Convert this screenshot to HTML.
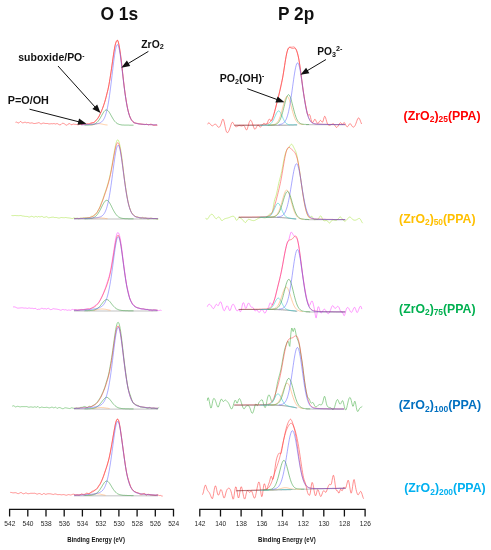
<!DOCTYPE html>
<html><head><meta charset="utf-8"><title>XPS O 1s / P 2p</title>
<style>
html,body{margin:0;padding:0;background:#fff;}
body{width:491px;height:550px;overflow:hidden;font-family:"Liberation Sans",sans-serif;}
svg{display:block;font-family:"Liberation Sans",sans-serif;opacity:0.999;will-change:transform;}
</style></head><body>
<svg width="491" height="550" viewBox="0 0 491 550">
<rect width="491" height="550" fill="#fff"/>
<g id="curves">
<path d="M15.5 122.3 L16.0 122.2 L16.5 122.1 L17.0 122.3 L17.5 122.6 L18.0 122.8 L18.5 123.0 L19.0 122.9 L19.5 122.3 L20.0 121.7 L20.5 121.5 L21.0 121.8 L21.5 122.2 L22.0 122.6 L22.5 122.8 L23.0 122.8 L23.5 122.7 L24.0 122.5 L24.5 122.3 L25.0 122.1 L25.5 122.3 L26.0 122.6 L26.5 122.8 L27.0 122.8 L27.5 122.6 L28.0 122.5 L28.5 122.6 L29.0 122.8 L29.5 123.0 L30.0 123.1 L30.5 123.1 L31.0 123.0 L31.5 122.9 L32.0 122.9 L32.5 123.0 L33.0 123.2 L33.5 123.4 L34.0 123.5 L34.5 123.5 L35.0 123.5 L35.5 123.4 L36.0 123.3 L36.5 123.2 L37.0 123.1 L37.5 123.0 L38.0 122.8 L38.5 122.7 L39.0 122.7 L39.5 122.9 L40.0 123.3 L40.5 123.7 L41.0 123.9 L41.5 123.8 L42.0 123.6 L42.5 123.3 L43.0 123.1 L43.5 123.1 L44.0 123.2 L44.5 123.3 L45.0 123.4 L45.5 123.5 L46.0 123.6 L46.5 123.5 L47.0 123.5 L47.5 123.5 L48.0 123.6 L48.5 123.8 L49.0 123.9 L49.5 123.9 L50.0 123.9 L50.5 123.8 L51.0 123.7 L51.5 123.7 L52.0 123.8 L52.5 123.8 L53.0 123.7 L53.5 123.6 L54.0 123.6 L54.5 123.7 L55.0 123.9 L55.5 124.0 L56.0 123.9 L56.5 123.7 L57.0 123.6 L57.5 123.7 L58.0 124.0 L58.5 124.3 L59.0 124.6 L59.5 124.8 L60.0 124.9 L60.5 124.7 L61.0 124.4 L61.5 123.9 L62.0 123.5 L62.5 123.3 L63.0 123.3 L63.5 123.4 L64.0 123.6 L64.5 123.9 L65.0 124.3 L65.5 124.7 L66.0 125.0 L66.5 125.2 L67.0 125.2 L67.5 124.8 L68.0 124.3 L68.5 123.9 L69.0 123.6 L69.5 123.6 L70.0 123.7 L70.5 124.1 L71.0 124.6 L71.5 124.7 L72.0 124.6 L72.5 124.4 L73.0 124.2 L73.5 124.1 L74.0 124.2 L74.5 124.3 L75.0 124.3 L75.5 124.4 L76.0 124.4 L76.5 124.5 L77.0 124.6 L77.5 124.7 L78.0 124.7 L78.5 124.7 L79.0 124.5 L79.5 124.4 L80.0 124.4 L80.5 124.4 L81.0 124.5 L81.5 124.5 L82.0 124.5 L82.5 124.3 L83.0 124.2 L83.5 124.1 L84.0 124.0 L84.5 124.0 L85.0 124.0 L85.5 124.1 L86.0 124.1 L86.5 124.0 L87.0 123.8 L87.5 123.7 L88.0 123.8 L88.5 123.9 L89.0 123.9 L89.5 123.8 L90.0 123.5 L90.5 123.1 L91.0 122.8 L91.5 122.6 L92.0 122.5 L92.5 122.5 L93.0 122.6 L93.5 122.7 L94.0 122.6 L94.5 122.2 L95.0 121.6 L95.5 121.0 L96.0 120.3 L96.5 119.8 L97.0 119.2 L97.5 118.7 L98.0 118.0 L98.5 117.3 L99.0 116.3 L99.5 115.3 L100.0 114.1 L100.5 113.0 L101.0 111.9 L101.5 110.8 L102.0 109.7 L102.5 108.4 L103.0 107.1 L103.5 105.7 L104.0 104.2 L104.5 102.7 L105.0 101.1 L105.5 99.2 L106.0 97.2 L106.5 95.1 L107.0 93.1 L107.5 91.3 L108.0 89.4 L108.5 87.1 L109.0 84.4 L109.5 81.4 L110.0 78.3 L110.5 75.1 L111.0 71.8 L111.5 68.5 L112.0 65.0 L112.5 61.4 L113.0 57.9 L113.5 54.4 L114.0 51.2 L114.5 48.2 L115.0 45.7 L115.5 43.8 L116.0 42.4 L116.5 41.3 L117.0 40.4 L117.5 40.1 L118.0 40.8 L118.5 42.5 L119.0 45.0 L119.5 47.8 L120.0 50.9 L120.5 54.3 L121.0 58.0 L121.5 62.2 L122.0 66.7 L122.5 71.5 L123.0 76.2 L123.5 80.8 L124.0 85.2 L124.5 89.2 L125.0 92.9 L125.5 96.2 L126.0 99.4 L126.5 102.4 L127.0 105.2 L127.5 107.8 L128.0 110.1 L128.5 112.2 L129.0 114.0 L129.5 115.6 L130.0 117.0 L130.5 118.2 L131.0 119.2 L131.5 119.9 L132.0 120.6 L132.5 121.3 L133.0 122.0 L133.5 122.6 L134.0 123.0 L134.5 123.1 L135.0 123.2 L135.5 123.1 L136.0 123.1 L136.5 123.2 L137.0 123.2 L137.5 123.4 L138.0 123.5 L138.5 123.7 L139.0 123.8 L139.5 123.9 L140.0 123.9 L140.5 124.0 L141.0 124.1 L141.5 124.2 L142.0 124.2 L142.5 124.3 L143.0 124.3 L143.5 124.4 L144.0 124.5 L144.5 124.6 L145.0 124.7 L145.5 124.5 L146.0 124.2 L146.5 124.0 L147.0 124.1 L147.5 124.5 L148.0 124.8 L148.5 125.0 L149.0 124.8 L149.5 124.5 L150.0 124.3 L150.5 124.2 L151.0 124.2 L151.5 124.3 L152.0 124.6 L152.5 124.9 L153.0 125.2 L153.5 125.4 L154.0 125.5 L154.5 125.4 L155.0 125.4 L155.5 125.3 L156.0 125.2 L156.5 125.2 L157.0 125.2 L157.5 125.2" fill="none" stroke="#ff5050" stroke-width="0.75" stroke-opacity="0.85" stroke-linejoin="round"/>
<path d="M81.0 124.7 L81.5 124.6 L82.0 124.6 L82.5 124.6 L83.0 124.6 L83.5 124.6 L84.0 124.5 L84.5 124.5 L85.0 124.5 L85.5 124.4 L86.0 124.4 L86.5 124.4 L87.0 124.3 L87.5 124.3 L88.0 124.2 L88.5 124.2 L89.0 124.1 L89.5 124.0 L90.0 123.9 L90.5 123.8 L91.0 123.7 L91.5 123.5 L92.0 123.3 L92.5 123.1 L93.0 122.9 L93.5 122.6 L94.0 122.3 L94.5 121.9 L95.0 121.5 L95.5 121.1 L96.0 120.6 L96.5 120.0 L97.0 119.4 L97.5 118.7 L98.0 118.0 L98.5 117.2 L99.0 116.4 L99.5 115.4 L100.0 114.5 L100.5 113.4 L101.0 112.3 L101.5 111.1 L102.0 109.9 L102.5 108.6 L103.0 107.2 L103.5 105.8 L104.0 104.3 L104.5 102.7 L105.0 101.1 L105.5 99.4 L106.0 97.6 L106.5 95.7 L107.0 93.7 L107.5 91.6 L108.0 89.4 L108.5 87.0 L109.0 84.5 L109.5 81.7 L110.0 78.8 L110.5 75.7 L111.0 72.4 L111.5 69.0 L112.0 65.5 L112.5 61.9 L113.0 58.4 L113.5 55.0 L114.0 51.7 L114.5 48.7 L115.0 46.0 L115.5 43.8 L116.0 42.0 L116.5 40.9 L117.0 40.4 L117.5 40.6 L118.0 41.5 L118.5 43.0 L119.0 45.2 L119.5 48.0 L120.0 51.3 L120.5 54.9 L121.0 58.9 L121.5 63.2 L122.0 67.5 L122.5 72.0 L123.0 76.4 L123.5 80.8 L124.0 85.0 L124.5 89.0 L125.0 92.9 L125.5 96.5 L126.0 99.8 L126.5 102.9 L127.0 105.7 L127.5 108.2 L128.0 110.4 L128.5 112.4 L129.0 114.1 L129.5 115.7 L130.0 117.0 L130.5 118.1 L131.0 119.0 L131.5 119.9 L132.0 120.5 L132.5 121.1 L133.0 121.6 L133.5 122.0 L134.0 122.3 L134.5 122.6 L135.0 122.9 L135.5 123.1 L136.0 123.2 L136.5 123.4 L137.0 123.5 L137.5 123.6 L138.0 123.7 L138.5 123.8 L139.0 123.9 L139.5 123.9 L140.0 124.0 L140.5 124.0 L141.0 124.1 L141.5 124.1 L142.0 124.2 L142.5 124.2 L143.0 124.3 L143.5 124.3 L144.0 124.3 L144.5 124.4 L145.0 124.4 L145.5 124.4 L146.0 124.5 L146.5 124.5 L147.0 124.5 L147.5 124.5 L148.0 124.6 L148.5 124.6 L149.0 124.6 L149.5 124.6 L150.0 124.6 L150.5 124.7 L151.0 124.7 L151.5 124.7 L152.0 124.7 L152.5 124.7 L153.0 124.7 L153.5 124.8 L154.0 124.8 L154.5 124.8 L155.0 124.8 L155.5 124.8 L156.0 124.8 L156.5 124.8 L157.0 124.8" fill="none" stroke="#ff3838" stroke-width="0.7" stroke-opacity="0.75" stroke-linejoin="round"/>
<path d="M90.5 125.0 L91.0 125.0 L91.5 124.9 L92.0 124.9 L92.5 124.8 L93.0 124.7 L93.5 124.6 L94.0 124.5 L94.5 124.4 L95.0 124.3 L95.5 124.2 L96.0 124.1 L96.5 124.0 L97.0 123.9 L97.5 123.8 L98.0 123.7 L98.5 123.7 L99.0 123.7 L99.5 123.7 L100.0 123.7 L100.5 123.8 L101.0 123.9 L101.5 124.0 L102.0 124.1 L102.5 124.2 L103.0 124.3 L103.5 124.4 L104.0 124.5 L104.5 124.6 L105.0 124.7 L105.5 124.8 L106.0 124.9 L106.5 124.9 L107.0 125.0 L107.5 125.0" fill="none" stroke="#ffb070" stroke-width="0.7" stroke-opacity="0.9" stroke-linejoin="round"/>
<path d="M84.5 125.1 L85.0 125.1 L85.5 125.1 L86.0 125.1 L86.5 125.1 L87.0 125.1 L87.5 125.1 L88.0 125.1 L88.5 125.1 L89.0 125.0 L89.5 125.0 L90.0 125.0 L90.5 124.9 L91.0 124.9 L91.5 124.8 L92.0 124.8 L92.5 124.7 L93.0 124.6 L93.5 124.4 L94.0 124.3 L94.5 124.1 L95.0 123.8 L95.5 123.5 L96.0 123.2 L96.5 122.8 L97.0 122.4 L97.5 121.9 L98.0 121.3 L98.5 120.7 L99.0 120.0 L99.5 119.3 L100.0 118.4 L100.5 117.6 L101.0 116.7 L101.5 115.8 L102.0 114.9 L102.5 114.0 L103.0 113.2 L103.5 112.4 L104.0 111.6 L104.5 111.0 L105.0 110.5 L105.5 110.2 L106.0 110.0 L106.5 109.9 L107.0 110.0 L107.5 110.3 L108.0 110.7 L108.5 111.3 L109.0 111.9 L109.5 112.7 L110.0 113.5 L110.5 114.4 L111.0 115.3 L111.5 116.2 L112.0 117.1 L112.5 117.9 L113.0 118.8 L113.5 119.6 L114.0 120.3 L114.5 121.0 L115.0 121.6 L115.5 122.1 L116.0 122.6 L116.5 123.0 L117.0 123.4 L117.5 123.7 L118.0 123.9 L118.5 124.1 L119.0 124.3 L119.5 124.5 L120.0 124.6 L120.5 124.7 L121.0 124.8 L121.5 124.9 L122.0 124.9 L122.5 125.0 L123.0 125.0 L123.5 125.0 L124.0 125.0 L124.5 125.1 L125.0 125.1 L125.5 125.1 L126.0 125.1 L126.5 125.1 L127.0 125.1 L127.5 125.1 L128.0 125.1 L128.5 125.1 L129.0 125.2 L129.5 125.2 L130.0 125.2 L130.5 125.2 L131.0 125.2 L131.5 125.2 L132.0 125.2 L132.5 125.2 L133.0 125.2 L133.5 125.2" fill="none" stroke="#3f9f43" stroke-width="0.7" stroke-opacity="0.85" stroke-linejoin="round"/>
<path d="M81.0 124.8 L81.5 124.8 L82.0 124.8 L82.5 124.8 L83.0 124.7 L83.5 124.7 L84.0 124.7 L84.5 124.7 L85.0 124.7 L85.5 124.7 L86.0 124.6 L86.5 124.6 L87.0 124.6 L87.5 124.6 L88.0 124.5 L88.5 124.5 L89.0 124.5 L89.5 124.5 L90.0 124.4 L90.5 124.4 L91.0 124.4 L91.5 124.3 L92.0 124.3 L92.5 124.3 L93.0 124.2 L93.5 124.2 L94.0 124.1 L94.5 124.1 L95.0 124.0 L95.5 124.0 L96.0 123.9 L96.5 123.8 L97.0 123.7 L97.5 123.6 L98.0 123.5 L98.5 123.4 L99.0 123.3 L99.5 123.1 L100.0 122.9 L100.5 122.6 L101.0 122.3 L101.5 122.0 L102.0 121.5 L102.5 121.0 L103.0 120.4 L103.5 119.7 L104.0 118.8 L104.5 117.8 L105.0 116.6 L105.5 115.3 L106.0 113.7 L106.5 111.9 L107.0 109.8 L107.5 107.5 L108.0 104.9 L108.5 102.1 L109.0 99.0 L109.5 95.6 L110.0 92.0 L110.5 88.1 L111.0 84.1 L111.5 80.0 L112.0 75.7 L112.5 71.5 L113.0 67.2 L113.5 63.1 L114.0 59.2 L114.5 55.6 L115.0 52.4 L115.5 49.6 L116.0 47.4 L116.5 45.8 L117.0 44.8 L117.5 44.6 L118.0 45.1 L118.5 46.3 L119.0 48.2 L119.5 50.6 L120.0 53.6 L120.5 57.0 L121.0 60.8 L121.5 64.8 L122.0 68.9 L122.5 73.2 L123.0 77.4 L123.5 81.7 L124.0 85.8 L124.5 89.7 L125.0 93.5 L125.5 97.0 L126.0 100.2 L126.5 103.3 L127.0 106.0 L127.5 108.5 L128.0 110.7 L128.5 112.6 L129.0 114.3 L129.5 115.8 L130.0 117.1 L130.5 118.2 L131.0 119.2 L131.5 120.0 L132.0 120.7 L132.5 121.2 L133.0 121.7 L133.5 122.1 L134.0 122.5 L134.5 122.7 L135.0 123.0 L135.5 123.2 L136.0 123.3 L136.5 123.5 L137.0 123.6 L137.5 123.7 L138.0 123.8 L138.5 123.9 L139.0 123.9 L139.5 124.0 L140.0 124.1 L140.5 124.1 L141.0 124.2 L141.5 124.2 L142.0 124.2 L142.5 124.3 L143.0 124.3 L143.5 124.4 L144.0 124.4 L144.5 124.4 L145.0 124.5 L145.5 124.5 L146.0 124.5 L146.5 124.5 L147.0 124.6 L147.5 124.6 L148.0 124.6 L148.5 124.6 L149.0 124.6 L149.5 124.7 L150.0 124.7 L150.5 124.7 L151.0 124.7 L151.5 124.7 L152.0 124.7 L152.5 124.8 L153.0 124.8 L153.5 124.8 L154.0 124.8 L154.5 124.8 L155.0 124.8 L155.5 124.8 L156.0 124.9 L156.5 124.9 L157.0 124.9" fill="none" stroke="#5a5aff" stroke-width="0.7" stroke-opacity="0.72" stroke-linejoin="round"/>
<path d="M11.5 215.5 L12.0 215.6 L12.5 215.6 L13.0 215.6 L13.5 215.6 L14.0 215.6 L14.5 215.5 L15.0 215.5 L15.5 215.5 L16.0 215.5 L16.5 215.6 L17.0 215.6 L17.5 215.6 L18.0 215.6 L18.5 215.7 L19.0 215.7 L19.5 215.6 L20.0 215.5 L20.5 215.5 L21.0 215.5 L21.5 215.7 L22.0 215.8 L22.5 216.0 L23.0 216.1 L23.5 216.1 L24.0 216.2 L24.5 216.3 L25.0 216.4 L25.5 216.4 L26.0 216.5 L26.5 216.4 L27.0 216.4 L27.5 216.5 L28.0 216.7 L28.5 216.9 L29.0 217.1 L29.5 217.0 L30.0 216.9 L30.5 216.7 L31.0 216.5 L31.5 216.3 L32.0 216.3 L32.5 216.5 L33.0 216.8 L33.5 217.0 L34.0 217.1 L34.5 217.0 L35.0 216.7 L35.5 216.4 L36.0 216.4 L36.5 216.6 L37.0 216.9 L37.5 217.0 L38.0 216.7 L38.5 216.5 L39.0 216.6 L39.5 216.8 L40.0 216.9 L40.5 216.8 L41.0 216.6 L41.5 216.4 L42.0 216.4 L42.5 216.6 L43.0 217.0 L43.5 217.3 L44.0 217.4 L44.5 217.3 L45.0 217.2 L45.5 217.0 L46.0 216.8 L46.5 216.7 L47.0 216.9 L47.5 217.2 L48.0 217.6 L48.5 217.8 L49.0 217.9 L49.5 217.7 L50.0 217.6 L50.5 217.5 L51.0 217.4 L51.5 217.3 L52.0 217.3 L52.5 217.2 L53.0 217.2 L53.5 217.2 L54.0 217.4 L54.5 217.5 L55.0 217.5 L55.5 217.5 L56.0 217.5 L56.5 217.5 L57.0 217.7 L57.5 217.8 L58.0 217.9 L58.5 218.0 L59.0 218.0 L59.5 218.0 L60.0 217.9 L60.5 217.7 L61.0 217.6 L61.5 217.5 L62.0 217.5 L62.5 217.6 L63.0 217.6 L63.5 217.7 L64.0 217.7 L64.5 217.7 L65.0 217.6 L65.5 217.5 L66.0 217.5 L66.5 217.6 L67.0 217.7 L67.5 217.8 L68.0 217.9 L68.5 217.9 L69.0 218.0 L69.5 218.0 L70.0 218.1 L70.5 218.2 L71.0 218.3 L71.5 218.4 L72.0 218.5 L72.5 218.5 L73.0 218.3 L73.5 218.1 L74.0 217.9 L74.5 218.0 L75.0 218.2 L75.5 218.3 L76.0 218.3 L76.5 218.2 L77.0 218.1 L77.5 218.1 L78.0 218.5 L78.5 218.8 L79.0 218.8 L79.5 218.6 L80.0 218.3 L80.5 218.1 L81.0 218.1 L81.5 218.2 L82.0 218.2 L82.5 218.1 L83.0 217.9 L83.5 217.7 L84.0 217.7 L84.5 217.7 L85.0 217.7 L85.5 217.8 L86.0 217.9 L86.5 217.8 L87.0 217.7 L87.5 217.6 L88.0 217.5 L88.5 217.5 L89.0 217.5 L89.5 217.5 L90.0 217.3 L90.5 217.0 L91.0 216.6 L91.5 216.3 L92.0 216.2 L92.5 216.2 L93.0 216.1 L93.5 215.9 L94.0 215.3 L94.5 214.7 L95.0 214.2 L95.5 214.0 L96.0 213.8 L96.5 213.3 L97.0 212.5 L97.5 211.5 L98.0 210.4 L98.5 209.5 L99.0 208.7 L99.5 207.9 L100.0 206.7 L100.5 205.2 L101.0 203.7 L101.5 202.4 L102.0 201.3 L102.5 200.2 L103.0 198.8 L103.5 197.2 L104.0 195.6 L104.5 194.0 L105.0 192.6 L105.5 191.2 L106.0 189.8 L106.5 188.3 L107.0 186.7 L107.5 185.0 L108.0 183.3 L108.5 181.4 L109.0 179.5 L109.5 177.5 L110.0 175.3 L110.5 173.1 L111.0 170.6 L111.5 168.0 L112.0 165.3 L112.5 162.4 L113.0 159.5 L113.5 156.6 L114.0 153.7 L114.5 150.8 L115.0 148.0 L115.5 145.5 L116.0 143.4 L116.5 141.7 L117.0 140.5 L117.5 139.9 L118.0 139.9 L118.5 140.6 L119.0 141.9 L119.5 143.7 L120.0 146.1 L120.5 148.7 L121.0 151.6 L121.5 154.9 L122.0 158.5 L122.5 162.5 L123.0 166.8 L123.5 171.1 L124.0 175.2 L124.5 179.1 L125.0 182.7 L125.5 186.2 L126.0 189.6 L126.5 192.8 L127.0 195.9 L127.5 198.8 L128.0 201.4 L128.5 203.7 L129.0 205.7 L129.5 207.4 L130.0 208.9 L130.5 210.3 L131.0 211.5 L131.5 212.4 L132.0 213.2 L132.5 213.7 L133.0 214.1 L133.5 214.7 L134.0 215.2 L134.5 215.8 L135.0 216.3 L135.5 216.6 L136.0 216.8 L136.5 216.9 L137.0 216.8 L137.5 216.8 L138.0 217.0 L138.5 217.3 L139.0 217.6 L139.5 217.9 L140.0 218.1 L140.5 218.2 L141.0 218.2 L141.5 218.0 L142.0 217.6 L142.5 217.3 L143.0 217.4 L143.5 217.8 L144.0 218.1 L144.5 218.1 L145.0 217.9 L145.5 217.8 L146.0 217.9 L146.5 218.2 L147.0 218.6 L147.5 218.9 L148.0 219.0 L148.5 219.0 L149.0 218.9 L149.5 218.6 L150.0 218.3 L150.5 218.1 L151.0 218.1 L151.5 218.2 L152.0 218.3 L152.5 218.5 L153.0 218.6 L153.5 218.7 L154.0 218.7 L154.5 218.7 L155.0 218.6 L155.5 218.6 L156.0 218.8 L156.5 219.0 L157.0 219.2 L157.5 219.2 L158.0 219.1 L158.5 218.9" fill="none" stroke="#b4e85a" stroke-width="0.75" stroke-opacity="0.85" stroke-linejoin="round"/>
<path d="M74.0 218.6 L74.5 218.5 L75.0 218.5 L75.5 218.5 L76.0 218.5 L76.5 218.5 L77.0 218.5 L77.5 218.5 L78.0 218.5 L78.5 218.4 L79.0 218.4 L79.5 218.4 L80.0 218.4 L80.5 218.4 L81.0 218.4 L81.5 218.3 L82.0 218.3 L82.5 218.3 L83.0 218.3 L83.5 218.2 L84.0 218.2 L84.5 218.2 L85.0 218.1 L85.5 218.1 L86.0 218.1 L86.5 218.0 L87.0 218.0 L87.5 217.9 L88.0 217.8 L88.5 217.8 L89.0 217.7 L89.5 217.6 L90.0 217.5 L90.5 217.3 L91.0 217.2 L91.5 217.0 L92.0 216.8 L92.5 216.5 L93.0 216.3 L93.5 216.0 L94.0 215.6 L94.5 215.2 L95.0 214.8 L95.5 214.3 L96.0 213.7 L96.5 213.1 L97.0 212.4 L97.5 211.7 L98.0 210.9 L98.5 210.0 L99.0 209.1 L99.5 208.1 L100.0 207.0 L100.5 205.9 L101.0 204.7 L101.5 203.4 L102.0 202.2 L102.5 200.8 L103.0 199.5 L103.5 198.1 L104.0 196.7 L104.5 195.3 L105.0 193.8 L105.5 192.4 L106.0 190.9 L106.5 189.4 L107.0 187.8 L107.5 186.2 L108.0 184.5 L108.5 182.8 L109.0 180.9 L109.5 178.9 L110.0 176.8 L110.5 174.5 L111.0 172.1 L111.5 169.5 L112.0 166.8 L112.5 164.0 L113.0 161.2 L113.5 158.3 L114.0 155.5 L114.5 152.8 L115.0 150.3 L115.5 148.0 L116.0 146.0 L116.5 144.5 L117.0 143.4 L117.5 142.8 L118.0 142.8 L118.5 143.3 L119.0 144.5 L119.5 146.2 L120.0 148.4 L120.5 151.0 L121.0 154.1 L121.5 157.4 L122.0 161.1 L122.5 164.8 L123.0 168.7 L123.5 172.6 L124.0 176.5 L124.5 180.3 L125.0 183.9 L125.5 187.5 L126.0 190.8 L126.5 193.9 L127.0 196.8 L127.5 199.4 L128.0 201.8 L128.5 204.0 L129.0 205.9 L129.5 207.6 L130.0 209.1 L130.5 210.4 L131.0 211.6 L131.5 212.6 L132.0 213.4 L132.5 214.1 L133.0 214.7 L133.5 215.2 L134.0 215.6 L134.5 216.0 L135.0 216.3 L135.5 216.5 L136.0 216.7 L136.5 216.9 L137.0 217.1 L137.5 217.2 L138.0 217.3 L138.5 217.4 L139.0 217.5 L139.5 217.6 L140.0 217.6 L140.5 217.7 L141.0 217.8 L141.5 217.8 L142.0 217.9 L142.5 217.9 L143.0 217.9 L143.5 218.0 L144.0 218.0 L144.5 218.0 L145.0 218.1 L145.5 218.1 L146.0 218.1 L146.5 218.2 L147.0 218.2 L147.5 218.2 L148.0 218.2 L148.5 218.3 L149.0 218.3 L149.5 218.3 L150.0 218.3 L150.5 218.4 L151.0 218.4 L151.5 218.4 L152.0 218.4 L152.5 218.4 L153.0 218.4 L153.5 218.5 L154.0 218.5 L154.5 218.5 L155.0 218.5 L155.5 218.5 L156.0 218.5 L156.5 218.5 L157.0 218.5 L157.5 218.6 L158.0 218.6" fill="none" stroke="#ff3838" stroke-width="0.7" stroke-opacity="0.75" stroke-linejoin="round"/>
<path d="M74.0 219.0 L74.5 219.0 L75.0 219.0 L75.5 219.0 L76.0 219.0 L76.5 219.0 L77.0 219.0 L77.5 219.0 L78.0 219.0 L78.5 219.0 L79.0 219.0 L79.5 219.0 L80.0 219.0 L80.5 219.0 L81.0 219.0 L81.5 219.0 L82.0 219.0 L82.5 219.0 L83.0 219.0 L83.5 219.0 L84.0 219.0 L84.5 219.0 L85.0 219.0 L85.5 219.0 L86.0 219.0 L86.5 219.0 L87.0 219.0 L87.5 219.0 L88.0 219.0 L88.5 219.0 L89.0 219.0 L89.5 219.0 L90.0 219.0 L90.5 219.0 L91.0 219.0 L91.5 219.0 L92.0 219.0 L92.5 219.0 L93.0 219.0 L93.5 219.0 L94.0 219.0 L94.5 219.0 L95.0 219.0 L95.5 219.0 L96.0 219.0 L96.5 219.0 L97.0 219.0 L97.5 219.0 L98.0 219.0 L98.5 219.0 L99.0 219.0 L99.5 219.0 L100.0 219.0 L100.5 219.0 L101.0 219.0 L101.5 219.0 L102.0 219.0 L102.5 219.0 L103.0 219.0 L103.5 219.0 L104.0 219.0 L104.5 219.0 L105.0 219.0 L105.5 219.0 L106.0 219.0 L106.5 219.0 L107.0 219.0 L107.5 219.0 L108.0 219.0 L108.5 219.0 L109.0 219.0 L109.5 219.0 L110.0 219.0 L110.5 219.0 L111.0 219.0 L111.5 219.0 L112.0 219.0 L112.5 219.0 L113.0 219.0 L113.5 219.0 L114.0 219.0 L114.5 219.0 L115.0 219.0 L115.5 219.0 L116.0 219.0 L116.5 219.0 L117.0 219.0 L117.5 219.0 L118.0 219.0 L118.5 219.0 L119.0 219.0 L119.5 219.0 L120.0 219.0 L120.5 219.0 L121.0 219.0 L121.5 219.0 L122.0 219.0 L122.5 219.0 L123.0 219.0 L123.5 219.0 L124.0 219.0 L124.5 219.0 L125.0 219.0 L125.5 219.0 L126.0 219.0 L126.5 219.0 L127.0 219.0 L127.5 219.0 L128.0 219.0 L128.5 219.0 L129.0 219.0 L129.5 219.0 L130.0 219.0 L130.5 219.0 L131.0 219.0 L131.5 219.0 L132.0 219.0 L132.5 219.0 L133.0 219.0 L133.5 219.0 L134.0 219.0 L134.5 219.0 L135.0 219.0 L135.5 219.0 L136.0 219.0 L136.5 219.0 L137.0 219.0 L137.5 219.0 L138.0 219.0 L138.5 219.0 L139.0 219.0 L139.5 219.0 L140.0 219.0 L140.5 219.0 L141.0 219.0 L141.5 219.0 L142.0 219.0 L142.5 219.0 L143.0 219.0 L143.5 219.0 L144.0 219.0 L144.5 219.0 L145.0 219.0 L145.5 219.0 L146.0 219.0 L146.5 219.0 L147.0 219.0 L147.5 219.0 L148.0 219.0 L148.5 219.0 L149.0 219.0 L149.5 219.0 L150.0 219.0 L150.5 219.0 L151.0 219.0 L151.5 219.0 L152.0 219.0 L152.5 219.0 L153.0 219.0 L153.5 219.0 L154.0 219.0 L154.5 219.0 L155.0 219.0 L155.5 219.0 L156.0 219.0 L156.5 219.0 L157.0 219.0 L157.5 219.0 L158.0 219.0" fill="none" stroke="#15151c" stroke-width="0.6" stroke-opacity="0.45" stroke-linejoin="round"/>
<path d="M90.5 218.7 L91.0 218.6 L91.5 218.6 L92.0 218.5 L92.5 218.5 L93.0 218.4 L93.5 218.3 L94.0 218.3 L94.5 218.2 L95.0 218.1 L95.5 218.1 L96.0 218.0 L96.5 217.9 L97.0 217.9 L97.5 217.9 L98.0 217.8 L98.5 217.8 L99.0 217.8 L99.5 217.8 L100.0 217.8 L100.5 217.9 L101.0 217.9 L101.5 217.9 L102.0 218.0 L102.5 218.1 L103.0 218.1 L103.5 218.2 L104.0 218.3 L104.5 218.3 L105.0 218.4 L105.5 218.5 L106.0 218.5 L106.5 218.6 L107.0 218.6 L107.5 218.7" fill="none" stroke="#ffb070" stroke-width="0.7" stroke-opacity="0.9" stroke-linejoin="round"/>
<path d="M84.5 218.8 L85.0 218.8 L85.5 218.8 L86.0 218.7 L86.5 218.7 L87.0 218.7 L87.5 218.7 L88.0 218.7 L88.5 218.6 L89.0 218.6 L89.5 218.6 L90.0 218.5 L90.5 218.4 L91.0 218.4 L91.5 218.3 L92.0 218.1 L92.5 218.0 L93.0 217.8 L93.5 217.6 L94.0 217.4 L94.5 217.1 L95.0 216.8 L95.5 216.4 L96.0 216.0 L96.5 215.5 L97.0 214.9 L97.5 214.3 L98.0 213.6 L98.5 212.8 L99.0 212.0 L99.5 211.2 L100.0 210.2 L100.5 209.3 L101.0 208.3 L101.5 207.3 L102.0 206.2 L102.5 205.2 L103.0 204.3 L103.5 203.4 L104.0 202.6 L104.5 201.8 L105.0 201.2 L105.5 200.8 L106.0 200.5 L106.5 200.3 L107.0 200.3 L107.5 200.5 L108.0 200.9 L108.5 201.4 L109.0 202.0 L109.5 202.7 L110.0 203.6 L110.5 204.5 L111.0 205.4 L111.5 206.4 L112.0 207.5 L112.5 208.5 L113.0 209.5 L113.5 210.4 L114.0 211.3 L114.5 212.2 L115.0 213.0 L115.5 213.7 L116.0 214.4 L116.5 215.0 L117.0 215.6 L117.5 216.1 L118.0 216.5 L118.5 216.9 L119.0 217.2 L119.5 217.4 L120.0 217.7 L120.5 217.9 L121.0 218.0 L121.5 218.2 L122.0 218.3 L122.5 218.4 L123.0 218.4 L123.5 218.5 L124.0 218.6 L124.5 218.6 L125.0 218.6 L125.5 218.7 L126.0 218.7 L126.5 218.7 L127.0 218.7 L127.5 218.7 L128.0 218.8 L128.5 218.8 L129.0 218.8 L129.5 218.8 L130.0 218.8 L130.5 218.8 L131.0 218.8 L131.5 218.8 L132.0 218.8 L132.5 218.8 L133.0 218.8 L133.5 218.8" fill="none" stroke="#3f9f43" stroke-width="0.7" stroke-opacity="0.85" stroke-linejoin="round"/>
<path d="M74.0 218.7 L74.5 218.7 L75.0 218.7 L75.5 218.7 L76.0 218.6 L76.5 218.6 L77.0 218.6 L77.5 218.6 L78.0 218.6 L78.5 218.6 L79.0 218.6 L79.5 218.6 L80.0 218.6 L80.5 218.6 L81.0 218.5 L81.5 218.5 L82.0 218.5 L82.5 218.5 L83.0 218.5 L83.5 218.5 L84.0 218.5 L84.5 218.5 L85.0 218.4 L85.5 218.4 L86.0 218.4 L86.5 218.4 L87.0 218.4 L87.5 218.3 L88.0 218.3 L88.5 218.3 L89.0 218.3 L89.5 218.3 L90.0 218.2 L90.5 218.2 L91.0 218.2 L91.5 218.1 L92.0 218.1 L92.5 218.1 L93.0 218.0 L93.5 218.0 L94.0 218.0 L94.5 217.9 L95.0 217.9 L95.5 217.8 L96.0 217.8 L96.5 217.7 L97.0 217.6 L97.5 217.6 L98.0 217.5 L98.5 217.4 L99.0 217.3 L99.5 217.1 L100.0 216.9 L100.5 216.8 L101.0 216.5 L101.5 216.3 L102.0 215.9 L102.5 215.5 L103.0 215.1 L103.5 214.5 L104.0 213.9 L104.5 213.1 L105.0 212.2 L105.5 211.1 L106.0 209.9 L106.5 208.5 L107.0 206.8 L107.5 205.0 L108.0 203.0 L108.5 200.7 L109.0 198.1 L109.5 195.4 L110.0 192.4 L110.5 189.1 L111.0 185.7 L111.5 182.1 L112.0 178.4 L112.5 174.6 L113.0 170.8 L113.5 167.0 L114.0 163.2 L114.5 159.7 L115.0 156.3 L115.5 153.3 L116.0 150.7 L116.5 148.5 L117.0 146.8 L117.5 145.8 L118.0 145.3 L118.5 145.5 L119.0 146.3 L119.5 147.7 L120.0 149.7 L120.5 152.2 L121.0 155.1 L121.5 158.3 L122.0 161.8 L122.5 165.5 L123.0 169.3 L123.5 173.1 L124.0 176.9 L124.5 180.7 L125.0 184.3 L125.5 187.8 L126.0 191.1 L126.5 194.2 L127.0 197.1 L127.5 199.7 L128.0 202.1 L128.5 204.2 L129.0 206.1 L129.5 207.8 L130.0 209.3 L130.5 210.6 L131.0 211.8 L131.5 212.7 L132.0 213.6 L132.5 214.3 L133.0 214.9 L133.5 215.4 L134.0 215.8 L134.5 216.1 L135.0 216.4 L135.5 216.7 L136.0 216.9 L136.5 217.1 L137.0 217.2 L137.5 217.3 L138.0 217.4 L138.5 217.5 L139.0 217.6 L139.5 217.7 L140.0 217.7 L140.5 217.8 L141.0 217.9 L141.5 217.9 L142.0 217.9 L142.5 218.0 L143.0 218.0 L143.5 218.1 L144.0 218.1 L144.5 218.1 L145.0 218.2 L145.5 218.2 L146.0 218.2 L146.5 218.2 L147.0 218.3 L147.5 218.3 L148.0 218.3 L148.5 218.3 L149.0 218.4 L149.5 218.4 L150.0 218.4 L150.5 218.4 L151.0 218.4 L151.5 218.4 L152.0 218.5 L152.5 218.5 L153.0 218.5 L153.5 218.5 L154.0 218.5 L154.5 218.5 L155.0 218.5 L155.5 218.6 L156.0 218.6 L156.5 218.6 L157.0 218.6 L157.5 218.6 L158.0 218.6" fill="none" stroke="#5a5aff" stroke-width="0.7" stroke-opacity="0.72" stroke-linejoin="round"/>
<path d="M13.0 306.9 L13.5 306.9 L14.0 306.8 L14.5 306.9 L15.0 307.0 L15.5 307.2 L16.0 307.5 L16.5 307.7 L17.0 308.0 L17.5 308.1 L18.0 308.2 L18.5 308.1 L19.0 308.1 L19.5 308.0 L20.0 308.0 L20.5 307.9 L21.0 307.9 L21.5 307.8 L22.0 307.8 L22.5 307.8 L23.0 307.9 L23.5 308.0 L24.0 308.1 L24.5 308.1 L25.0 308.0 L25.5 308.0 L26.0 308.1 L26.5 308.2 L27.0 308.4 L27.5 308.4 L28.0 308.2 L28.5 308.0 L29.0 307.9 L29.5 308.0 L30.0 308.2 L30.5 308.3 L31.0 308.3 L31.5 308.3 L32.0 308.3 L32.5 308.3 L33.0 308.5 L33.5 308.6 L34.0 308.6 L34.5 308.5 L35.0 308.4 L35.5 308.4 L36.0 308.7 L36.5 309.2 L37.0 309.5 L37.5 309.5 L38.0 309.3 L38.5 309.2 L39.0 309.2 L39.5 309.3 L40.0 309.4 L40.5 309.1 L41.0 308.6 L41.5 308.1 L42.0 308.1 L42.5 308.4 L43.0 308.7 L43.5 308.8 L44.0 308.8 L44.5 308.7 L45.0 308.6 L45.5 308.7 L46.0 309.0 L46.5 309.1 L47.0 308.9 L47.5 308.5 L48.0 308.2 L48.5 308.3 L49.0 308.6 L49.5 309.0 L50.0 309.4 L50.5 309.6 L51.0 309.7 L51.5 309.5 L52.0 309.2 L52.5 309.0 L53.0 308.7 L53.5 308.7 L54.0 308.7 L54.5 308.9 L55.0 309.0 L55.5 309.0 L56.0 309.1 L56.5 309.1 L57.0 309.2 L57.5 309.3 L58.0 309.4 L58.5 309.5 L59.0 309.6 L59.5 309.8 L60.0 310.0 L60.5 310.2 L61.0 310.1 L61.5 310.0 L62.0 309.7 L62.5 309.5 L63.0 309.5 L63.5 309.6 L64.0 309.8 L64.5 309.9 L65.0 309.8 L65.5 309.7 L66.0 309.8 L66.5 310.0 L67.0 310.2 L67.5 310.3 L68.0 310.2 L68.5 310.0 L69.0 310.0 L69.5 310.1 L70.0 310.2 L70.5 310.3 L71.0 310.2 L71.5 309.8 L72.0 309.5 L72.5 309.4 L73.0 309.5 L73.5 309.7 L74.0 309.7 L74.5 309.6 L75.0 309.5 L75.5 309.5 L76.0 309.6 L76.5 310.0 L77.0 310.3 L77.5 310.4 L78.0 310.3 L78.5 310.1 L79.0 309.9 L79.5 309.8 L80.0 309.6 L80.5 309.6 L81.0 309.5 L81.5 309.4 L82.0 309.4 L82.5 309.5 L83.0 309.6 L83.5 309.6 L84.0 309.5 L84.5 309.3 L85.0 309.1 L85.5 309.0 L86.0 308.8 L86.5 308.8 L87.0 308.7 L87.5 308.7 L88.0 308.7 L88.5 308.9 L89.0 309.2 L89.5 309.4 L90.0 309.2 L90.5 308.8 L91.0 308.3 L91.5 307.8 L92.0 307.6 L92.5 307.4 L93.0 307.2 L93.5 306.9 L94.0 306.5 L94.5 306.1 L95.0 305.7 L95.5 305.3 L96.0 304.9 L96.5 304.5 L97.0 304.1 L97.5 303.7 L98.0 303.2 L98.5 302.7 L99.0 302.0 L99.5 301.1 L100.0 300.2 L100.5 299.2 L101.0 298.2 L101.5 297.2 L102.0 296.2 L102.5 295.1 L103.0 294.0 L103.5 292.8 L104.0 291.5 L104.5 290.3 L105.0 289.1 L105.5 287.7 L106.0 286.2 L106.5 284.7 L107.0 283.1 L107.5 281.5 L108.0 280.0 L108.5 278.4 L109.0 276.8 L109.5 275.0 L110.0 272.9 L110.5 270.6 L111.0 268.0 L111.5 265.2 L112.0 262.1 L112.5 259.0 L113.0 255.8 L113.5 252.6 L114.0 249.4 L114.5 246.1 L115.0 242.9 L115.5 239.9 L116.0 237.3 L116.5 235.1 L117.0 233.6 L117.5 232.7 L118.0 232.5 L118.5 232.9 L119.0 233.9 L119.5 235.4 L120.0 237.5 L120.5 240.1 L121.0 243.2 L121.5 246.7 L122.0 250.6 L122.5 254.6 L123.0 258.7 L123.5 262.7 L124.0 266.5 L124.5 270.2 L125.0 273.9 L125.5 277.4 L126.0 281.0 L126.5 284.2 L127.0 286.8 L127.5 288.8 L128.0 290.6 L128.5 292.7 L129.0 295.1 L129.5 297.4 L130.0 299.0 L130.5 300.1 L131.0 300.9 L131.5 301.8 L132.0 302.7 L132.5 303.7 L133.0 304.5 L133.5 305.1 L134.0 305.7 L134.5 306.1 L135.0 306.5 L135.5 306.9 L136.0 307.2 L136.5 307.5 L137.0 307.8 L137.5 308.0 L138.0 308.1 L138.5 308.1 L139.0 308.1 L139.5 308.3 L140.0 308.6 L140.5 308.9 L141.0 309.1 L141.5 309.1 L142.0 308.9 L142.5 308.8 L143.0 308.7 L143.5 308.8 L144.0 308.9 L144.5 309.1 L145.0 309.4 L145.5 309.6 L146.0 309.7 L146.5 309.6 L147.0 309.4 L147.5 309.3 L148.0 309.7 L148.5 310.2 L149.0 310.6 L149.5 310.5 L150.0 310.3 L150.5 310.2 L151.0 310.3 L151.5 310.6 L152.0 310.8 L152.5 310.7 L153.0 310.4 L153.5 310.0 L154.0 309.8 L154.5 309.8 L155.0 309.9 L155.5 310.1 L156.0 310.2 L156.5 310.3 L157.0 310.4 L157.5 310.5 L158.0 310.6 L158.5 310.6 L159.0 310.6 L159.5 310.4 L160.0 310.3 L160.5 310.2 L161.0 310.3 L161.5 310.5" fill="none" stroke="#ff60ff" stroke-width="0.75" stroke-opacity="0.85" stroke-linejoin="round"/>
<path d="M74.0 310.2 L74.5 310.2 L75.0 310.2 L75.5 310.2 L76.0 310.1 L76.5 310.1 L77.0 310.1 L77.5 310.1 L78.0 310.0 L78.5 310.0 L79.0 310.0 L79.5 310.0 L80.0 309.9 L80.5 309.9 L81.0 309.9 L81.5 309.8 L82.0 309.8 L82.5 309.8 L83.0 309.7 L83.5 309.7 L84.0 309.6 L84.5 309.6 L85.0 309.5 L85.5 309.5 L86.0 309.4 L86.5 309.4 L87.0 309.3 L87.5 309.2 L88.0 309.1 L88.5 309.0 L89.0 308.9 L89.5 308.8 L90.0 308.7 L90.5 308.6 L91.0 308.4 L91.5 308.3 L92.0 308.1 L92.5 307.9 L93.0 307.7 L93.5 307.4 L94.0 307.2 L94.5 306.8 L95.0 306.5 L95.5 306.1 L96.0 305.7 L96.5 305.2 L97.0 304.7 L97.5 304.2 L98.0 303.6 L98.5 302.9 L99.0 302.2 L99.5 301.4 L100.0 300.6 L100.5 299.7 L101.0 298.8 L101.5 297.8 L102.0 296.8 L102.5 295.7 L103.0 294.6 L103.5 293.5 L104.0 292.3 L104.5 291.1 L105.0 289.9 L105.5 288.7 L106.0 287.4 L106.5 286.1 L107.0 284.7 L107.5 283.3 L108.0 281.7 L108.5 280.1 L109.0 278.4 L109.5 276.5 L110.0 274.4 L110.5 272.1 L111.0 269.7 L111.5 267.0 L112.0 264.2 L112.5 261.2 L113.0 258.2 L113.5 255.0 L114.0 251.8 L114.5 248.7 L115.0 245.6 L115.5 242.8 L116.0 240.3 L116.5 238.2 L117.0 236.6 L117.5 235.6 L118.0 235.2 L118.5 235.4 L119.0 236.4 L119.5 238.0 L120.0 240.1 L120.5 242.8 L121.0 245.8 L121.5 249.2 L122.0 252.8 L122.5 256.6 L123.0 260.4 L123.5 264.2 L124.0 268.0 L124.5 271.7 L125.0 275.2 L125.5 278.5 L126.0 281.7 L126.5 284.6 L127.0 287.3 L127.5 289.8 L128.0 292.1 L128.5 294.1 L129.0 296.0 L129.5 297.6 L130.0 299.0 L130.5 300.3 L131.0 301.4 L131.5 302.4 L132.0 303.3 L132.5 304.0 L133.0 304.6 L133.5 305.2 L134.0 305.7 L134.5 306.1 L135.0 306.4 L135.5 306.8 L136.0 307.0 L136.5 307.3 L137.0 307.5 L137.5 307.7 L138.0 307.8 L138.5 308.0 L139.0 308.1 L139.5 308.3 L140.0 308.4 L140.5 308.5 L141.0 308.6 L141.5 308.7 L142.0 308.8 L142.5 308.9 L143.0 309.0 L143.5 309.0 L144.0 309.1 L144.5 309.2 L145.0 309.2 L145.5 309.3 L146.0 309.3 L146.5 309.4 L147.0 309.4 L147.5 309.5 L148.0 309.5 L148.5 309.6 L149.0 309.6 L149.5 309.7 L150.0 309.7 L150.5 309.8 L151.0 309.8 L151.5 309.8 L152.0 309.9 L152.5 309.9 L153.0 309.9 L153.5 309.9 L154.0 310.0 L154.5 310.0 L155.0 310.0 L155.5 310.0 L156.0 310.1 L156.5 310.1 L157.0 310.1 L157.5 310.1" fill="none" stroke="#ff3838" stroke-width="0.7" stroke-opacity="0.75" stroke-linejoin="round"/>
<path d="M74.0 311.0 L74.5 311.0 L75.0 311.0 L75.5 311.0 L76.0 311.0 L76.5 311.0 L77.0 311.0 L77.5 311.0 L78.0 311.0 L78.5 311.0 L79.0 311.0 L79.5 311.0 L80.0 311.0 L80.5 311.0 L81.0 311.0 L81.5 311.0 L82.0 311.0 L82.5 311.0 L83.0 311.0 L83.5 311.0 L84.0 311.0 L84.5 311.0 L85.0 311.0 L85.5 311.0 L86.0 311.0 L86.5 311.0 L87.0 311.0 L87.5 311.0 L88.0 311.0 L88.5 311.0 L89.0 311.0 L89.5 311.0 L90.0 311.0 L90.5 311.0 L91.0 311.0 L91.5 311.0 L92.0 311.0 L92.5 311.0 L93.0 311.0 L93.5 311.0 L94.0 311.0 L94.5 311.0 L95.0 311.0 L95.5 311.0 L96.0 311.0 L96.5 311.0 L97.0 311.0 L97.5 311.0 L98.0 311.0 L98.5 311.0 L99.0 311.0 L99.5 311.0 L100.0 311.0 L100.5 311.0 L101.0 311.0 L101.5 311.0 L102.0 311.0 L102.5 311.0 L103.0 311.0 L103.5 311.0 L104.0 311.0 L104.5 311.0 L105.0 311.0 L105.5 311.0 L106.0 311.0 L106.5 311.0 L107.0 311.0 L107.5 311.0 L108.0 311.0 L108.5 311.0 L109.0 311.0 L109.5 311.0 L110.0 311.0 L110.5 311.0 L111.0 311.0 L111.5 311.0 L112.0 311.0 L112.5 311.0 L113.0 311.0 L113.5 311.0 L114.0 311.0 L114.5 311.0 L115.0 311.0 L115.5 311.0 L116.0 311.0 L116.5 311.0 L117.0 311.0 L117.5 311.0 L118.0 311.0 L118.5 311.0 L119.0 311.0 L119.5 311.0 L120.0 311.0 L120.5 311.0 L121.0 311.0 L121.5 311.0 L122.0 311.0 L122.5 311.0 L123.0 311.0 L123.5 311.0 L124.0 311.0 L124.5 311.0 L125.0 311.0 L125.5 311.0 L126.0 311.0 L126.5 311.0 L127.0 311.0 L127.5 311.0 L128.0 311.0 L128.5 311.0 L129.0 311.0 L129.5 311.0 L130.0 311.0 L130.5 311.0 L131.0 311.0 L131.5 311.0 L132.0 311.0 L132.5 311.0 L133.0 311.0 L133.5 311.0 L134.0 311.0 L134.5 311.0 L135.0 311.0 L135.5 311.0 L136.0 311.0 L136.5 311.0 L137.0 311.0 L137.5 311.0 L138.0 311.0 L138.5 311.0 L139.0 311.0 L139.5 311.0 L140.0 311.0 L140.5 311.0 L141.0 311.0 L141.5 311.0 L142.0 311.0 L142.5 311.0 L143.0 311.0 L143.5 311.0 L144.0 311.0 L144.5 311.0 L145.0 311.0 L145.5 311.0 L146.0 311.0 L146.5 311.0 L147.0 311.0 L147.5 311.0 L148.0 311.0 L148.5 311.0 L149.0 311.0 L149.5 311.0 L150.0 311.0 L150.5 311.0 L151.0 311.0 L151.5 311.0 L152.0 311.0 L152.5 311.0 L153.0 311.0 L153.5 311.0 L154.0 311.0 L154.5 311.0 L155.0 311.0 L155.5 311.0 L156.0 311.0 L156.5 311.0 L157.0 311.0 L157.5 311.0" fill="none" stroke="#15151c" stroke-width="0.6" stroke-opacity="0.45" stroke-linejoin="round"/>
<path d="M93.5 310.3 L94.0 310.2 L94.5 310.1 L95.0 310.0 L95.5 309.9 L96.0 309.8 L96.5 309.7 L97.0 309.6 L97.5 309.5 L98.0 309.4 L98.5 309.3 L99.0 309.3 L99.5 309.2 L100.0 309.1 L100.5 309.1 L101.0 309.0 L101.5 309.0 L102.0 309.0 L102.5 309.0 L103.0 309.0 L103.5 309.1 L104.0 309.1 L104.5 309.2 L105.0 309.3 L105.5 309.3 L106.0 309.4 L106.5 309.5 L107.0 309.6 L107.5 309.7 L108.0 309.8 L108.5 309.9 L109.0 310.0 L109.5 310.1 L110.0 310.2 L110.5 310.3" fill="none" stroke="#ffb070" stroke-width="0.7" stroke-opacity="0.9" stroke-linejoin="round"/>
<path d="M84.5 310.8 L85.0 310.8 L85.5 310.7 L86.0 310.7 L86.5 310.7 L87.0 310.7 L87.5 310.7 L88.0 310.7 L88.5 310.6 L89.0 310.6 L89.5 310.6 L90.0 310.6 L90.5 310.5 L91.0 310.5 L91.5 310.4 L92.0 310.4 L92.5 310.3 L93.0 310.2 L93.5 310.1 L94.0 310.0 L94.5 309.9 L95.0 309.7 L95.5 309.5 L96.0 309.3 L96.5 309.0 L97.0 308.7 L97.5 308.4 L98.0 308.0 L98.5 307.6 L99.0 307.1 L99.5 306.6 L100.0 306.1 L100.5 305.5 L101.0 304.9 L101.5 304.2 L102.0 303.6 L102.5 303.0 L103.0 302.3 L103.5 301.7 L104.0 301.1 L104.5 300.6 L105.0 300.2 L105.5 299.9 L106.0 299.6 L106.5 299.5 L107.0 299.5 L107.5 299.7 L108.0 299.9 L108.5 300.3 L109.0 300.7 L109.5 301.2 L110.0 301.8 L110.5 302.4 L111.0 303.1 L111.5 303.7 L112.0 304.4 L112.5 305.0 L113.0 305.6 L113.5 306.2 L114.0 306.7 L114.5 307.2 L115.0 307.7 L115.5 308.1 L116.0 308.5 L116.5 308.8 L117.0 309.1 L117.5 309.3 L118.0 309.6 L118.5 309.7 L119.0 309.9 L119.5 310.0 L120.0 310.1 L120.5 310.2 L121.0 310.3 L121.5 310.4 L122.0 310.5 L122.5 310.5 L123.0 310.5 L123.5 310.6 L124.0 310.6 L124.5 310.6 L125.0 310.7 L125.5 310.7 L126.0 310.7 L126.5 310.7 L127.0 310.7 L127.5 310.7 L128.0 310.7 L128.5 310.8 L129.0 310.8 L129.5 310.8 L130.0 310.8 L130.5 310.8 L131.0 310.8 L131.5 310.8 L132.0 310.8 L132.5 310.8 L133.0 310.8 L133.5 310.8" fill="none" stroke="#3f9f43" stroke-width="0.7" stroke-opacity="0.85" stroke-linejoin="round"/>
<path d="M74.0 310.4 L74.5 310.3 L75.0 310.3 L75.5 310.3 L76.0 310.3 L76.5 310.3 L77.0 310.3 L77.5 310.2 L78.0 310.2 L78.5 310.2 L79.0 310.2 L79.5 310.2 L80.0 310.2 L80.5 310.1 L81.0 310.1 L81.5 310.1 L82.0 310.1 L82.5 310.0 L83.0 310.0 L83.5 310.0 L84.0 309.9 L84.5 309.9 L85.0 309.9 L85.5 309.9 L86.0 309.8 L86.5 309.8 L87.0 309.7 L87.5 309.7 L88.0 309.7 L88.5 309.6 L89.0 309.6 L89.5 309.5 L90.0 309.5 L90.5 309.4 L91.0 309.4 L91.5 309.3 L92.0 309.3 L92.5 309.2 L93.0 309.1 L93.5 309.0 L94.0 309.0 L94.5 308.9 L95.0 308.8 L95.5 308.7 L96.0 308.6 L96.5 308.5 L97.0 308.4 L97.5 308.3 L98.0 308.1 L98.5 308.0 L99.0 307.8 L99.5 307.6 L100.0 307.4 L100.5 307.1 L101.0 306.9 L101.5 306.5 L102.0 306.2 L102.5 305.8 L103.0 305.3 L103.5 304.7 L104.0 304.1 L104.5 303.3 L105.0 302.5 L105.5 301.5 L106.0 300.3 L106.5 299.0 L107.0 297.6 L107.5 295.9 L108.0 294.0 L108.5 291.9 L109.0 289.6 L109.5 287.1 L110.0 284.4 L110.5 281.4 L111.0 278.2 L111.5 274.9 L112.0 271.4 L112.5 267.7 L113.0 264.0 L113.5 260.2 L114.0 256.4 L114.5 252.7 L115.0 249.2 L115.5 246.0 L116.0 243.1 L116.5 240.6 L117.0 238.7 L117.5 237.4 L118.0 236.8 L118.5 236.8 L119.0 237.6 L119.5 239.0 L120.0 241.1 L120.5 243.6 L121.0 246.6 L121.5 249.9 L122.0 253.5 L122.5 257.2 L123.0 260.9 L123.5 264.7 L124.0 268.5 L124.5 272.1 L125.0 275.6 L125.5 278.9 L126.0 282.0 L126.5 284.9 L127.0 287.6 L127.5 290.1 L128.0 292.4 L128.5 294.4 L129.0 296.2 L129.5 297.9 L130.0 299.3 L130.5 300.6 L131.0 301.7 L131.5 302.6 L132.0 303.5 L132.5 304.2 L133.0 304.8 L133.5 305.4 L134.0 305.9 L134.5 306.3 L135.0 306.6 L135.5 306.9 L136.0 307.2 L136.5 307.4 L137.0 307.6 L137.5 307.8 L138.0 308.0 L138.5 308.1 L139.0 308.3 L139.5 308.4 L140.0 308.5 L140.5 308.6 L141.0 308.7 L141.5 308.8 L142.0 308.9 L142.5 309.0 L143.0 309.1 L143.5 309.1 L144.0 309.2 L144.5 309.3 L145.0 309.3 L145.5 309.4 L146.0 309.4 L146.5 309.5 L147.0 309.5 L147.5 309.6 L148.0 309.6 L148.5 309.7 L149.0 309.7 L149.5 309.8 L150.0 309.8 L150.5 309.8 L151.0 309.9 L151.5 309.9 L152.0 309.9 L152.5 310.0 L153.0 310.0 L153.5 310.0 L154.0 310.0 L154.5 310.1 L155.0 310.1 L155.5 310.1 L156.0 310.1 L156.5 310.2 L157.0 310.2 L157.5 310.2" fill="none" stroke="#5a5aff" stroke-width="0.7" stroke-opacity="0.72" stroke-linejoin="round"/>
<path d="M12.2 406.2 L12.7 406.0 L13.2 405.8 L13.7 405.8 L14.2 406.0 L14.7 406.4 L15.2 406.8 L15.7 406.9 L16.2 406.8 L16.7 406.5 L17.2 406.4 L17.7 406.3 L18.2 406.4 L18.7 406.5 L19.2 406.7 L19.7 406.8 L20.2 406.9 L20.7 406.8 L21.2 406.7 L21.7 406.6 L22.2 406.6 L22.7 406.6 L23.2 406.6 L23.7 406.6 L24.2 406.6 L24.7 406.6 L25.2 406.6 L25.7 406.6 L26.2 406.5 L26.7 406.6 L27.2 406.7 L27.7 406.9 L28.2 407.1 L28.7 407.2 L29.2 407.2 L29.7 407.1 L30.2 407.0 L30.7 406.9 L31.2 406.9 L31.7 407.0 L32.2 407.1 L32.7 407.2 L33.2 407.3 L33.7 407.1 L34.2 406.9 L34.7 406.8 L35.2 406.9 L35.7 407.1 L36.2 407.3 L36.7 407.2 L37.2 406.9 L37.7 406.6 L38.2 406.6 L38.7 407.1 L39.2 407.7 L39.7 407.8 L40.2 407.7 L40.7 407.4 L41.2 407.2 L41.7 407.1 L42.2 407.2 L42.7 407.3 L43.2 407.4 L43.7 407.5 L44.2 407.5 L44.7 407.5 L45.2 407.5 L45.7 407.4 L46.2 407.3 L46.7 407.3 L47.2 407.3 L47.7 407.5 L48.2 407.6 L48.7 407.8 L49.2 407.9 L49.7 407.8 L50.2 407.7 L50.7 407.5 L51.2 407.3 L51.7 407.2 L52.2 407.2 L52.7 407.4 L53.2 407.7 L53.7 407.8 L54.2 407.8 L54.7 407.4 L55.2 407.0 L55.7 407.2 L56.2 407.7 L56.7 408.2 L57.2 408.3 L57.7 408.2 L58.2 407.9 L58.7 407.6 L59.2 407.5 L59.7 407.6 L60.2 407.7 L60.7 407.9 L61.2 408.2 L61.7 408.4 L62.2 408.6 L62.7 408.7 L63.2 408.6 L63.7 408.5 L64.2 408.2 L64.7 407.9 L65.2 407.8 L65.7 407.8 L66.2 407.9 L66.7 408.0 L67.2 408.1 L67.7 408.2 L68.2 408.3 L68.7 408.4 L69.2 408.5 L69.7 408.5 L70.2 408.4 L70.7 408.2 L71.2 407.9 L71.7 407.8 L72.2 407.9 L72.7 408.0 L73.2 408.1 L73.7 408.3 L74.2 408.3 L74.7 408.4 L75.2 408.3 L75.7 408.2 L76.2 408.0 L76.7 408.0 L77.2 408.1 L77.7 408.2 L78.2 408.3 L78.7 408.2 L79.2 408.1 L79.7 407.9 L80.2 407.6 L80.7 407.4 L81.2 407.3 L81.7 407.4 L82.2 407.3 L82.7 407.2 L83.2 406.9 L83.7 406.7 L84.2 406.5 L84.7 406.5 L85.2 406.6 L85.7 406.8 L86.2 407.1 L86.7 407.4 L87.2 407.6 L87.7 407.5 L88.2 407.1 L88.7 406.5 L89.2 406.3 L89.7 406.4 L90.2 406.6 L90.7 406.7 L91.2 406.6 L91.7 406.4 L92.2 406.0 L92.7 405.7 L93.2 405.4 L93.7 405.1 L94.2 404.8 L94.7 404.4 L95.2 404.1 L95.7 403.7 L96.2 403.3 L96.7 402.9 L97.2 402.3 L97.7 401.5 L98.2 400.7 L98.7 400.0 L99.2 399.3 L99.7 398.5 L100.2 397.7 L100.7 396.9 L101.2 395.9 L101.7 394.8 L102.2 393.7 L102.7 392.6 L103.2 391.4 L103.7 390.2 L104.2 389.0 L104.7 387.6 L105.2 386.1 L105.7 384.4 L106.2 382.6 L106.7 380.9 L107.2 379.3 L107.7 377.7 L108.2 376.0 L108.7 374.0 L109.2 371.6 L109.7 368.9 L110.2 366.1 L110.7 363.3 L111.2 360.4 L111.7 357.3 L112.2 354.0 L112.7 350.5 L113.2 346.9 L113.7 343.2 L114.2 339.5 L114.7 335.9 L115.2 332.6 L115.7 329.5 L116.2 326.9 L116.7 324.9 L117.2 323.4 L117.7 322.5 L118.2 322.3 L118.7 322.8 L119.2 324.1 L119.7 326.0 L120.2 328.5 L120.7 331.6 L121.2 335.2 L121.7 339.1 L122.2 343.3 L122.7 347.7 L123.2 352.2 L123.7 356.6 L124.2 360.9 L124.7 364.9 L125.2 368.7 L125.7 372.4 L126.2 376.1 L126.7 379.7 L127.2 383.1 L127.7 386.1 L128.2 388.5 L128.7 390.4 L129.2 392.1 L129.7 393.5 L130.2 394.9 L130.7 396.4 L131.2 398.0 L131.7 399.5 L132.2 400.9 L132.7 402.0 L133.2 402.9 L133.7 403.5 L134.2 404.0 L134.7 404.2 L135.2 404.4 L135.7 404.6 L136.2 404.9 L136.7 405.1 L137.2 405.3 L137.7 405.4 L138.2 405.6 L138.7 405.8 L139.2 406.2 L139.7 406.6 L140.2 406.9 L140.7 407.1 L141.2 407.1 L141.7 407.1 L142.2 407.2 L142.7 407.2 L143.2 407.3 L143.7 407.4 L144.2 407.4 L144.7 407.4 L145.2 407.6 L145.7 407.7 L146.2 407.9 L146.7 408.1 L147.2 408.2 L147.7 408.2 L148.2 408.0 L148.7 407.8 L149.2 407.5 L149.7 407.4 L150.2 407.6 L150.7 408.1 L151.2 408.4 L151.7 408.4 L152.2 408.3 L152.7 408.2 L153.2 408.1 L153.7 408.1 L154.2 408.2 L154.7 408.3 L155.2 408.4 L155.7 408.5 L156.2 408.6 L156.7 408.7 L157.2 408.7 L157.7 408.5 L158.2 408.1 L158.7 407.7 L159.2 407.3" fill="none" stroke="#5cb85c" stroke-width="0.75" stroke-opacity="0.85" stroke-linejoin="round"/>
<path d="M74.0 408.3 L74.5 408.3 L75.0 408.3 L75.5 408.3 L76.0 408.2 L76.5 408.2 L77.0 408.2 L77.5 408.2 L78.0 408.1 L78.5 408.1 L79.0 408.1 L79.5 408.1 L80.0 408.0 L80.5 408.0 L81.0 408.0 L81.5 407.9 L82.0 407.9 L82.5 407.9 L83.0 407.8 L83.5 407.8 L84.0 407.7 L84.5 407.7 L85.0 407.6 L85.5 407.6 L86.0 407.5 L86.5 407.5 L87.0 407.4 L87.5 407.3 L88.0 407.2 L88.5 407.1 L89.0 407.0 L89.5 406.9 L90.0 406.8 L90.5 406.7 L91.0 406.5 L91.5 406.4 L92.0 406.2 L92.5 406.0 L93.0 405.8 L93.5 405.5 L94.0 405.3 L94.5 405.0 L95.0 404.6 L95.5 404.3 L96.0 403.9 L96.5 403.4 L97.0 402.9 L97.5 402.4 L98.0 401.8 L98.5 401.1 L99.0 400.4 L99.5 399.6 L100.0 398.8 L100.5 397.9 L101.0 397.0 L101.5 396.0 L102.0 394.9 L102.5 393.8 L103.0 392.7 L103.5 391.4 L104.0 390.2 L104.5 388.9 L105.0 387.5 L105.5 386.1 L106.0 384.6 L106.5 383.1 L107.0 381.5 L107.5 379.8 L108.0 378.0 L108.5 376.0 L109.0 374.0 L109.5 371.7 L110.0 369.3 L110.5 366.6 L111.0 363.8 L111.5 360.7 L112.0 357.5 L112.5 354.2 L113.0 350.7 L113.5 347.2 L114.0 343.7 L114.5 340.3 L115.0 337.0 L115.5 334.0 L116.0 331.3 L116.5 329.0 L117.0 327.3 L117.5 326.2 L118.0 325.8 L118.5 326.1 L119.0 327.0 L119.5 328.7 L120.0 331.0 L120.5 333.8 L121.0 337.0 L121.5 340.6 L122.0 344.5 L122.5 348.6 L123.0 352.7 L123.5 356.9 L124.0 361.0 L124.5 365.1 L125.0 369.0 L125.5 372.7 L126.0 376.2 L126.5 379.5 L127.0 382.6 L127.5 385.4 L128.0 388.0 L128.5 390.3 L129.0 392.4 L129.5 394.3 L130.0 396.0 L130.5 397.4 L131.0 398.7 L131.5 399.8 L132.0 400.8 L132.5 401.6 L133.0 402.4 L133.5 403.0 L134.0 403.5 L134.5 404.0 L135.0 404.4 L135.5 404.8 L136.0 405.1 L136.5 405.3 L137.0 405.6 L137.5 405.8 L138.0 405.9 L138.5 406.1 L139.0 406.3 L139.5 406.4 L140.0 406.5 L140.5 406.6 L141.0 406.7 L141.5 406.8 L142.0 406.9 L142.5 407.0 L143.0 407.1 L143.5 407.1 L144.0 407.2 L144.5 407.3 L145.0 407.3 L145.5 407.4 L146.0 407.5 L146.5 407.5 L147.0 407.6 L147.5 407.6 L148.0 407.7 L148.5 407.7 L149.0 407.7 L149.5 407.8 L150.0 407.8 L150.5 407.9 L151.0 407.9 L151.5 407.9 L152.0 408.0 L152.5 408.0 L153.0 408.0 L153.5 408.1 L154.0 408.1 L154.5 408.1 L155.0 408.1 L155.5 408.2 L156.0 408.2 L156.5 408.2 L157.0 408.2 L157.5 408.2 L158.0 408.3" fill="none" stroke="#ff3838" stroke-width="0.7" stroke-opacity="0.75" stroke-linejoin="round"/>
<path d="M74.0 409.1 L74.5 409.1 L75.0 409.1 L75.5 409.1 L76.0 409.1 L76.5 409.1 L77.0 409.1 L77.5 409.1 L78.0 409.1 L78.5 409.1 L79.0 409.1 L79.5 409.1 L80.0 409.1 L80.5 409.1 L81.0 409.1 L81.5 409.1 L82.0 409.1 L82.5 409.1 L83.0 409.1 L83.5 409.1 L84.0 409.1 L84.5 409.1 L85.0 409.1 L85.5 409.1 L86.0 409.1 L86.5 409.1 L87.0 409.1 L87.5 409.1 L88.0 409.1 L88.5 409.1 L89.0 409.1 L89.5 409.1 L90.0 409.1 L90.5 409.1 L91.0 409.1 L91.5 409.1 L92.0 409.1 L92.5 409.1 L93.0 409.1 L93.5 409.1 L94.0 409.1 L94.5 409.1 L95.0 409.1 L95.5 409.1 L96.0 409.1 L96.5 409.1 L97.0 409.1 L97.5 409.1 L98.0 409.1 L98.5 409.1 L99.0 409.1 L99.5 409.1 L100.0 409.1 L100.5 409.1 L101.0 409.1 L101.5 409.1 L102.0 409.1 L102.5 409.1 L103.0 409.1 L103.5 409.1 L104.0 409.1 L104.5 409.1 L105.0 409.1 L105.5 409.1 L106.0 409.1 L106.5 409.1 L107.0 409.1 L107.5 409.1 L108.0 409.1 L108.5 409.1 L109.0 409.1 L109.5 409.1 L110.0 409.1 L110.5 409.1 L111.0 409.1 L111.5 409.1 L112.0 409.1 L112.5 409.1 L113.0 409.1 L113.5 409.1 L114.0 409.1 L114.5 409.1 L115.0 409.1 L115.5 409.1 L116.0 409.1 L116.5 409.1 L117.0 409.1 L117.5 409.1 L118.0 409.1 L118.5 409.1 L119.0 409.1 L119.5 409.1 L120.0 409.1 L120.5 409.1 L121.0 409.1 L121.5 409.1 L122.0 409.1 L122.5 409.1 L123.0 409.1 L123.5 409.1 L124.0 409.1 L124.5 409.1 L125.0 409.1 L125.5 409.1 L126.0 409.1 L126.5 409.1 L127.0 409.1 L127.5 409.1 L128.0 409.1 L128.5 409.1 L129.0 409.1 L129.5 409.1 L130.0 409.1 L130.5 409.1 L131.0 409.1 L131.5 409.1 L132.0 409.1 L132.5 409.1 L133.0 409.1 L133.5 409.1 L134.0 409.1 L134.5 409.1 L135.0 409.1 L135.5 409.1 L136.0 409.1 L136.5 409.1 L137.0 409.1 L137.5 409.1 L138.0 409.1 L138.5 409.1 L139.0 409.1 L139.5 409.1 L140.0 409.1 L140.5 409.1 L141.0 409.1 L141.5 409.1 L142.0 409.1 L142.5 409.1 L143.0 409.1 L143.5 409.1 L144.0 409.1 L144.5 409.1 L145.0 409.1 L145.5 409.1 L146.0 409.1 L146.5 409.1 L147.0 409.1 L147.5 409.1 L148.0 409.1 L148.5 409.1 L149.0 409.1 L149.5 409.1 L150.0 409.1 L150.5 409.1 L151.0 409.1 L151.5 409.1 L152.0 409.1 L152.5 409.1 L153.0 409.1 L153.5 409.1 L154.0 409.1 L154.5 409.1 L155.0 409.1 L155.5 409.1 L156.0 409.1 L156.5 409.1 L157.0 409.1 L157.5 409.1 L158.0 409.1" fill="none" stroke="#15151c" stroke-width="0.6" stroke-opacity="0.45" stroke-linejoin="round"/>
<path d="M92.5 408.5 L93.0 408.4 L93.5 408.4 L94.0 408.3 L94.5 408.2 L95.0 408.2 L95.5 408.1 L96.0 408.0 L96.5 407.9 L97.0 407.8 L97.5 407.8 L98.0 407.7 L98.5 407.6 L99.0 407.6 L99.5 407.6 L100.0 407.5 L100.5 407.5 L101.0 407.5 L101.5 407.5 L102.0 407.5 L102.5 407.6 L103.0 407.6 L103.5 407.6 L104.0 407.7 L104.5 407.8 L105.0 407.8 L105.5 407.9 L106.0 408.0 L106.5 408.1 L107.0 408.2 L107.5 408.2 L108.0 408.3 L108.5 408.4 L109.0 408.4 L109.5 408.5" fill="none" stroke="#ffb070" stroke-width="0.7" stroke-opacity="0.9" stroke-linejoin="round"/>
<path d="M84.5 408.9 L85.0 408.8 L85.5 408.8 L86.0 408.8 L86.5 408.8 L87.0 408.8 L87.5 408.8 L88.0 408.8 L88.5 408.7 L89.0 408.7 L89.5 408.7 L90.0 408.7 L90.5 408.6 L91.0 408.6 L91.5 408.5 L92.0 408.5 L92.5 408.4 L93.0 408.3 L93.5 408.2 L94.0 408.1 L94.5 407.9 L95.0 407.8 L95.5 407.6 L96.0 407.3 L96.5 407.1 L97.0 406.8 L97.5 406.4 L98.0 406.0 L98.5 405.6 L99.0 405.1 L99.5 404.6 L100.0 404.0 L100.5 403.4 L101.0 402.8 L101.5 402.2 L102.0 401.5 L102.5 400.8 L103.0 400.2 L103.5 399.6 L104.0 399.0 L104.5 398.5 L105.0 398.0 L105.5 397.7 L106.0 397.4 L106.5 397.3 L107.0 397.3 L107.5 397.5 L108.0 397.7 L108.5 398.1 L109.0 398.6 L109.5 399.1 L110.0 399.7 L110.5 400.3 L111.0 401.0 L111.5 401.6 L112.0 402.3 L112.5 402.9 L113.0 403.6 L113.5 404.2 L114.0 404.7 L114.5 405.2 L115.0 405.7 L115.5 406.1 L116.0 406.5 L116.5 406.8 L117.0 407.1 L117.5 407.4 L118.0 407.6 L118.5 407.8 L119.0 408.0 L119.5 408.1 L120.0 408.2 L120.5 408.3 L121.0 408.4 L121.5 408.5 L122.0 408.5 L122.5 408.6 L123.0 408.6 L123.5 408.7 L124.0 408.7 L124.5 408.7 L125.0 408.7 L125.5 408.8 L126.0 408.8 L126.5 408.8 L127.0 408.8 L127.5 408.8 L128.0 408.8 L128.5 408.8 L129.0 408.9 L129.5 408.9 L130.0 408.9 L130.5 408.9 L131.0 408.9 L131.5 408.9 L132.0 408.9 L132.5 408.9 L133.0 408.9 L133.5 408.9" fill="none" stroke="#3f9f43" stroke-width="0.7" stroke-opacity="0.85" stroke-linejoin="round"/>
<path d="M74.0 408.5 L74.5 408.5 L75.0 408.4 L75.5 408.4 L76.0 408.4 L76.5 408.4 L77.0 408.4 L77.5 408.4 L78.0 408.3 L78.5 408.3 L79.0 408.3 L79.5 408.3 L80.0 408.3 L80.5 408.2 L81.0 408.2 L81.5 408.2 L82.0 408.2 L82.5 408.1 L83.0 408.1 L83.5 408.1 L84.0 408.1 L84.5 408.0 L85.0 408.0 L85.5 408.0 L86.0 407.9 L86.5 407.9 L87.0 407.9 L87.5 407.8 L88.0 407.8 L88.5 407.7 L89.0 407.7 L89.5 407.6 L90.0 407.6 L90.5 407.5 L91.0 407.5 L91.5 407.4 L92.0 407.4 L92.5 407.3 L93.0 407.2 L93.5 407.2 L94.0 407.1 L94.5 407.0 L95.0 406.9 L95.5 406.8 L96.0 406.7 L96.5 406.6 L97.0 406.5 L97.5 406.4 L98.0 406.2 L98.5 406.1 L99.0 405.9 L99.5 405.7 L100.0 405.4 L100.5 405.2 L101.0 404.9 L101.5 404.5 L102.0 404.1 L102.5 403.6 L103.0 403.1 L103.5 402.4 L104.0 401.7 L104.5 400.8 L105.0 399.8 L105.5 398.7 L106.0 397.4 L106.5 395.9 L107.0 394.2 L107.5 392.3 L108.0 390.2 L108.5 387.8 L109.0 385.2 L109.5 382.3 L110.0 379.2 L110.5 375.9 L111.0 372.3 L111.5 368.6 L112.0 364.7 L112.5 360.6 L113.0 356.5 L113.5 352.4 L114.0 348.3 L114.5 344.3 L115.0 340.6 L115.5 337.1 L116.0 334.0 L116.5 331.4 L117.0 329.4 L117.5 328.0 L118.0 327.4 L118.5 327.4 L119.0 328.2 L119.5 329.7 L120.0 331.9 L120.5 334.6 L121.0 337.8 L121.5 341.3 L122.0 345.1 L122.5 349.1 L123.0 353.2 L123.5 357.4 L124.0 361.5 L124.5 365.5 L125.0 369.3 L125.5 373.1 L126.0 376.6 L126.5 379.8 L127.0 382.9 L127.5 385.7 L128.0 388.3 L128.5 390.6 L129.0 392.7 L129.5 394.5 L130.0 396.2 L130.5 397.7 L131.0 398.9 L131.5 400.1 L132.0 401.0 L132.5 401.9 L133.0 402.6 L133.5 403.2 L134.0 403.7 L134.5 404.2 L135.0 404.6 L135.5 404.9 L136.0 405.2 L136.5 405.5 L137.0 405.7 L137.5 405.9 L138.0 406.1 L138.5 406.2 L139.0 406.4 L139.5 406.5 L140.0 406.6 L140.5 406.7 L141.0 406.8 L141.5 406.9 L142.0 407.0 L142.5 407.1 L143.0 407.2 L143.5 407.2 L144.0 407.3 L144.5 407.4 L145.0 407.4 L145.5 407.5 L146.0 407.6 L146.5 407.6 L147.0 407.7 L147.5 407.7 L148.0 407.7 L148.5 407.8 L149.0 407.8 L149.5 407.9 L150.0 407.9 L150.5 407.9 L151.0 408.0 L151.5 408.0 L152.0 408.0 L152.5 408.1 L153.0 408.1 L153.5 408.1 L154.0 408.1 L154.5 408.2 L155.0 408.2 L155.5 408.2 L156.0 408.2 L156.5 408.3 L157.0 408.3 L157.5 408.3 L158.0 408.3" fill="none" stroke="#5a5aff" stroke-width="0.7" stroke-opacity="0.72" stroke-linejoin="round"/>
<path d="M10.2 492.4 L10.7 492.4 L11.2 492.5 L11.7 492.5 L12.2 492.7 L12.7 492.8 L13.2 492.9 L13.7 492.8 L14.2 492.8 L14.7 492.7 L15.2 492.7 L15.7 492.7 L16.2 492.8 L16.7 493.1 L17.2 493.3 L17.7 493.6 L18.2 493.7 L18.7 493.5 L19.2 493.3 L19.7 493.0 L20.2 492.7 L20.7 492.6 L21.2 492.6 L21.7 492.8 L22.2 493.2 L22.7 493.5 L23.2 493.7 L23.7 493.8 L24.2 493.6 L24.7 493.4 L25.2 493.1 L25.7 493.0 L26.2 493.0 L26.7 493.2 L27.2 493.4 L27.7 493.7 L28.2 493.7 L28.7 493.7 L29.2 493.6 L29.7 493.5 L30.2 493.4 L30.7 493.3 L31.2 493.3 L31.7 493.3 L32.2 493.3 L32.7 493.3 L33.2 493.3 L33.7 493.3 L34.2 493.2 L34.7 493.3 L35.2 493.4 L35.7 493.6 L36.2 493.8 L36.7 494.0 L37.2 494.1 L37.7 494.0 L38.2 493.8 L38.7 493.6 L39.2 493.5 L39.7 493.6 L40.2 493.7 L40.7 494.0 L41.2 494.3 L41.7 494.5 L42.2 494.5 L42.7 494.2 L43.2 493.8 L43.7 493.5 L44.2 493.5 L44.7 493.9 L45.2 494.2 L45.7 494.3 L46.2 494.2 L46.7 494.1 L47.2 493.9 L47.7 493.8 L48.2 493.8 L48.7 493.7 L49.2 493.7 L49.7 493.8 L50.2 493.8 L50.7 493.9 L51.2 494.0 L51.7 494.1 L52.2 494.2 L52.7 494.4 L53.2 494.5 L53.7 494.4 L54.2 494.2 L54.7 494.0 L55.2 494.0 L55.7 494.0 L56.2 494.2 L56.7 494.3 L57.2 494.5 L57.7 494.6 L58.2 494.6 L58.7 494.6 L59.2 494.6 L59.7 494.5 L60.2 494.6 L60.7 494.7 L61.2 494.8 L61.7 494.8 L62.2 494.7 L62.7 494.7 L63.2 494.6 L63.7 494.6 L64.2 494.7 L64.7 494.8 L65.2 495.0 L65.7 495.1 L66.2 495.2 L66.7 495.2 L67.2 495.0 L67.7 494.8 L68.2 494.7 L68.7 494.6 L69.2 494.7 L69.7 494.8 L70.2 494.9 L70.7 495.0 L71.2 494.9 L71.7 494.7 L72.2 494.5 L72.7 494.3 L73.2 494.2 L73.7 494.3 L74.2 494.4 L74.7 494.6 L75.2 494.9 L75.7 495.0 L76.2 495.0 L76.7 494.9 L77.2 494.9 L77.7 494.9 L78.2 495.1 L78.7 495.1 L79.2 495.1 L79.7 495.0 L80.2 494.8 L80.7 494.4 L81.2 494.1 L81.7 493.8 L82.2 493.9 L82.7 494.2 L83.2 494.7 L83.7 495.0 L84.2 494.9 L84.7 494.6 L85.2 494.2 L85.7 493.8 L86.2 493.4 L86.7 493.1 L87.2 493.1 L87.7 493.5 L88.2 493.9 L88.7 494.0 L89.2 493.9 L89.7 493.5 L90.2 493.0 L90.7 492.5 L91.2 491.9 L91.7 491.5 L92.2 491.2 L92.7 491.1 L93.2 491.0 L93.7 490.8 L94.2 490.5 L94.7 490.1 L95.2 489.8 L95.7 489.7 L96.2 489.5 L96.7 489.1 L97.2 488.5 L97.7 487.5 L98.2 486.6 L98.7 485.8 L99.2 485.2 L99.7 484.6 L100.2 483.7 L100.7 482.8 L101.2 481.7 L101.7 480.6 L102.2 479.4 L102.7 478.2 L103.2 476.8 L103.7 475.4 L104.2 473.9 L104.7 472.4 L105.2 471.0 L105.7 469.6 L106.2 468.2 L106.7 466.7 L107.2 465.1 L107.7 463.5 L108.2 461.7 L108.7 459.8 L109.2 457.7 L109.7 455.3 L110.2 452.8 L110.7 450.0 L111.2 447.3 L111.7 444.4 L112.2 441.6 L112.7 438.7 L113.2 435.9 L113.7 433.1 L114.2 430.3 L114.7 427.5 L115.2 424.9 L115.7 422.6 L116.2 420.9 L116.7 419.7 L117.2 419.1 L117.7 419.0 L118.2 419.4 L118.7 420.5 L119.2 422.5 L119.7 425.3 L120.2 428.5 L120.7 432.0 L121.2 435.6 L121.7 439.1 L122.2 442.6 L122.7 446.2 L123.2 449.7 L123.7 453.2 L124.2 456.9 L124.7 460.6 L125.2 464.2 L125.7 467.6 L126.2 470.7 L126.7 473.4 L127.2 475.7 L127.7 477.6 L128.2 479.2 L128.7 480.7 L129.2 482.2 L129.7 483.8 L130.2 485.3 L130.7 486.6 L131.2 487.6 L131.7 488.4 L132.2 489.2 L132.7 489.9 L133.2 490.6 L133.7 491.1 L134.2 491.4 L134.7 491.6 L135.2 491.8 L135.7 492.1 L136.2 492.3 L136.7 492.5 L137.2 492.7 L137.7 492.8 L138.2 493.0 L138.7 493.3 L139.2 493.7 L139.7 494.1 L140.2 494.4 L140.7 494.6 L141.2 494.6 L141.7 494.5 L142.2 494.3 L142.7 494.0 L143.2 493.7 L143.7 493.5 L144.2 493.4 L144.7 493.6 L145.2 494.2 L145.7 495.0 L146.2 495.4 L146.7 495.2 L147.2 494.7 L147.7 494.3 L148.2 494.2 L148.7 494.4 L149.2 494.6 L149.7 494.7 L150.2 494.8 L150.7 494.9 L151.2 494.9 L151.7 495.0 L152.2 495.1 L152.7 495.2 L153.2 495.3 L153.7 495.3 L154.2 495.4 L154.7 495.5 L155.2 495.5 L155.7 495.5 L156.2 495.3 L156.7 495.1 L157.2 494.9 L157.7 494.9 L158.2 495.1 L158.7 495.3 L159.2 495.5 L159.7 495.5 L160.2 495.4 L160.7 495.5 L161.2 495.7 L161.7 496.0 L162.2 496.1 L162.7 496.0" fill="none" stroke="#ff5050" stroke-width="0.75" stroke-opacity="0.85" stroke-linejoin="round"/>
<path d="M74.0 495.0 L74.5 495.0 L75.0 495.0 L75.5 495.0 L76.0 495.0 L76.5 494.9 L77.0 494.9 L77.5 494.9 L78.0 494.9 L78.5 494.8 L79.0 494.8 L79.5 494.8 L80.0 494.7 L80.5 494.7 L81.0 494.7 L81.5 494.6 L82.0 494.6 L82.5 494.5 L83.0 494.5 L83.5 494.4 L84.0 494.4 L84.5 494.3 L85.0 494.3 L85.5 494.2 L86.0 494.1 L86.5 494.0 L87.0 493.9 L87.5 493.8 L88.0 493.7 L88.5 493.5 L89.0 493.4 L89.5 493.2 L90.0 493.0 L90.5 492.9 L91.0 492.6 L91.5 492.4 L92.0 492.2 L92.5 491.9 L93.0 491.6 L93.5 491.3 L94.0 491.0 L94.5 490.6 L95.0 490.3 L95.5 489.8 L96.0 489.4 L96.5 488.9 L97.0 488.4 L97.5 487.9 L98.0 487.3 L98.5 486.6 L99.0 485.9 L99.5 485.1 L100.0 484.3 L100.5 483.4 L101.0 482.4 L101.5 481.3 L102.0 480.2 L102.5 479.0 L103.0 477.7 L103.5 476.4 L104.0 475.0 L104.5 473.5 L105.0 472.0 L105.5 470.5 L106.0 468.9 L106.5 467.3 L107.0 465.7 L107.5 464.0 L108.0 462.2 L108.5 460.4 L109.0 458.4 L109.5 456.3 L110.0 454.0 L110.5 451.6 L111.0 449.0 L111.5 446.3 L112.0 443.5 L112.5 440.5 L113.0 437.5 L113.5 434.5 L114.0 431.6 L114.5 428.8 L115.0 426.2 L115.5 423.9 L116.0 422.0 L116.5 420.5 L117.0 419.6 L117.5 419.4 L118.0 419.7 L118.5 420.7 L119.0 422.3 L119.5 424.4 L120.0 427.1 L120.5 430.1 L121.0 433.5 L121.5 437.1 L122.0 440.8 L122.5 444.6 L123.0 448.5 L123.5 452.3 L124.0 456.0 L124.5 459.5 L125.0 462.9 L125.5 466.2 L126.0 469.2 L126.5 472.0 L127.0 474.5 L127.5 476.8 L128.0 479.0 L128.5 480.8 L129.0 482.5 L129.5 484.0 L130.0 485.3 L130.5 486.5 L131.0 487.5 L131.5 488.4 L132.0 489.1 L132.5 489.8 L133.0 490.3 L133.5 490.8 L134.0 491.2 L134.5 491.6 L135.0 491.9 L135.5 492.1 L136.0 492.4 L136.5 492.6 L137.0 492.8 L137.5 492.9 L138.0 493.1 L138.5 493.2 L139.0 493.3 L139.5 493.4 L140.0 493.5 L140.5 493.6 L141.0 493.7 L141.5 493.8 L142.0 493.9 L142.5 493.9 L143.0 494.0 L143.5 494.1 L144.0 494.1 L144.5 494.2 L145.0 494.2 L145.5 494.3 L146.0 494.3 L146.5 494.4 L147.0 494.4 L147.5 494.5 L148.0 494.5 L148.5 494.6 L149.0 494.6 L149.5 494.6 L150.0 494.7 L150.5 494.7 L151.0 494.7 L151.5 494.8 L152.0 494.8 L152.5 494.8 L153.0 494.8 L153.5 494.9 L154.0 494.9 L154.5 494.9 L155.0 494.9 L155.5 495.0 L156.0 495.0 L156.5 495.0 L157.0 495.0 L157.5 495.0 L158.0 495.1" fill="none" stroke="#ff3838" stroke-width="0.7" stroke-opacity="0.75" stroke-linejoin="round"/>
<path d="M74.0 495.8 L74.5 495.8 L75.0 495.8 L75.5 495.8 L76.0 495.8 L76.5 495.8 L77.0 495.8 L77.5 495.8 L78.0 495.8 L78.5 495.8 L79.0 495.8 L79.5 495.8 L80.0 495.8 L80.5 495.8 L81.0 495.8 L81.5 495.8 L82.0 495.8 L82.5 495.8 L83.0 495.8 L83.5 495.8 L84.0 495.8 L84.5 495.8 L85.0 495.8 L85.5 495.8 L86.0 495.8 L86.5 495.8 L87.0 495.8 L87.5 495.8 L88.0 495.8 L88.5 495.8 L89.0 495.8 L89.5 495.8 L90.0 495.8 L90.5 495.8 L91.0 495.8 L91.5 495.8 L92.0 495.8 L92.5 495.8 L93.0 495.8 L93.5 495.8 L94.0 495.8 L94.5 495.8 L95.0 495.8 L95.5 495.8 L96.0 495.8 L96.5 495.8 L97.0 495.8 L97.5 495.8 L98.0 495.8 L98.5 495.8 L99.0 495.8 L99.5 495.8 L100.0 495.8 L100.5 495.8 L101.0 495.8 L101.5 495.8 L102.0 495.8 L102.5 495.8 L103.0 495.8 L103.5 495.8 L104.0 495.8 L104.5 495.8 L105.0 495.8 L105.5 495.8 L106.0 495.8 L106.5 495.8 L107.0 495.8 L107.5 495.8 L108.0 495.8 L108.5 495.8 L109.0 495.8 L109.5 495.8 L110.0 495.8 L110.5 495.8 L111.0 495.8 L111.5 495.8 L112.0 495.8 L112.5 495.8 L113.0 495.8 L113.5 495.8 L114.0 495.8 L114.5 495.8 L115.0 495.8 L115.5 495.8 L116.0 495.8 L116.5 495.8 L117.0 495.8 L117.5 495.8 L118.0 495.8 L118.5 495.8 L119.0 495.8 L119.5 495.8 L120.0 495.8 L120.5 495.8 L121.0 495.8 L121.5 495.8 L122.0 495.8 L122.5 495.8 L123.0 495.8 L123.5 495.8 L124.0 495.8 L124.5 495.8 L125.0 495.8 L125.5 495.8 L126.0 495.8 L126.5 495.8 L127.0 495.8 L127.5 495.8 L128.0 495.8 L128.5 495.8 L129.0 495.8 L129.5 495.8 L130.0 495.8 L130.5 495.8 L131.0 495.8 L131.5 495.8 L132.0 495.8 L132.5 495.8 L133.0 495.8 L133.5 495.8 L134.0 495.8 L134.5 495.8 L135.0 495.8 L135.5 495.8 L136.0 495.8 L136.5 495.8 L137.0 495.8 L137.5 495.8 L138.0 495.8 L138.5 495.8 L139.0 495.8 L139.5 495.8 L140.0 495.8 L140.5 495.8 L141.0 495.8 L141.5 495.8 L142.0 495.8 L142.5 495.8 L143.0 495.8 L143.5 495.8 L144.0 495.8 L144.5 495.8 L145.0 495.8 L145.5 495.8 L146.0 495.8 L146.5 495.8 L147.0 495.8 L147.5 495.8 L148.0 495.8 L148.5 495.8 L149.0 495.8 L149.5 495.8 L150.0 495.8 L150.5 495.8 L151.0 495.8 L151.5 495.8 L152.0 495.8 L152.5 495.8 L153.0 495.8 L153.5 495.8 L154.0 495.8 L154.5 495.8 L155.0 495.8 L155.5 495.8 L156.0 495.8 L156.5 495.8 L157.0 495.8 L157.5 495.8 L158.0 495.8" fill="none" stroke="#15151c" stroke-width="0.6" stroke-opacity="0.45" stroke-linejoin="round"/>
<path d="M88.5 495.3 L89.0 495.2 L89.5 495.1 L90.0 495.0 L90.5 494.9 L91.0 494.8 L91.5 494.7 L92.0 494.6 L92.5 494.5 L93.0 494.4 L93.5 494.2 L94.0 494.1 L94.5 494.0 L95.0 494.0 L95.5 493.9 L96.0 493.8 L96.5 493.8 L97.0 493.8 L97.5 493.8 L98.0 493.8 L98.5 493.9 L99.0 494.0 L99.5 494.0 L100.0 494.1 L100.5 494.2 L101.0 494.4 L101.5 494.5 L102.0 494.6 L102.5 494.7 L103.0 494.8 L103.5 494.9 L104.0 495.0 L104.5 495.1 L105.0 495.2 L105.5 495.3" fill="none" stroke="#ffb070" stroke-width="0.7" stroke-opacity="0.9" stroke-linejoin="round"/>
<path d="M84.5 495.5 L85.0 495.5 L85.5 495.5 L86.0 495.5 L86.5 495.4 L87.0 495.4 L87.5 495.4 L88.0 495.4 L88.5 495.3 L89.0 495.3 L89.5 495.3 L90.0 495.2 L90.5 495.2 L91.0 495.1 L91.5 495.1 L92.0 495.0 L92.5 494.9 L93.0 494.8 L93.5 494.7 L94.0 494.5 L94.5 494.3 L95.0 494.1 L95.5 493.9 L96.0 493.6 L96.5 493.3 L97.0 492.9 L97.5 492.4 L98.0 492.0 L98.5 491.4 L99.0 490.8 L99.5 490.2 L100.0 489.5 L100.5 488.7 L101.0 487.9 L101.5 487.1 L102.0 486.3 L102.5 485.4 L103.0 484.6 L103.5 483.8 L104.0 483.1 L104.5 482.4 L105.0 481.9 L105.5 481.5 L106.0 481.2 L106.5 481.0 L107.0 481.0 L107.5 481.2 L108.0 481.5 L108.5 482.0 L109.0 482.6 L109.5 483.2 L110.0 484.0 L110.5 484.8 L111.0 485.6 L111.5 486.4 L112.0 487.3 L112.5 488.1 L113.0 488.9 L113.5 489.6 L114.0 490.3 L114.5 490.9 L115.0 491.5 L115.5 492.1 L116.0 492.5 L116.5 493.0 L117.0 493.3 L117.5 493.7 L118.0 493.9 L118.5 494.2 L119.0 494.4 L119.5 494.6 L120.0 494.7 L120.5 494.8 L121.0 494.9 L121.5 495.0 L122.0 495.1 L122.5 495.2 L123.0 495.2 L123.5 495.3 L124.0 495.3 L124.5 495.3 L125.0 495.4 L125.5 495.4 L126.0 495.4 L126.5 495.4 L127.0 495.4 L127.5 495.5 L128.0 495.5 L128.5 495.5 L129.0 495.5 L129.5 495.5 L130.0 495.5 L130.5 495.5 L131.0 495.5 L131.5 495.6 L132.0 495.6 L132.5 495.6 L133.0 495.6 L133.5 495.6" fill="none" stroke="#3f9f43" stroke-width="0.7" stroke-opacity="0.85" stroke-linejoin="round"/>
<path d="M74.0 495.2 L74.5 495.2 L75.0 495.2 L75.5 495.2 L76.0 495.2 L76.5 495.1 L77.0 495.1 L77.5 495.1 L78.0 495.1 L78.5 495.1 L79.0 495.1 L79.5 495.0 L80.0 495.0 L80.5 495.0 L81.0 495.0 L81.5 495.0 L82.0 494.9 L82.5 494.9 L83.0 494.9 L83.5 494.9 L84.0 494.8 L84.5 494.8 L85.0 494.8 L85.5 494.8 L86.0 494.7 L86.5 494.7 L87.0 494.7 L87.5 494.6 L88.0 494.6 L88.5 494.5 L89.0 494.5 L89.5 494.4 L90.0 494.4 L90.5 494.4 L91.0 494.3 L91.5 494.2 L92.0 494.2 L92.5 494.1 L93.0 494.1 L93.5 494.0 L94.0 493.9 L94.5 493.8 L95.0 493.8 L95.5 493.7 L96.0 493.6 L96.5 493.5 L97.0 493.3 L97.5 493.2 L98.0 493.1 L98.5 492.9 L99.0 492.7 L99.5 492.5 L100.0 492.3 L100.5 492.0 L101.0 491.7 L101.5 491.4 L102.0 490.9 L102.5 490.5 L103.0 489.9 L103.5 489.2 L104.0 488.5 L104.5 487.6 L105.0 486.6 L105.5 485.4 L106.0 484.1 L106.5 482.5 L107.0 480.8 L107.5 478.9 L108.0 476.8 L108.5 474.4 L109.0 471.8 L109.5 469.0 L110.0 466.0 L110.5 462.8 L111.0 459.4 L111.5 455.8 L112.0 452.1 L112.5 448.3 L113.0 444.6 L113.5 440.8 L114.0 437.2 L114.5 433.7 L115.0 430.5 L115.5 427.7 L116.0 425.3 L116.5 423.4 L117.0 422.2 L117.5 421.6 L118.0 421.6 L118.5 422.4 L119.0 423.8 L119.5 425.7 L120.0 428.2 L120.5 431.1 L121.0 434.4 L121.5 437.9 L122.0 441.6 L122.5 445.3 L123.0 449.1 L123.5 452.9 L124.0 456.5 L124.5 460.0 L125.0 463.4 L125.5 466.6 L126.0 469.6 L126.5 472.4 L127.0 474.9 L127.5 477.2 L128.0 479.3 L128.5 481.2 L129.0 482.9 L129.5 484.3 L130.0 485.6 L130.5 486.8 L131.0 487.8 L131.5 488.6 L132.0 489.4 L132.5 490.0 L133.0 490.6 L133.5 491.0 L134.0 491.4 L134.5 491.8 L135.0 492.1 L135.5 492.3 L136.0 492.6 L136.5 492.8 L137.0 492.9 L137.5 493.1 L138.0 493.2 L138.5 493.4 L139.0 493.5 L139.5 493.6 L140.0 493.7 L140.5 493.8 L141.0 493.9 L141.5 493.9 L142.0 494.0 L142.5 494.1 L143.0 494.1 L143.5 494.2 L144.0 494.3 L144.5 494.3 L145.0 494.4 L145.5 494.4 L146.0 494.5 L146.5 494.5 L147.0 494.5 L147.5 494.6 L148.0 494.6 L148.5 494.7 L149.0 494.7 L149.5 494.7 L150.0 494.8 L150.5 494.8 L151.0 494.8 L151.5 494.8 L152.0 494.9 L152.5 494.9 L153.0 494.9 L153.5 494.9 L154.0 495.0 L154.5 495.0 L155.0 495.0 L155.5 495.0 L156.0 495.1 L156.5 495.1 L157.0 495.1 L157.5 495.1 L158.0 495.1" fill="none" stroke="#5a5aff" stroke-width="0.7" stroke-opacity="0.72" stroke-linejoin="round"/>
<path d="M207.6 124.3 L208.1 123.3 L208.6 122.9 L209.1 122.9 L209.6 123.3 L210.1 123.9 L210.6 124.5 L211.1 125.1 L211.6 125.5 L212.1 125.8 L212.6 125.8 L213.1 125.6 L213.6 125.2 L214.1 124.7 L214.6 124.2 L215.1 124.0 L215.6 124.1 L216.1 124.6 L216.6 125.2 L217.1 125.9 L217.6 126.6 L218.1 127.0 L218.6 127.3 L219.1 127.3 L219.6 126.9 L220.1 126.2 L220.6 125.2 L221.1 123.8 L221.6 122.1 L222.1 120.5 L222.6 119.4 L223.1 119.2 L223.6 120.0 L224.1 121.7 L224.6 124.0 L225.1 126.5 L225.6 128.8 L226.1 130.8 L226.6 132.1 L227.1 132.6 L227.6 132.7 L228.1 132.2 L228.6 131.4 L229.1 130.4 L229.6 129.1 L230.1 127.6 L230.6 126.1 L231.1 124.5 L231.6 123.2 L232.1 122.4 L232.6 122.3 L233.1 122.8 L233.6 123.7 L234.1 124.7 L234.6 125.6 L235.1 126.2 L235.6 126.6 L236.1 126.7 L236.6 126.7 L237.1 126.5 L237.6 126.2 L238.1 125.9 L238.6 125.7 L239.1 125.6 L239.6 125.6 L240.1 125.7 L240.6 125.8 L241.1 125.9 L241.6 126.0 L242.1 125.9 L242.6 125.7 L243.1 125.5 L243.6 125.5 L244.1 125.7 L244.6 126.4 L245.1 127.5 L245.6 128.8 L246.1 129.7 L246.6 130.0 L247.1 129.3 L247.6 128.0 L248.1 126.2 L248.6 124.3 L249.1 122.6 L249.6 121.4 L250.1 120.5 L250.6 120.2 L251.1 120.5 L251.6 121.3 L252.1 122.5 L252.6 124.0 L253.1 125.6 L253.6 127.1 L254.1 128.3 L254.6 129.1 L255.1 129.2 L255.6 128.7 L256.1 127.8 L256.6 126.8 L257.1 125.9 L257.6 125.3 L258.1 125.0 L258.6 125.3 L259.1 126.0 L259.6 126.8 L260.1 127.2 L260.6 127.1 L261.1 126.5 L261.6 125.8 L262.1 124.9 L262.6 124.3 L263.1 123.8 L263.6 123.4 L264.1 123.4 L264.6 123.5 L265.1 123.9 L265.6 124.3 L266.1 124.5 L266.6 124.2 L267.1 123.4 L267.6 122.2 L268.1 121.0 L268.6 119.9 L269.1 119.2 L269.6 119.1 L270.1 119.7 L270.6 120.5 L271.1 121.0 L271.6 120.9 L272.1 120.2 L272.6 119.0 L273.1 117.5 L273.6 115.6 L274.1 113.6 L274.6 111.7 L275.1 109.8 L275.6 107.9 L276.1 106.0 L276.6 104.0 L277.1 102.0 L277.6 100.1 L278.1 98.1 L278.6 96.1 L279.1 94.0 L279.6 91.7 L280.1 89.3 L280.6 86.8 L281.1 84.6 L281.6 82.4 L282.1 80.2 L282.6 77.8 L283.1 75.1 L283.6 72.2 L284.1 69.0 L284.6 65.7 L285.1 62.4 L285.6 59.2 L286.1 56.4 L286.6 53.9 L287.1 51.8 L287.6 50.1 L288.1 48.9 L288.6 48.0 L289.1 47.5 L289.6 47.2 L290.1 47.1 L290.6 47.1 L291.1 47.2 L291.6 47.2 L292.1 47.2 L292.6 47.1 L293.1 47.0 L293.6 46.9 L294.1 47.0 L294.6 47.3 L295.1 47.9 L295.6 48.6 L296.1 49.7 L296.6 50.9 L297.1 52.4 L297.6 54.0 L298.1 55.9 L298.6 58.2 L299.1 60.9 L299.6 64.1 L300.1 67.7 L300.6 71.5 L301.1 75.5 L301.6 79.4 L302.1 83.3 L302.6 87.1 L303.1 90.5 L303.6 93.7 L304.1 96.6 L304.6 99.4 L305.1 102.2 L305.6 104.9 L306.1 107.4 L306.6 110.0 L307.1 112.6 L307.6 114.5 L308.1 115.1 L308.6 114.9 L309.1 114.5 L309.6 114.6 L310.1 115.7 L310.6 117.6 L311.1 119.7 L311.6 121.3 L312.1 122.2 L312.6 122.5 L313.1 122.1 L313.6 121.3 L314.1 120.2 L314.6 119.4 L315.1 119.3 L315.6 120.0 L316.1 121.1 L316.6 122.2 L317.1 122.9 L317.6 123.3 L318.1 123.2 L318.6 122.8 L319.1 122.1 L319.6 121.2 L320.1 120.6 L320.6 120.4 L321.1 120.8 L321.6 121.6 L322.1 122.2 L322.6 122.1 L323.1 121.0 L323.6 119.2 L324.1 117.4 L324.6 116.3 L325.1 116.5 L325.6 117.7 L326.1 119.5 L326.6 121.3 L327.1 122.9 L327.6 124.0 L328.1 124.6 L328.6 125.0 L329.1 125.2 L329.6 125.2 L330.1 125.1 L330.6 124.9 L331.1 124.7 L331.6 124.4 L332.1 124.1 L332.6 124.0 L333.1 123.9 L333.6 124.0 L334.1 124.4 L334.6 125.0 L335.1 125.8 L335.6 126.6 L336.1 127.2 L336.6 127.4 L337.1 127.2 L337.6 126.7 L338.1 126.0 L338.6 125.1 L339.1 124.2 L339.6 123.4 L340.1 122.9 L340.6 122.7 L341.1 123.0 L341.6 123.7 L342.1 124.3 L342.6 124.4 L343.1 123.7 L343.6 122.8 L344.1 122.4 L344.6 122.8 L345.1 123.7 L345.6 124.8 L346.1 125.7 L346.6 126.4 L347.1 126.7 L347.6 126.6 L348.1 126.2 L348.6 125.4 L349.1 124.5 L349.6 123.8 L350.1 123.6 L350.6 123.9 L351.1 124.6 L351.6 125.5 L352.1 126.2 L352.6 126.8 L353.1 127.1 L353.6 127.1 L354.1 126.8 L354.6 126.3 L355.1 125.5 L355.6 124.4 L356.1 123.1 L356.6 121.6 L357.1 120.2 L357.6 119.0 L358.1 118.2 L358.6 117.9 L359.1 118.2 L359.6 119.0 L360.1 120.1 L360.6 121.5 L361.1 122.8 L361.6 124.0" fill="none" stroke="#ff5050" stroke-width="0.75" stroke-opacity="0.85" stroke-linejoin="round"/>
<path d="M234.6 125.2 L235.1 125.2 L235.6 125.2 L236.1 125.2 L236.6 125.2 L237.1 125.2 L237.6 125.2 L238.1 125.2 L238.6 125.2 L239.1 125.1 L239.6 125.1 L240.1 125.1 L240.6 125.1 L241.1 125.1 L241.6 125.1 L242.1 125.1 L242.6 125.1 L243.1 125.1 L243.6 125.1 L244.1 125.1 L244.6 125.1 L245.1 125.1 L245.6 125.1 L246.1 125.1 L246.6 125.1 L247.1 125.1 L247.6 125.1 L248.1 125.1 L248.6 125.1 L249.1 125.1 L249.6 125.1 L250.1 125.1 L250.6 125.0 L251.1 125.0 L251.6 125.0 L252.1 125.0 L252.6 125.0 L253.1 125.0 L253.6 125.0 L254.1 125.0 L254.6 125.0 L255.1 125.0 L255.6 125.0 L256.1 125.0 L256.6 124.9 L257.1 124.9 L257.6 124.9 L258.1 124.9 L258.6 124.9 L259.1 124.9 L259.6 124.9 L260.1 124.8 L260.6 124.8 L261.1 124.8 L261.6 124.7 L262.1 124.7 L262.6 124.7 L263.1 124.6 L263.6 124.6 L264.1 124.5 L264.6 124.5 L265.1 124.4 L265.6 124.3 L266.1 124.2 L266.6 124.0 L267.1 123.9 L267.6 123.7 L268.1 123.5 L268.6 123.2 L269.1 122.9 L269.6 122.5 L270.1 122.0 L270.6 121.4 L271.1 120.7 L271.6 119.9 L272.1 118.9 L272.6 117.8 L273.1 116.5 L273.6 115.0 L274.1 113.4 L274.6 111.7 L275.1 109.9 L275.6 107.9 L276.1 105.9 L276.6 103.9 L277.1 101.8 L277.6 99.8 L278.1 97.8 L278.6 95.9 L279.1 93.9 L279.6 92.0 L280.1 90.0 L280.6 88.0 L281.1 85.8 L281.6 83.4 L282.1 80.8 L282.6 78.1 L283.1 75.1 L283.6 72.0 L284.1 68.8 L284.6 65.6 L285.1 62.4 L285.6 59.3 L286.1 56.5 L286.6 53.9 L287.1 51.8 L287.6 50.1 L288.1 48.8 L288.6 47.9 L289.1 47.5 L289.6 47.4 L290.1 47.5 L290.6 47.7 L291.1 48.0 L291.6 48.3 L292.1 48.4 L292.6 48.5 L293.1 48.5 L293.6 48.4 L294.1 48.3 L294.6 48.2 L295.1 48.3 L295.6 48.7 L296.1 49.3 L296.6 50.3 L297.1 51.7 L297.6 53.4 L298.1 55.5 L298.6 57.9 L299.1 60.7 L299.6 63.7 L300.1 67.0 L300.6 70.5 L301.1 74.1 L301.6 77.9 L302.1 81.7 L302.6 85.5 L303.1 89.3 L303.6 92.9 L304.1 96.4 L304.6 99.7 L305.1 102.8 L305.6 105.7 L306.1 108.3 L306.6 110.6 L307.1 112.7 L307.6 114.5 L308.1 116.1 L308.6 117.5 L309.1 118.6 L309.6 119.6 L310.1 120.5 L310.6 121.1 L311.1 121.7 L311.6 122.2 L312.1 122.5 L312.6 122.8 L313.1 123.1 L313.6 123.3 L314.1 123.4 L314.6 123.6 L315.1 123.7 L315.6 123.8 L316.1 123.8 L316.6 123.9 L317.1 123.9 L317.6 124.0 L318.1 124.0 L318.6 124.0 L319.1 124.1 L319.6 124.1 L320.1 124.1 L320.6 124.1 L321.1 124.2 L321.6 124.2 L322.1 124.2 L322.6 124.2 L323.1 124.2 L323.6 124.3 L324.1 124.3 L324.6 124.3 L325.1 124.3 L325.6 124.3 L326.1 124.3 L326.6 124.3 L327.1 124.3 L327.6 124.4 L328.1 124.4 L328.6 124.4 L329.1 124.4 L329.6 124.4 L330.1 124.4 L330.6 124.4 L331.1 124.4 L331.6 124.4 L332.1 124.4 L332.6 124.4 L333.1 124.4 L333.6 124.4 L334.1 124.5 L334.6 124.5 L335.1 124.5 L335.6 124.5 L336.1 124.5 L336.6 124.5 L337.1 124.5 L337.6 124.5 L338.1 124.5 L338.6 124.5 L339.1 124.5 L339.6 124.5 L340.1 124.5 L340.6 124.5 L341.1 124.5 L341.6 124.5 L342.1 124.5 L342.6 124.5 L343.1 124.5 L343.6 124.5 L344.1 124.5 L344.6 124.5 L345.1 124.5" fill="none" stroke="#ff3838" stroke-width="0.7" stroke-opacity="0.75" stroke-linejoin="round"/>
<path d="M234.6 125.3 L235.1 125.3 L235.6 125.3 L236.1 125.3 L236.6 125.3 L237.1 125.3 L237.6 125.3 L238.1 125.3 L238.6 125.3 L239.1 125.3 L239.6 125.3 L240.1 125.3 L240.6 125.3 L241.1 125.3 L241.6 125.3 L242.1 125.3 L242.6 125.3 L243.1 125.3 L243.6 125.3 L244.1 125.3 L244.6 125.3 L245.1 125.3 L245.6 125.3 L246.1 125.3 L246.6 125.3 L247.1 125.3 L247.6 125.3 L248.1 125.3 L248.6 125.3 L249.1 125.3 L249.6 125.3 L250.1 125.3 L250.6 125.3 L251.1 125.3 L251.6 125.3 L252.1 125.3 L252.6 125.3 L253.1 125.3 L253.6 125.3 L254.1 125.3 L254.6 125.3 L255.1 125.3 L255.6 125.3 L256.1 125.3 L256.6 125.3 L257.1 125.3 L257.6 125.3 L258.1 125.3 L258.6 125.3 L259.1 125.3 L259.6 125.3 L260.1 125.3 L260.6 125.3 L261.1 125.3 L261.6 125.3 L262.1 125.3 L262.6 125.3 L263.1 125.3 L263.6 125.3 L264.1 125.3 L264.6 125.3 L265.1 125.3 L265.6 125.3 L266.1 125.3 L266.6 125.3 L267.1 125.3 L267.6 125.3 L268.1 125.3 L268.6 125.3 L269.1 125.3 L269.6 125.3 L270.1 125.3 L270.6 125.3 L271.1 125.3 L271.6 125.3 L272.1 125.3 L272.6 125.3 L273.1 125.3 L273.6 125.3 L274.1 125.3 L274.6 125.3 L275.1 125.3 L275.6 125.3 L276.1 125.3 L276.6 125.3 L277.1 125.3 L277.6 125.3 L278.1 125.3 L278.6 125.3 L279.1 125.3 L279.6 125.3 L280.1 125.2 L280.6 125.2 L281.1 125.2 L281.6 125.2 L282.1 125.2 L282.6 125.2 L283.1 125.2 L283.6 125.2 L284.1 125.2 L284.6 125.2 L285.1 125.2 L285.6 125.2 L286.1 125.2 L286.6 125.1 L287.1 125.1 L287.6 125.1 L288.1 125.1 L288.6 125.1 L289.1 125.1 L289.6 125.1 L290.1 125.0 L290.6 125.0 L291.1 125.0 L291.6 125.0 L292.1 125.0 L292.6 125.0 L293.1 125.0 L293.6 125.0 L294.1 124.9 L294.6 124.9 L295.1 124.9 L295.6 124.9 L296.1 124.9 L296.6 124.9 L297.1 124.9" fill="none" stroke="#15151c" stroke-width="0.6" stroke-opacity="0.7" stroke-linejoin="round"/>
<path d="M306.1 124.7 L306.6 124.7 L307.1 124.7 L307.6 124.7 L308.1 124.7 L308.6 124.7 L309.1 124.7 L309.6 124.7 L310.1 124.7 L310.6 124.7 L311.1 124.7 L311.6 124.7 L312.1 124.7 L312.6 124.7 L313.1 124.7 L313.6 124.7 L314.1 124.7 L314.6 124.7 L315.1 124.7 L315.6 124.7 L316.1 124.7 L316.6 124.7 L317.1 124.7 L317.6 124.7 L318.1 124.7 L318.6 124.7 L319.1 124.7 L319.6 124.7 L320.1 124.7 L320.6 124.7 L321.1 124.7 L321.6 124.7 L322.1 124.7 L322.6 124.7 L323.1 124.7 L323.6 124.7 L324.1 124.7 L324.6 124.7 L325.1 124.7 L325.6 124.7 L326.1 124.7 L326.6 124.7 L327.1 124.7 L327.6 124.7 L328.1 124.7 L328.6 124.7 L329.1 124.7 L329.6 124.7 L330.1 124.7 L330.6 124.7 L331.1 124.7 L331.6 124.7 L332.1 124.7 L332.6 124.7 L333.1 124.7 L333.6 124.7 L334.1 124.7 L334.6 124.7 L335.1 124.7 L335.6 124.7 L336.1 124.7 L336.6 124.7 L337.1 124.7 L337.6 124.7 L338.1 124.7 L338.6 124.7 L339.1 124.7 L339.6 124.7 L340.1 124.7 L340.6 124.7 L341.1 124.7 L341.6 124.7 L342.1 124.7 L342.6 124.7 L343.1 124.7 L343.6 124.7 L344.1 124.7 L344.6 124.7 L345.1 124.7" fill="none" stroke="#15151c" stroke-width="0.6" stroke-opacity="0.45" stroke-linejoin="round"/>
<path d="M260.1 125.2 L260.6 125.2 L261.1 125.2 L261.6 125.2 L262.1 125.2 L262.6 125.2 L263.1 125.2 L263.6 125.2 L264.1 125.2 L264.6 125.2 L265.1 125.1 L265.6 125.1 L266.1 125.1 L266.6 125.1 L267.1 125.0 L267.6 125.0 L268.1 124.9 L268.6 124.8 L269.1 124.6 L269.6 124.4 L270.1 124.1 L270.6 123.8 L271.1 123.4 L271.6 122.8 L272.1 122.2 L272.6 121.4 L273.1 120.6 L273.6 119.6 L274.1 118.5 L274.6 117.4 L275.1 116.2 L275.6 115.1 L276.1 113.9 L276.6 112.9 L277.1 112.1 L277.6 111.4 L278.1 111.0 L278.6 110.9 L279.1 111.0 L279.6 111.4 L280.1 112.1 L280.6 112.9 L281.1 113.9 L281.6 115.0 L282.1 116.2 L282.6 117.3 L283.1 118.5 L283.6 119.5 L284.1 120.5 L284.6 121.3 L285.1 122.1 L285.6 122.7 L286.1 123.2 L286.6 123.6 L287.1 124.0 L287.6 124.2 L288.1 124.4 L288.6 124.6 L289.1 124.7 L289.6 124.7 L290.1 124.8 L290.6 124.8 L291.1 124.8 L291.6 124.8 L292.1 124.9 L292.6 124.9 L293.1 124.8 L293.6 124.8 L294.1 124.8 L294.6 124.8 L295.1 124.8 L295.6 124.8 L296.1 124.8 L296.6 124.8 L297.1 124.8" fill="none" stroke="#40d0d0" stroke-width="0.7" stroke-opacity="0.9" stroke-linejoin="round"/>
<path d="M270.6 125.0 L271.1 125.0 L271.6 124.9 L272.1 124.9 L272.6 124.8 L273.1 124.7 L273.6 124.6 L274.1 124.5 L274.6 124.3 L275.1 124.1 L275.6 123.9 L276.1 123.5 L276.6 123.1 L277.1 122.6 L277.6 121.9 L278.1 121.2 L278.6 120.3 L279.1 119.2 L279.6 118.0 L280.1 116.7 L280.6 115.2 L281.1 113.5 L281.6 111.8 L282.1 109.9 L282.6 108.0 L283.1 106.1 L283.6 104.2 L284.1 102.4 L284.6 100.8 L285.1 99.3 L285.6 98.1 L286.1 97.2 L286.6 96.6 L287.1 96.4 L287.6 96.6 L288.1 97.1 L288.6 98.0 L289.1 99.2 L289.6 100.6 L290.1 102.3 L290.6 104.1 L291.1 105.9 L291.6 107.8 L292.1 109.7 L292.6 111.5 L293.1 113.3 L293.6 114.9 L294.1 116.4 L294.6 117.7 L295.1 118.9 L295.6 119.9 L296.1 120.8 L296.6 121.5 L297.1 122.2 L297.6 122.7 L298.1 123.1 L298.6 123.4 L299.1 123.7 L299.6 123.9 L300.1 124.0 L300.6 124.1 L301.1 124.2 L301.6 124.3 L302.1 124.4 L302.6 124.4 L303.1 124.4 L303.6 124.5" fill="none" stroke="#ffb070" stroke-width="0.7" stroke-opacity="0.9" stroke-linejoin="round"/>
<path d="M267.6 125.1 L268.1 125.1 L268.6 125.1 L269.1 125.1 L269.6 125.1 L270.1 125.1 L270.6 125.0 L271.1 125.0 L271.6 125.0 L272.1 125.0 L272.6 124.9 L273.1 124.9 L273.6 124.8 L274.1 124.8 L274.6 124.7 L275.1 124.6 L275.6 124.4 L276.1 124.2 L276.6 124.0 L277.1 123.7 L277.6 123.3 L278.1 122.8 L278.6 122.3 L279.1 121.6 L279.6 120.7 L280.1 119.8 L280.6 118.6 L281.1 117.3 L281.6 115.9 L282.1 114.2 L282.6 112.5 L283.1 110.6 L283.6 108.6 L284.1 106.6 L284.6 104.6 L285.1 102.6 L285.6 100.7 L286.1 99.0 L286.6 97.5 L287.1 96.2 L287.6 95.4 L288.1 94.8 L288.6 94.7 L289.1 95.0 L289.6 95.6 L290.1 96.6 L290.6 97.9 L291.1 99.5 L291.6 101.3 L292.1 103.2 L292.6 105.2 L293.1 107.2 L293.6 109.2 L294.1 111.1 L294.6 112.9 L295.1 114.6 L295.6 116.1 L296.1 117.5 L296.6 118.7 L297.1 119.8 L297.6 120.7 L298.1 121.4 L298.6 122.1 L299.1 122.6 L299.6 123.0 L300.1 123.4 L300.6 123.6 L301.1 123.8 L301.6 124.0 L302.1 124.1 L302.6 124.2 L303.1 124.3 L303.6 124.3 L304.1 124.4 L304.6 124.4 L305.1 124.4 L305.6 124.4 L306.1 124.5 L306.6 124.5 L307.1 124.5 L307.6 124.5 L308.1 124.5 L308.6 124.5 L309.1 124.5" fill="none" stroke="#3f9f43" stroke-width="0.7" stroke-opacity="0.85" stroke-linejoin="round"/>
<path d="M278.6 124.6 L279.1 124.6 L279.6 124.5 L280.1 124.4 L280.6 124.3 L281.1 124.2 L281.6 124.1 L282.1 123.9 L282.6 123.6 L283.1 123.3 L283.6 123.0 L284.1 122.5 L284.6 121.9 L285.1 121.3 L285.6 120.4 L286.1 119.5 L286.6 118.3 L287.1 116.9 L287.6 115.3 L288.1 113.5 L288.6 111.5 L289.1 109.1 L289.6 106.6 L290.1 103.7 L290.6 100.7 L291.1 97.4 L291.6 94.0 L292.1 90.5 L292.6 86.8 L293.1 83.2 L293.6 79.7 L294.1 76.2 L294.6 73.1 L295.1 70.2 L295.6 67.7 L296.1 65.6 L296.6 64.1 L297.1 63.2 L297.6 62.9 L298.1 63.2 L298.6 64.1 L299.1 65.6 L299.6 67.6 L300.1 70.0 L300.6 72.9 L301.1 76.1 L301.6 79.5 L302.1 83.0 L302.6 86.6 L303.1 90.2 L303.6 93.7 L304.1 97.1 L304.6 100.4 L305.1 103.4 L305.6 106.2 L306.1 108.8 L306.6 111.1 L307.1 113.1 L307.6 114.9 L308.1 116.5 L308.6 117.9 L309.1 119.0 L309.6 120.0 L310.1 120.8 L310.6 121.5 L311.1 122.0 L311.6 122.5 L312.1 122.8 L312.6 123.1 L313.1 123.4 L313.6 123.5 L314.1 123.7 L314.6 123.8 L315.1 123.9 L315.6 124.0 L316.1 124.0 L316.6 124.1 L317.1 124.1 L317.6 124.2 L318.1 124.2 L318.6 124.2 L319.1 124.2 L319.6 124.3 L320.1 124.3 L320.6 124.3 L321.1 124.3 L321.6 124.3 L322.1 124.4 L322.6 124.4 L323.1 124.4 L323.6 124.4 L324.1 124.4 L324.6 124.4 L325.1 124.4 L325.6 124.4 L326.1 124.4 L326.6 124.4 L327.1 124.5 L327.6 124.5 L328.1 124.5 L328.6 124.5 L329.1 124.5 L329.6 124.5 L330.1 124.5 L330.6 124.5 L331.1 124.5 L331.6 124.5 L332.1 124.5 L332.6 124.5 L333.1 124.5 L333.6 124.5 L334.1 124.5 L334.6 124.5 L335.1 124.5 L335.6 124.6 L336.1 124.6 L336.6 124.6 L337.1 124.6 L337.6 124.6 L338.1 124.6 L338.6 124.6 L339.1 124.6 L339.6 124.6 L340.1 124.6 L340.6 124.6 L341.1 124.6 L341.6 124.6 L342.1 124.6 L342.6 124.6 L343.1 124.6 L343.6 124.6 L344.1 124.6 L344.6 124.6 L345.1 124.6" fill="none" stroke="#5a5aff" stroke-width="0.7" stroke-opacity="0.75" stroke-linejoin="round"/>
<path d="M205.7 217.9 L206.2 218.9 L206.7 219.3 L207.2 219.3 L207.7 218.9 L208.2 218.2 L208.7 217.5 L209.2 216.6 L209.7 215.8 L210.2 215.2 L210.7 214.7 L211.2 214.4 L211.7 214.3 L212.2 214.4 L212.7 214.7 L213.2 215.2 L213.7 215.9 L214.2 216.6 L214.7 217.4 L215.2 218.0 L215.7 218.5 L216.2 218.7 L216.7 218.5 L217.2 218.1 L217.7 217.5 L218.2 217.1 L218.7 217.0 L219.2 217.1 L219.7 217.6 L220.2 218.4 L220.7 219.3 L221.2 220.1 L221.7 220.5 L222.2 220.5 L222.7 220.3 L223.2 219.9 L223.7 219.4 L224.2 219.1 L224.7 218.8 L225.2 218.6 L225.7 218.5 L226.2 218.4 L226.7 218.2 L227.2 218.1 L227.7 218.0 L228.2 217.8 L228.7 217.7 L229.2 217.5 L229.7 217.3 L230.2 217.1 L230.7 216.8 L231.2 216.6 L231.7 216.5 L232.2 216.3 L232.7 216.3 L233.2 216.3 L233.7 216.4 L234.2 216.6 L234.7 217.1 L235.2 218.0 L235.7 219.1 L236.2 220.0 L236.7 220.4 L237.2 220.1 L237.7 219.4 L238.2 218.5 L238.7 217.7 L239.2 217.4 L239.7 217.4 L240.2 217.8 L240.7 218.2 L241.2 218.6 L241.7 219.0 L242.2 219.4 L242.7 219.8 L243.2 220.4 L243.7 221.1 L244.2 221.7 L244.7 222.2 L245.2 222.5 L245.7 222.4 L246.2 221.9 L246.7 221.2 L247.2 220.4 L247.7 219.8 L248.2 219.4 L248.7 219.3 L249.2 219.4 L249.7 219.5 L250.2 219.7 L250.7 219.9 L251.2 220.1 L251.7 220.3 L252.2 220.4 L252.7 220.5 L253.2 220.6 L253.7 220.6 L254.2 220.5 L254.7 220.4 L255.2 220.2 L255.7 219.9 L256.2 219.7 L256.7 219.4 L257.2 219.1 L257.7 218.8 L258.2 218.5 L258.7 218.2 L259.2 218.0 L259.7 217.8 L260.2 217.7 L260.7 217.6 L261.2 217.5 L261.7 217.5 L262.2 217.5 L262.7 217.6 L263.2 217.7 L263.7 217.8 L264.2 217.9 L264.7 217.9 L265.2 217.9 L265.7 217.7 L266.2 217.5 L266.7 217.1 L267.2 216.7 L267.7 216.2 L268.2 215.6 L268.7 215.0 L269.2 214.4 L269.7 214.0 L270.2 213.7 L270.7 213.6 L271.2 213.5 L271.7 213.2 L272.2 212.5 L272.7 210.7 L273.2 207.8 L273.7 204.5 L274.2 201.7 L274.7 199.6 L275.2 198.1 L275.7 196.8 L276.2 195.2 L276.7 193.2 L277.2 190.8 L277.7 188.3 L278.2 185.8 L278.7 183.5 L279.2 181.4 L279.7 179.5 L280.2 177.6 L280.7 175.7 L281.2 173.7 L281.7 171.4 L282.2 168.9 L282.7 166.2 L283.2 163.5 L283.7 160.9 L284.2 158.4 L284.7 156.2 L285.2 154.2 L285.7 152.5 L286.2 151.2 L286.7 150.2 L287.2 149.4 L287.7 148.8 L288.2 148.3 L288.7 147.8 L289.2 147.1 L289.7 146.3 L290.2 145.5 L290.7 144.8 L291.2 144.3 L291.7 144.2 L292.2 144.6 L292.7 145.3 L293.2 146.3 L293.7 147.3 L294.2 148.3 L294.7 149.3 L295.2 150.3 L295.7 151.4 L296.2 152.7 L296.7 154.6 L297.2 156.9 L297.7 159.5 L298.2 162.3 L298.7 165.2 L299.2 168.3 L299.7 171.6 L300.2 175.1 L300.7 178.8 L301.2 182.4 L301.7 186.0 L302.2 189.5 L302.7 192.9 L303.2 196.0 L303.7 198.8 L304.2 201.5 L304.7 204.0 L305.2 206.5 L305.7 208.8 L306.2 210.9 L306.7 212.8 L307.2 214.3 L307.7 215.5 L308.2 216.4 L308.7 217.2 L309.2 217.8 L309.7 218.0 L310.2 217.5 L310.7 216.8 L311.2 216.3 L311.7 216.2 L312.2 216.7 L312.7 217.5 L313.2 218.4 L313.7 219.1 L314.2 219.5 L314.7 219.6 L315.2 219.6 L315.7 219.5 L316.2 219.4 L316.7 219.4 L317.2 219.4 L317.7 219.3 L318.2 219.0 L318.7 218.5 L319.2 217.6 L319.7 216.7 L320.2 216.0 L320.7 215.8 L321.2 216.3 L321.7 217.2 L322.2 218.4 L322.7 219.4 L323.2 220.1 L323.7 220.5 L324.2 220.7 L324.7 220.8 L325.2 220.7 L325.7 220.6 L326.2 220.5 L326.7 220.6 L327.2 220.8 L327.7 221.2 L328.2 221.8 L328.7 222.5 L329.2 222.9 L329.7 223.0 L330.2 222.6 L330.7 221.9 L331.2 221.2 L331.7 220.6 L332.2 220.2 L332.7 220.0 L333.2 219.9 L333.7 219.9 L334.2 220.0 L334.7 220.2 L335.2 220.2 L335.7 220.3 L336.2 220.2 L336.7 220.1 L337.2 219.8 L337.7 219.4 L338.2 218.8 L338.7 218.2 L339.2 217.6 L339.7 217.2 L340.2 217.0 L340.7 217.1 L341.2 217.5 L341.7 218.1 L342.2 218.8 L342.7 219.5 L343.2 220.1 L343.7 220.6 L344.2 221.0 L344.7 221.1 L345.2 221.0 L345.7 220.8 L346.2 220.4 L346.7 219.9 L347.2 219.3 L347.7 218.7 L348.2 218.1 L348.7 217.5 L349.2 217.2 L349.7 217.0 L350.2 217.1 L350.7 217.4 L351.2 217.9 L351.7 218.4 L352.2 219.0 L352.7 219.5 L353.2 219.8 L353.7 220.0 L354.2 220.2 L354.7 220.2 L355.2 220.2 L355.7 220.1 L356.2 219.9 L356.7 219.7 L357.2 219.4 L357.7 219.1 L358.2 218.8 L358.7 218.5 L359.2 218.4 L359.7 218.5 L360.2 219.0 L360.7 219.8 L361.2 220.7 L361.7 221.7 L362.2 222.5 L362.7 223.2" fill="none" stroke="#b4e85a" stroke-width="0.75" stroke-opacity="0.85" stroke-linejoin="round"/>
<path d="M238.7 217.2 L239.2 217.2 L239.7 217.2 L240.2 217.2 L240.7 217.2 L241.2 217.1 L241.7 217.1 L242.2 217.1 L242.7 217.1 L243.2 217.1 L243.7 217.1 L244.2 217.1 L244.7 217.1 L245.2 217.1 L245.7 217.1 L246.2 217.1 L246.7 217.1 L247.2 217.1 L247.7 217.1 L248.2 217.1 L248.7 217.1 L249.2 217.1 L249.7 217.1 L250.2 217.1 L250.7 217.1 L251.2 217.1 L251.7 217.1 L252.2 217.0 L252.7 217.0 L253.2 217.0 L253.7 217.0 L254.2 217.0 L254.7 217.0 L255.2 217.0 L255.7 217.0 L256.2 217.0 L256.7 217.0 L257.2 217.0 L257.7 216.9 L258.2 216.9 L258.7 216.9 L259.2 216.9 L259.7 216.9 L260.2 216.9 L260.7 216.9 L261.2 216.8 L261.7 216.8 L262.2 216.8 L262.7 216.8 L263.2 216.8 L263.7 216.7 L264.2 216.7 L264.7 216.7 L265.2 216.6 L265.7 216.6 L266.2 216.5 L266.7 216.5 L267.2 216.4 L267.7 216.3 L268.2 216.1 L268.7 216.0 L269.2 215.7 L269.7 215.4 L270.2 215.0 L270.7 214.5 L271.2 213.9 L271.7 213.1 L272.2 212.2 L272.7 211.2 L273.2 210.0 L273.7 208.6 L274.2 207.1 L274.7 205.5 L275.2 203.8 L275.7 202.0 L276.2 200.1 L276.7 198.2 L277.2 196.2 L277.7 194.3 L278.2 192.3 L278.7 190.3 L279.2 188.2 L279.7 186.1 L280.2 183.8 L280.7 181.4 L281.2 178.8 L281.7 176.1 L282.2 173.2 L282.7 170.3 L283.2 167.3 L283.7 164.3 L284.2 161.4 L284.7 158.7 L285.2 156.1 L285.7 153.8 L286.2 151.9 L286.7 150.2 L287.2 149.0 L287.7 148.1 L288.2 147.5 L288.7 147.3 L289.2 147.3 L289.7 147.5 L290.2 147.9 L290.7 148.4 L291.2 148.9 L291.7 149.4 L292.2 149.9 L292.7 150.3 L293.2 150.8 L293.7 151.3 L294.2 151.8 L294.7 152.4 L295.2 153.2 L295.7 154.1 L296.2 155.3 L296.7 156.8 L297.2 158.5 L297.7 160.6 L298.2 163.0 L298.7 165.7 L299.2 168.7 L299.7 171.9 L300.2 175.3 L300.7 178.8 L301.2 182.3 L301.7 185.9 L302.2 189.4 L302.7 192.9 L303.2 196.1 L303.7 199.2 L304.2 202.1 L304.7 204.7 L305.2 207.1 L305.7 209.2 L306.2 211.0 L306.7 212.6 L307.2 213.9 L307.7 214.9 L308.2 215.8 L308.7 216.5 L309.2 217.1 L309.7 217.5 L310.2 217.9 L310.7 218.1 L311.2 218.3 L311.7 218.4 L312.2 218.6 L312.7 218.6 L313.2 218.7 L313.7 218.8 L314.2 218.8 L314.7 218.9 L315.2 218.9 L315.7 218.9 L316.2 219.0 L316.7 219.0 L317.2 219.0 L317.7 219.1 L318.2 219.1 L318.7 219.1 L319.2 219.1 L319.7 219.2 L320.2 219.2 L320.7 219.2 L321.2 219.2 L321.7 219.2 L322.2 219.2 L322.7 219.3 L323.2 219.3 L323.7 219.3 L324.2 219.3 L324.7 219.3 L325.2 219.3 L325.7 219.3 L326.2 219.3 L326.7 219.4 L327.2 219.4 L327.7 219.4 L328.2 219.4 L328.7 219.4 L329.2 219.4 L329.7 219.4 L330.2 219.4 L330.7 219.4 L331.2 219.4 L331.7 219.4 L332.2 219.4 L332.7 219.4 L333.2 219.5 L333.7 219.5 L334.2 219.5 L334.7 219.5 L335.2 219.5 L335.7 219.5 L336.2 219.5 L336.7 219.5 L337.2 219.5 L337.7 219.5 L338.2 219.5 L338.7 219.5 L339.2 219.5 L339.7 219.5 L340.2 219.5 L340.7 219.5 L341.2 219.5 L341.7 219.5 L342.2 219.5 L342.7 219.5 L343.2 219.5 L343.7 219.5 L344.2 219.5 L344.7 219.6 L345.2 219.6" fill="none" stroke="#ff3838" stroke-width="0.7" stroke-opacity="0.75" stroke-linejoin="round"/>
<path d="M238.7 217.3 L239.2 217.3 L239.7 217.3 L240.2 217.3 L240.7 217.3 L241.2 217.3 L241.7 217.3 L242.2 217.3 L242.7 217.3 L243.2 217.3 L243.7 217.3 L244.2 217.3 L244.7 217.3 L245.2 217.3 L245.7 217.3 L246.2 217.3 L246.7 217.3 L247.2 217.3 L247.7 217.3 L248.2 217.3 L248.7 217.3 L249.2 217.3 L249.7 217.3 L250.2 217.3 L250.7 217.3 L251.2 217.3 L251.7 217.3 L252.2 217.3 L252.7 217.3 L253.2 217.3 L253.7 217.3 L254.2 217.3 L254.7 217.3 L255.2 217.3 L255.7 217.3 L256.2 217.3 L256.7 217.3 L257.2 217.3 L257.7 217.3 L258.2 217.3 L258.7 217.3 L259.2 217.3 L259.7 217.3 L260.2 217.3 L260.7 217.3 L261.2 217.3 L261.7 217.3 L262.2 217.3 L262.7 217.3 L263.2 217.3 L263.7 217.3 L264.2 217.3 L264.7 217.3 L265.2 217.3 L265.7 217.3 L266.2 217.3 L266.7 217.3 L267.2 217.3 L267.7 217.3 L268.2 217.3 L268.7 217.3 L269.2 217.3 L269.7 217.3 L270.2 217.3 L270.7 217.3 L271.2 217.3 L271.7 217.3 L272.2 217.3 L272.7 217.3 L273.2 217.4 L273.7 217.4 L274.2 217.4 L274.7 217.4 L275.2 217.4 L275.7 217.4 L276.2 217.4 L276.7 217.4 L277.2 217.4 L277.7 217.5 L278.2 217.5 L278.7 217.5 L279.2 217.5 L279.7 217.5 L280.2 217.6 L280.7 217.6 L281.2 217.6 L281.7 217.6 L282.2 217.7 L282.7 217.7 L283.2 217.7 L283.7 217.8 L284.2 217.8 L284.7 217.9 L285.2 217.9 L285.7 217.9 L286.2 218.0 L286.7 218.0 L287.2 218.1 L287.7 218.1 L288.2 218.2 L288.7 218.3 L289.2 218.3 L289.7 218.4 L290.2 218.4 L290.7 218.5 L291.2 218.5 L291.7 218.6 L292.2 218.6 L292.7 218.7 L293.2 218.7 L293.7 218.8 L294.2 218.8 L294.7 218.9 L295.2 218.9 L295.7 219.0 L296.2 219.0" fill="none" stroke="#15151c" stroke-width="0.6" stroke-opacity="0.7" stroke-linejoin="round"/>
<path d="M304.7 219.6 L305.2 219.6 L305.7 219.6 L306.2 219.6 L306.7 219.6 L307.2 219.6 L307.7 219.6 L308.2 219.7 L308.7 219.7 L309.2 219.7 L309.7 219.7 L310.2 219.7 L310.7 219.7 L311.2 219.7 L311.7 219.7 L312.2 219.7 L312.7 219.7 L313.2 219.7 L313.7 219.7 L314.2 219.7 L314.7 219.7 L315.2 219.7 L315.7 219.7 L316.2 219.7 L316.7 219.7 L317.2 219.7 L317.7 219.7 L318.2 219.7 L318.7 219.7 L319.2 219.7 L319.7 219.7 L320.2 219.7 L320.7 219.7 L321.2 219.7 L321.7 219.7 L322.2 219.7 L322.7 219.7 L323.2 219.7 L323.7 219.7 L324.2 219.7 L324.7 219.7 L325.2 219.7 L325.7 219.7 L326.2 219.7 L326.7 219.7 L327.2 219.7 L327.7 219.7 L328.2 219.7 L328.7 219.7 L329.2 219.7 L329.7 219.7 L330.2 219.7 L330.7 219.7 L331.2 219.7 L331.7 219.7 L332.2 219.7 L332.7 219.7 L333.2 219.7 L333.7 219.7 L334.2 219.7 L334.7 219.7 L335.2 219.7 L335.7 219.7 L336.2 219.7 L336.7 219.7 L337.2 219.7 L337.7 219.7 L338.2 219.7 L338.7 219.7 L339.2 219.7 L339.7 219.7 L340.2 219.7 L340.7 219.7 L341.2 219.7 L341.7 219.7 L342.2 219.7 L342.7 219.7 L343.2 219.7 L343.7 219.7 L344.2 219.7 L344.7 219.7 L345.2 219.7" fill="none" stroke="#15151c" stroke-width="0.6" stroke-opacity="0.45" stroke-linejoin="round"/>
<path d="M259.7 217.2 L260.2 217.2 L260.7 217.2 L261.2 217.2 L261.7 217.2 L262.2 217.2 L262.7 217.2 L263.2 217.2 L263.7 217.2 L264.2 217.2 L264.7 217.2 L265.2 217.2 L265.7 217.1 L266.2 217.1 L266.7 217.1 L267.2 217.0 L267.7 216.9 L268.2 216.8 L268.7 216.7 L269.2 216.5 L269.7 216.2 L270.2 215.8 L270.7 215.4 L271.2 214.9 L271.7 214.2 L272.2 213.4 L272.7 212.6 L273.2 211.6 L273.7 210.5 L274.2 209.3 L274.7 208.2 L275.2 207.0 L275.7 205.9 L276.2 205.0 L276.7 204.2 L277.2 203.6 L277.7 203.3 L278.2 203.3 L278.7 203.6 L279.2 204.1 L279.7 204.9 L280.2 205.9 L280.7 207.0 L281.2 208.2 L281.7 209.4 L282.2 210.6 L282.7 211.7 L283.2 212.8 L283.7 213.7 L284.2 214.5 L284.7 215.3 L285.2 215.9 L285.7 216.4 L286.2 216.8 L286.7 217.1 L287.2 217.4 L287.7 217.6 L288.2 217.8 L288.7 217.9 L289.2 218.0 L289.7 218.1 L290.2 218.2 L290.7 218.3 L291.2 218.4 L291.7 218.4 L292.2 218.5 L292.7 218.6 L293.2 218.6 L293.7 218.7 L294.2 218.8 L294.7 218.8 L295.2 218.9 L295.7 218.9 L296.2 219.0" fill="none" stroke="#40d0d0" stroke-width="0.7" stroke-opacity="0.9" stroke-linejoin="round"/>
<path d="M269.7 217.1 L270.2 217.0 L270.7 217.0 L271.2 217.0 L271.7 216.9 L272.2 216.9 L272.7 216.8 L273.2 216.7 L273.7 216.6 L274.2 216.4 L274.7 216.2 L275.2 215.9 L275.7 215.6 L276.2 215.2 L276.7 214.7 L277.2 214.1 L277.7 213.3 L278.2 212.5 L278.7 211.5 L279.2 210.4 L279.7 209.1 L280.2 207.7 L280.7 206.1 L281.2 204.5 L281.7 202.7 L282.2 201.0 L282.7 199.2 L283.2 197.4 L283.7 195.7 L284.2 194.1 L284.7 192.8 L285.2 191.6 L285.7 190.8 L286.2 190.2 L286.7 190.0 L287.2 190.2 L287.7 190.7 L288.2 191.5 L288.7 192.7 L289.2 194.1 L289.7 195.6 L290.2 197.4 L290.7 199.2 L291.2 201.1 L291.7 203.0 L292.2 204.8 L292.7 206.6 L293.2 208.2 L293.7 209.8 L294.2 211.2 L294.7 212.5 L295.2 213.6 L295.7 214.5 L296.2 215.4 L296.7 216.1 L297.2 216.7 L297.7 217.2 L298.2 217.6 L298.7 218.0 L299.2 218.3 L299.7 218.5 L300.2 218.7 L300.7 218.8 L301.2 218.9 L301.7 219.0 L302.2 219.1 L302.7 219.2 L303.2 219.2 L303.7 219.3" fill="none" stroke="#ffb070" stroke-width="0.7" stroke-opacity="0.9" stroke-linejoin="round"/>
<path d="M266.2 217.2 L266.7 217.2 L267.2 217.1 L267.7 217.1 L268.2 217.1 L268.7 217.1 L269.2 217.1 L269.7 217.1 L270.2 217.1 L270.7 217.1 L271.2 217.0 L271.7 217.0 L272.2 217.0 L272.7 216.9 L273.2 216.8 L273.7 216.7 L274.2 216.6 L274.7 216.5 L275.2 216.3 L275.7 216.1 L276.2 215.8 L276.7 215.4 L277.2 214.9 L277.7 214.4 L278.2 213.8 L278.7 213.0 L279.2 212.1 L279.7 211.1 L280.2 210.0 L280.7 208.7 L281.2 207.3 L281.7 205.8 L282.2 204.2 L282.7 202.6 L283.2 200.9 L283.7 199.2 L284.2 197.6 L284.7 196.1 L285.2 194.7 L285.7 193.6 L286.2 192.6 L286.7 192.0 L287.2 191.6 L287.7 191.5 L288.2 191.8 L288.7 192.4 L289.2 193.3 L289.7 194.4 L290.2 195.8 L290.7 197.3 L291.2 199.0 L291.7 200.7 L292.2 202.5 L292.7 204.2 L293.2 205.9 L293.7 207.6 L294.2 209.1 L294.7 210.5 L295.2 211.8 L295.7 213.0 L296.2 214.0 L296.7 214.9 L297.2 215.7 L297.7 216.4 L298.2 216.9 L298.7 217.4 L299.2 217.8 L299.7 218.1 L300.2 218.4 L300.7 218.6 L301.2 218.8 L301.7 218.9 L302.2 219.0 L302.7 219.1 L303.2 219.2 L303.7 219.2 L304.2 219.3 L304.7 219.3 L305.2 219.4 L305.7 219.4 L306.2 219.4 L306.7 219.4 L307.2 219.4 L307.7 219.5 L308.2 219.5 L308.7 219.5 L309.2 219.5" fill="none" stroke="#3f9f43" stroke-width="0.7" stroke-opacity="0.85" stroke-linejoin="round"/>
<path d="M277.2 216.9 L277.7 216.9 L278.2 216.8 L278.7 216.8 L279.2 216.7 L279.7 216.6 L280.2 216.5 L280.7 216.4 L281.2 216.2 L281.7 216.0 L282.2 215.7 L282.7 215.4 L283.2 214.9 L283.7 214.4 L284.2 213.7 L284.7 213.0 L285.2 212.0 L285.7 211.0 L286.2 209.7 L286.7 208.2 L287.2 206.6 L287.7 204.7 L288.2 202.6 L288.7 200.3 L289.2 197.8 L289.7 195.1 L290.2 192.3 L290.7 189.3 L291.2 186.2 L291.7 183.1 L292.2 180.1 L292.7 177.1 L293.2 174.2 L293.7 171.6 L294.2 169.3 L294.7 167.3 L295.2 165.7 L295.7 164.5 L296.2 163.9 L296.7 163.8 L297.2 164.2 L297.7 165.1 L298.2 166.6 L298.7 168.4 L299.2 170.7 L299.7 173.2 L300.2 176.0 L300.7 179.0 L301.2 182.1 L301.7 185.3 L302.2 188.5 L302.7 191.6 L303.2 194.6 L303.7 197.4 L304.2 200.1 L304.7 202.6 L305.2 204.9 L305.7 207.0 L306.2 208.8 L306.7 210.5 L307.2 211.9 L307.7 213.1 L308.2 214.2 L308.7 215.1 L309.2 215.9 L309.7 216.5 L310.2 217.0 L310.7 217.5 L311.2 217.8 L311.7 218.1 L312.2 218.4 L312.7 218.5 L313.2 218.7 L313.7 218.8 L314.2 218.9 L314.7 219.0 L315.2 219.0 L315.7 219.1 L316.2 219.1 L316.7 219.2 L317.2 219.2 L317.7 219.2 L318.2 219.3 L318.7 219.3 L319.2 219.3 L319.7 219.3 L320.2 219.3 L320.7 219.3 L321.2 219.4 L321.7 219.4 L322.2 219.4 L322.7 219.4 L323.2 219.4 L323.7 219.4 L324.2 219.4 L324.7 219.4 L325.2 219.4 L325.7 219.5 L326.2 219.5 L326.7 219.5 L327.2 219.5 L327.7 219.5 L328.2 219.5 L328.7 219.5 L329.2 219.5 L329.7 219.5 L330.2 219.5 L330.7 219.5 L331.2 219.5 L331.7 219.5 L332.2 219.5 L332.7 219.5 L333.2 219.5 L333.7 219.5 L334.2 219.5 L334.7 219.6 L335.2 219.6 L335.7 219.6 L336.2 219.6 L336.7 219.6 L337.2 219.6 L337.7 219.6 L338.2 219.6 L338.7 219.6 L339.2 219.6 L339.7 219.6 L340.2 219.6 L340.7 219.6 L341.2 219.6 L341.7 219.6 L342.2 219.6 L342.7 219.6 L343.2 219.6 L343.7 219.6 L344.2 219.6 L344.7 219.6 L345.2 219.6" fill="none" stroke="#5a5aff" stroke-width="0.7" stroke-opacity="0.75" stroke-linejoin="round"/>
<path d="M207.3 306.7 L207.8 305.6 L208.3 304.8 L208.8 304.4 L209.3 304.3 L209.8 304.4 L210.3 304.8 L210.8 305.3 L211.3 306.0 L211.8 306.8 L212.3 307.6 L212.8 308.3 L213.3 308.6 L213.8 308.4 L214.3 307.7 L214.8 306.7 L215.3 305.6 L215.8 304.7 L216.3 304.3 L216.8 304.5 L217.3 305.1 L217.8 305.6 L218.3 305.5 L218.8 304.7 L219.3 303.6 L219.8 302.5 L220.3 301.8 L220.8 302.0 L221.3 302.9 L221.8 304.4 L222.3 306.2 L222.8 308.0 L223.3 309.5 L223.8 310.5 L224.3 310.8 L224.8 310.2 L225.3 309.2 L225.8 307.9 L226.3 306.8 L226.8 306.0 L227.3 305.9 L227.8 306.4 L228.3 307.6 L228.8 309.0 L229.3 310.3 L229.8 310.8 L230.3 310.3 L230.8 309.0 L231.3 307.4 L231.8 305.9 L232.3 304.8 L232.8 304.3 L233.3 304.2 L233.8 304.7 L234.3 305.6 L234.8 306.7 L235.3 307.9 L235.8 309.1 L236.3 310.1 L236.8 310.7 L237.3 310.8 L237.8 310.5 L238.3 310.0 L238.8 309.8 L239.3 310.2 L239.8 311.1 L240.3 311.8 L240.8 311.4 L241.3 309.8 L241.8 307.4 L242.3 305.0 L242.8 303.2 L243.3 302.6 L243.8 303.0 L244.3 304.3 L244.8 306.1 L245.3 307.8 L245.8 308.5 L246.3 308.0 L246.8 306.7 L247.3 305.1 L247.8 303.9 L248.3 303.2 L248.8 303.1 L249.3 303.7 L249.8 304.7 L250.3 305.8 L250.8 306.7 L251.3 307.1 L251.8 307.2 L252.3 307.2 L252.8 307.4 L253.3 308.0 L253.8 309.0 L254.3 309.9 L254.8 310.7 L255.3 310.8 L255.8 310.6 L256.3 310.2 L256.8 310.0 L257.3 310.2 L257.8 310.9 L258.3 311.7 L258.8 312.3 L259.3 312.4 L259.8 311.9 L260.3 311.1 L260.8 310.4 L261.3 309.8 L261.8 309.6 L262.3 309.7 L262.8 310.2 L263.3 311.0 L263.8 311.9 L264.3 312.8 L264.8 313.2 L265.3 312.9 L265.8 312.1 L266.3 311.0 L266.8 310.0 L267.3 309.2 L267.8 308.5 L268.3 307.6 L268.8 306.4 L269.3 304.8 L269.8 303.4 L270.3 302.7 L270.8 303.2 L271.3 304.4 L271.8 305.2 L272.3 305.0 L272.8 304.0 L273.3 302.6 L273.8 301.3 L274.3 300.0 L274.8 298.6 L275.3 296.9 L275.8 294.8 L276.3 292.6 L276.8 290.5 L277.3 288.4 L277.8 286.4 L278.3 284.5 L278.8 282.6 L279.3 280.6 L279.8 278.6 L280.3 276.5 L280.8 274.2 L281.3 271.8 L281.8 269.2 L282.3 266.6 L282.8 263.8 L283.3 261.0 L283.8 258.2 L284.3 255.6 L284.8 253.0 L285.3 250.7 L285.8 248.4 L286.3 246.2 L286.8 243.9 L287.3 242.3 L287.8 241.4 L288.3 240.8 L288.8 239.8 L289.3 238.0 L289.8 236.0 L290.3 234.0 L290.8 232.6 L291.3 232.1 L291.8 232.4 L292.3 233.2 L292.8 234.1 L293.3 234.9 L293.8 235.6 L294.3 236.2 L294.8 236.6 L295.3 237.0 L295.8 237.3 L296.3 237.6 L296.8 238.2 L297.3 239.3 L297.8 241.0 L298.3 243.3 L298.8 246.2 L299.3 249.6 L299.8 253.4 L300.3 257.5 L300.8 261.7 L301.3 265.8 L301.8 269.6 L302.3 273.1 L302.8 276.1 L303.3 279.1 L303.8 282.1 L304.3 285.2 L304.8 288.2 L305.3 291.1 L305.8 293.8 L306.3 296.3 L306.8 298.5 L307.3 300.5 L307.8 302.1 L308.3 303.7 L308.8 305.1 L309.3 305.7 L309.8 305.2 L310.3 304.1 L310.8 302.7 L311.3 301.6 L311.8 301.0 L312.3 301.2 L312.8 302.4 L313.3 304.2 L313.8 306.4 L314.3 308.8 L314.8 311.7 L315.3 315.1 L315.8 317.7 L316.3 317.8 L316.8 314.8 L317.3 310.6 L317.8 307.6 L318.3 306.6 L318.8 307.0 L319.3 308.5 L319.8 310.3 L320.3 311.9 L320.8 312.7 L321.3 312.9 L321.8 312.5 L322.3 311.8 L322.8 310.9 L323.3 310.0 L323.8 309.4 L324.3 309.1 L324.8 309.3 L325.3 309.9 L325.8 310.6 L326.3 311.5 L326.8 312.3 L327.3 313.1 L327.8 313.6 L328.3 313.7 L328.8 313.4 L329.3 312.8 L329.8 311.8 L330.3 310.5 L330.8 309.2 L331.3 307.8 L331.8 306.6 L332.3 305.8 L332.8 305.6 L333.3 306.0 L333.8 306.8 L334.3 307.7 L334.8 308.3 L335.3 308.4 L335.8 308.1 L336.3 307.5 L336.8 306.9 L337.3 306.5 L337.8 306.3 L338.3 306.6 L338.8 307.1 L339.3 308.1 L339.8 309.4 L340.3 310.6 L340.8 311.5 L341.3 311.8 L341.8 311.8 L342.3 312.0 L342.8 312.8 L343.3 314.2 L343.8 315.4 L344.3 315.6 L344.8 314.6 L345.3 312.8 L345.8 310.8 L346.3 309.2 L346.8 308.1 L347.3 307.6 L347.8 307.5 L348.3 307.8 L348.8 308.5 L349.3 309.4 L349.8 310.4 L350.3 311.4 L350.8 312.1 L351.3 312.4 L351.8 312.1 L352.3 311.4 L352.8 310.3 L353.3 309.2 L353.8 308.1 L354.3 307.4 L354.8 307.4 L355.3 308.3 L355.8 309.7 L356.3 311.2 L356.8 312.3 L357.3 312.5 L357.8 311.8 L358.3 310.6 L358.8 309.2 L359.3 307.9 L359.8 306.8 L360.3 306.3 L360.8 306.3 L361.3 307.2 L361.8 309.1" fill="none" stroke="#ff60ff" stroke-width="0.75" stroke-opacity="0.85" stroke-linejoin="round"/>
<path d="M238.7 309.4 L239.2 309.4 L239.7 309.4 L240.2 309.4 L240.7 309.4 L241.2 309.4 L241.7 309.4 L242.2 309.4 L242.7 309.3 L243.2 309.3 L243.7 309.3 L244.2 309.3 L244.7 309.3 L245.2 309.3 L245.7 309.3 L246.2 309.3 L246.7 309.3 L247.2 309.3 L247.7 309.3 L248.2 309.3 L248.7 309.3 L249.2 309.3 L249.7 309.3 L250.2 309.3 L250.7 309.3 L251.2 309.3 L251.7 309.3 L252.2 309.3 L252.7 309.3 L253.2 309.2 L253.7 309.2 L254.2 309.2 L254.7 309.2 L255.2 309.2 L255.7 309.2 L256.2 309.2 L256.7 309.2 L257.2 309.2 L257.7 309.2 L258.2 309.2 L258.7 309.2 L259.2 309.1 L259.7 309.1 L260.2 309.1 L260.7 309.1 L261.2 309.1 L261.7 309.1 L262.2 309.1 L262.7 309.0 L263.2 309.0 L263.7 309.0 L264.2 309.0 L264.7 308.9 L265.2 308.9 L265.7 308.9 L266.2 308.8 L266.7 308.8 L267.2 308.7 L267.7 308.6 L268.2 308.5 L268.7 308.4 L269.2 308.2 L269.7 307.9 L270.2 307.6 L270.7 307.2 L271.2 306.7 L271.7 306.0 L272.2 305.2 L272.7 304.3 L273.2 303.2 L273.7 301.9 L274.2 300.4 L274.7 298.8 L275.2 297.1 L275.7 295.2 L276.2 293.2 L276.7 291.2 L277.2 289.2 L277.7 287.1 L278.2 285.0 L278.7 283.0 L279.2 280.9 L279.7 278.9 L280.2 276.7 L280.7 274.5 L281.2 272.3 L281.7 269.8 L282.2 267.3 L282.7 264.7 L283.2 261.9 L283.7 259.2 L284.2 256.4 L284.7 253.7 L285.2 251.2 L285.7 248.8 L286.2 246.7 L286.7 244.8 L287.2 243.3 L287.7 242.1 L288.2 241.2 L288.7 240.5 L289.2 240.1 L289.7 239.9 L290.2 239.8 L290.7 239.7 L291.2 239.6 L291.7 239.3 L292.2 239.0 L292.7 238.5 L293.2 237.9 L293.7 237.3 L294.2 236.6 L294.7 236.2 L295.2 235.9 L295.7 236.0 L296.2 236.5 L296.7 237.4 L297.2 238.8 L297.7 240.6 L298.2 242.9 L298.7 245.6 L299.2 248.6 L299.7 252.0 L300.2 255.5 L300.7 259.3 L301.2 263.1 L301.7 267.1 L302.2 271.0 L302.7 274.9 L303.2 278.7 L303.7 282.3 L304.2 285.8 L304.7 289.0 L305.2 292.0 L305.7 294.7 L306.2 297.2 L306.7 299.4 L307.2 301.3 L307.7 303.0 L308.2 304.5 L308.7 305.7 L309.2 306.7 L309.7 307.6 L310.2 308.3 L310.7 308.9 L311.2 309.4 L311.7 309.8 L312.2 310.1 L312.7 310.4 L313.2 310.6 L313.7 310.7 L314.2 310.8 L314.7 311.0 L315.2 311.0 L315.7 311.1 L316.2 311.2 L316.7 311.2 L317.2 311.3 L317.7 311.3 L318.2 311.3 L318.7 311.4 L319.2 311.4 L319.7 311.4 L320.2 311.4 L320.7 311.5 L321.2 311.5 L321.7 311.5 L322.2 311.5 L322.7 311.5 L323.2 311.5 L323.7 311.6 L324.2 311.6 L324.7 311.6 L325.2 311.6 L325.7 311.6 L326.2 311.6 L326.7 311.6 L327.2 311.6 L327.7 311.7 L328.2 311.7 L328.7 311.7 L329.2 311.7 L329.7 311.7 L330.2 311.7 L330.7 311.7 L331.2 311.7 L331.7 311.7 L332.2 311.7 L332.7 311.7 L333.2 311.7 L333.7 311.8 L334.2 311.8 L334.7 311.8 L335.2 311.8 L335.7 311.8 L336.2 311.8 L336.7 311.8 L337.2 311.8 L337.7 311.8 L338.2 311.8 L338.7 311.8 L339.2 311.8 L339.7 311.8 L340.2 311.8 L340.7 311.8 L341.2 311.8 L341.7 311.8 L342.2 311.8 L342.7 311.8 L343.2 311.8 L343.7 311.8 L344.2 311.8 L344.7 311.8 L345.2 311.8" fill="none" stroke="#ff3838" stroke-width="0.7" stroke-opacity="0.75" stroke-linejoin="round"/>
<path d="M238.7 309.5 L239.2 309.5 L239.7 309.5 L240.2 309.5 L240.7 309.5 L241.2 309.5 L241.7 309.5 L242.2 309.5 L242.7 309.5 L243.2 309.5 L243.7 309.5 L244.2 309.5 L244.7 309.5 L245.2 309.5 L245.7 309.5 L246.2 309.5 L246.7 309.5 L247.2 309.5 L247.7 309.5 L248.2 309.5 L248.7 309.5 L249.2 309.5 L249.7 309.5 L250.2 309.5 L250.7 309.5 L251.2 309.5 L251.7 309.5 L252.2 309.5 L252.7 309.5 L253.2 309.5 L253.7 309.5 L254.2 309.5 L254.7 309.5 L255.2 309.5 L255.7 309.5 L256.2 309.5 L256.7 309.5 L257.2 309.5 L257.7 309.5 L258.2 309.5 L258.7 309.5 L259.2 309.5 L259.7 309.5 L260.2 309.5 L260.7 309.5 L261.2 309.5 L261.7 309.5 L262.2 309.5 L262.7 309.5 L263.2 309.5 L263.7 309.5 L264.2 309.5 L264.7 309.5 L265.2 309.5 L265.7 309.5 L266.2 309.5 L266.7 309.5 L267.2 309.5 L267.7 309.5 L268.2 309.5 L268.7 309.5 L269.2 309.5 L269.7 309.5 L270.2 309.5 L270.7 309.5 L271.2 309.5 L271.7 309.5 L272.2 309.5 L272.7 309.5 L273.2 309.5 L273.7 309.5 L274.2 309.6 L274.7 309.6 L275.2 309.6 L275.7 309.6 L276.2 309.6 L276.7 309.6 L277.2 309.6 L277.7 309.6 L278.2 309.6 L278.7 309.7 L279.2 309.7 L279.7 309.7 L280.2 309.7 L280.7 309.7 L281.2 309.8 L281.7 309.8 L282.2 309.8 L282.7 309.8 L283.2 309.9 L283.7 309.9 L284.2 309.9 L284.7 310.0 L285.2 310.0 L285.7 310.1 L286.2 310.1 L286.7 310.1 L287.2 310.2 L287.7 310.2 L288.2 310.3 L288.7 310.3 L289.2 310.4 L289.7 310.5 L290.2 310.5 L290.7 310.6 L291.2 310.6 L291.7 310.7 L292.2 310.7 L292.7 310.8 L293.2 310.8 L293.7 310.9 L294.2 310.9 L294.7 311.0 L295.2 311.1 L295.7 311.1 L296.2 311.2 L296.7 311.2 L297.2 311.3" fill="none" stroke="#15151c" stroke-width="0.6" stroke-opacity="0.7" stroke-linejoin="round"/>
<path d="M305.7 311.9 L306.2 311.9 L306.7 311.9 L307.2 311.9 L307.7 311.9 L308.2 311.9 L308.7 312.0 L309.2 312.0 L309.7 312.0 L310.2 312.0 L310.7 312.0 L311.2 312.0 L311.7 312.0 L312.2 312.0 L312.7 312.0 L313.2 312.0 L313.7 312.0 L314.2 312.0 L314.7 312.0 L315.2 312.0 L315.7 312.0 L316.2 312.0 L316.7 312.0 L317.2 312.0 L317.7 312.0 L318.2 312.0 L318.7 312.0 L319.2 312.0 L319.7 312.0 L320.2 312.0 L320.7 312.0 L321.2 312.0 L321.7 312.0 L322.2 312.0 L322.7 312.0 L323.2 312.0 L323.7 312.0 L324.2 312.0 L324.7 312.0 L325.2 312.0 L325.7 312.0 L326.2 312.0 L326.7 312.0 L327.2 312.0 L327.7 312.0 L328.2 312.0 L328.7 312.0 L329.2 312.0 L329.7 312.0 L330.2 312.0 L330.7 312.0 L331.2 312.0 L331.7 312.0 L332.2 312.0 L332.7 312.0 L333.2 312.0 L333.7 312.0 L334.2 312.0 L334.7 312.0 L335.2 312.0 L335.7 312.0 L336.2 312.0 L336.7 312.0 L337.2 312.0 L337.7 312.0 L338.2 312.0 L338.7 312.0 L339.2 312.0 L339.7 312.0 L340.2 312.0 L340.7 312.0 L341.2 312.0 L341.7 312.0 L342.2 312.0 L342.7 312.0 L343.2 312.0 L343.7 312.0 L344.2 312.0 L344.7 312.0 L345.2 312.0" fill="none" stroke="#15151c" stroke-width="0.6" stroke-opacity="0.45" stroke-linejoin="round"/>
<path d="M260.7 309.5 L261.2 309.5 L261.7 309.5 L262.2 309.4 L262.7 309.4 L263.2 309.4 L263.7 309.4 L264.2 309.4 L264.7 309.4 L265.2 309.4 L265.7 309.4 L266.2 309.4 L266.7 309.4 L267.2 309.3 L267.7 309.3 L268.2 309.2 L268.7 309.1 L269.2 309.0 L269.7 308.8 L270.2 308.6 L270.7 308.3 L271.2 307.9 L271.7 307.5 L272.2 306.9 L272.7 306.3 L273.2 305.6 L273.7 304.7 L274.2 303.8 L274.7 302.8 L275.2 301.9 L275.7 300.9 L276.2 300.0 L276.7 299.3 L277.2 298.7 L277.7 298.3 L278.2 298.1 L278.7 298.2 L279.2 298.6 L279.7 299.1 L280.2 299.8 L280.7 300.7 L281.2 301.7 L281.7 302.7 L282.2 303.7 L282.7 304.6 L283.2 305.5 L283.7 306.4 L284.2 307.1 L284.7 307.7 L285.2 308.3 L285.7 308.7 L286.2 309.1 L286.7 309.4 L287.2 309.6 L287.7 309.8 L288.2 309.9 L288.7 310.1 L289.2 310.2 L289.7 310.3 L290.2 310.4 L290.7 310.4 L291.2 310.5 L291.7 310.6 L292.2 310.6 L292.7 310.7 L293.2 310.8 L293.7 310.8 L294.2 310.9 L294.7 310.9 L295.2 311.0 L295.7 311.1 L296.2 311.1" fill="none" stroke="#40d0d0" stroke-width="0.7" stroke-opacity="0.9" stroke-linejoin="round"/>
<path d="M269.7 309.3 L270.2 309.3 L270.7 309.2 L271.2 309.2 L271.7 309.2 L272.2 309.1 L272.7 309.0 L273.2 308.9 L273.7 308.8 L274.2 308.7 L274.7 308.5 L275.2 308.2 L275.7 307.9 L276.2 307.5 L276.7 307.0 L277.2 306.5 L277.7 305.8 L278.2 305.0 L278.7 304.1 L279.2 303.0 L279.7 301.9 L280.2 300.6 L280.7 299.3 L281.2 297.8 L281.7 296.3 L282.2 294.8 L282.7 293.3 L283.2 291.9 L283.7 290.6 L284.2 289.4 L284.7 288.5 L285.2 287.7 L285.7 287.3 L286.2 287.1 L286.7 287.2 L287.2 287.7 L287.7 288.4 L288.2 289.4 L288.7 290.5 L289.2 291.9 L289.7 293.4 L290.2 294.9 L290.7 296.5 L291.2 298.1 L291.7 299.6 L292.2 301.1 L292.7 302.5 L293.2 303.7 L293.7 304.9 L294.2 305.9 L294.7 306.8 L295.2 307.6 L295.7 308.3 L296.2 308.9 L296.7 309.4 L297.2 309.8 L297.7 310.2 L298.2 310.4 L298.7 310.7 L299.2 310.9 L299.7 311.0 L300.2 311.1 L300.7 311.3 L301.2 311.3 L301.7 311.4 L302.2 311.5 L302.7 311.5" fill="none" stroke="#ffb070" stroke-width="0.7" stroke-opacity="0.9" stroke-linejoin="round"/>
<path d="M267.7 309.3 L268.2 309.3 L268.7 309.3 L269.2 309.3 L269.7 309.3 L270.2 309.3 L270.7 309.3 L271.2 309.3 L271.7 309.2 L272.2 309.2 L272.7 309.2 L273.2 309.1 L273.7 309.1 L274.2 309.0 L274.7 309.0 L275.2 308.9 L275.7 308.7 L276.2 308.6 L276.7 308.3 L277.2 308.1 L277.7 307.7 L278.2 307.3 L278.7 306.7 L279.2 306.1 L279.7 305.3 L280.2 304.4 L280.7 303.3 L281.2 302.1 L281.7 300.7 L282.2 299.2 L282.7 297.5 L283.2 295.7 L283.7 293.8 L284.2 291.8 L284.7 289.9 L285.2 287.9 L285.7 286.0 L286.2 284.2 L286.7 282.7 L287.2 281.4 L287.7 280.3 L288.2 279.7 L288.7 279.4 L289.2 279.5 L289.7 279.9 L290.2 280.8 L290.7 282.0 L291.2 283.5 L291.7 285.2 L292.2 287.0 L292.7 289.1 L293.2 291.1 L293.7 293.2 L294.2 295.3 L294.7 297.2 L295.2 299.1 L295.7 300.8 L296.2 302.4 L296.7 303.8 L297.2 305.1 L297.7 306.2 L298.2 307.2 L298.7 308.0 L299.2 308.7 L299.7 309.3 L300.2 309.8 L300.7 310.1 L301.2 310.5 L301.7 310.7 L302.2 310.9 L302.7 311.1 L303.2 311.2 L303.7 311.3 L304.2 311.4 L304.7 311.5 L305.2 311.5 L305.7 311.6 L306.2 311.6 L306.7 311.7 L307.2 311.7 L307.7 311.7 L308.2 311.7 L308.7 311.7 L309.2 311.8 L309.7 311.8 L310.2 311.8" fill="none" stroke="#3f9f43" stroke-width="0.7" stroke-opacity="0.85" stroke-linejoin="round"/>
<path d="M278.7 309.1 L279.2 309.0 L279.7 309.0 L280.2 308.9 L280.7 308.9 L281.2 308.8 L281.7 308.6 L282.2 308.5 L282.7 308.3 L283.2 308.0 L283.7 307.7 L284.2 307.3 L284.7 306.8 L285.2 306.1 L285.7 305.3 L286.2 304.4 L286.7 303.3 L287.2 302.0 L287.7 300.4 L288.2 298.6 L288.7 296.6 L289.2 294.2 L289.7 291.7 L290.2 288.8 L290.7 285.8 L291.2 282.5 L291.7 279.1 L292.2 275.6 L292.7 272.0 L293.2 268.4 L293.7 264.9 L294.2 261.5 L294.7 258.5 L295.2 255.7 L295.7 253.4 L296.2 251.6 L296.7 250.3 L297.2 249.7 L297.7 249.7 L298.2 250.3 L298.7 251.6 L299.2 253.4 L299.7 255.7 L300.2 258.5 L300.7 261.6 L301.2 265.0 L301.7 268.5 L302.2 272.2 L302.7 275.9 L303.2 279.5 L303.7 283.1 L304.2 286.4 L304.7 289.6 L305.2 292.6 L305.7 295.2 L306.2 297.7 L306.7 299.8 L307.2 301.7 L307.7 303.4 L308.2 304.8 L308.7 306.0 L309.2 307.1 L309.7 307.9 L310.2 308.6 L310.7 309.2 L311.2 309.7 L311.7 310.1 L312.2 310.4 L312.7 310.6 L313.2 310.8 L313.7 311.0 L314.2 311.1 L314.7 311.2 L315.2 311.3 L315.7 311.3 L316.2 311.4 L316.7 311.4 L317.2 311.4 L317.7 311.5 L318.2 311.5 L318.7 311.5 L319.2 311.6 L319.7 311.6 L320.2 311.6 L320.7 311.6 L321.2 311.6 L321.7 311.6 L322.2 311.7 L322.7 311.7 L323.2 311.7 L323.7 311.7 L324.2 311.7 L324.7 311.7 L325.2 311.7 L325.7 311.7 L326.2 311.7 L326.7 311.7 L327.2 311.8 L327.7 311.8 L328.2 311.8 L328.7 311.8 L329.2 311.8 L329.7 311.8 L330.2 311.8 L330.7 311.8 L331.2 311.8 L331.7 311.8 L332.2 311.8 L332.7 311.8 L333.2 311.8 L333.7 311.8 L334.2 311.8 L334.7 311.8 L335.2 311.8 L335.7 311.8 L336.2 311.9 L336.7 311.9 L337.2 311.9 L337.7 311.9 L338.2 311.9 L338.7 311.9 L339.2 311.9 L339.7 311.9 L340.2 311.9 L340.7 311.9 L341.2 311.9 L341.7 311.9 L342.2 311.9 L342.7 311.9 L343.2 311.9 L343.7 311.9 L344.2 311.9 L344.7 311.9 L345.2 311.9" fill="none" stroke="#5a5aff" stroke-width="0.7" stroke-opacity="0.75" stroke-linejoin="round"/>
<path d="M207.3 400.7 L207.8 398.0 L208.3 397.7 L208.8 399.0 L209.3 401.4 L209.8 404.1 L210.3 406.5 L210.8 408.0 L211.3 407.8 L211.8 406.0 L212.3 403.3 L212.8 400.7 L213.3 399.0 L213.8 398.4 L214.3 398.6 L214.8 399.3 L215.3 400.3 L215.8 401.7 L216.3 403.2 L216.8 404.9 L217.3 406.3 L217.8 407.1 L218.3 407.0 L218.8 406.0 L219.3 404.5 L219.8 402.7 L220.3 401.1 L220.8 399.8 L221.3 399.1 L221.8 399.3 L222.3 400.2 L222.8 401.1 L223.3 401.6 L223.8 401.3 L224.3 400.7 L224.8 400.2 L225.3 400.0 L225.8 400.2 L226.3 400.6 L226.8 401.1 L227.3 401.6 L227.8 402.1 L228.3 402.8 L228.8 403.6 L229.3 404.7 L229.8 405.9 L230.3 407.2 L230.8 408.2 L231.3 408.9 L231.8 408.9 L232.3 408.2 L232.8 406.9 L233.3 405.3 L233.8 403.5 L234.3 401.9 L234.8 400.6 L235.3 400.1 L235.8 400.7 L236.3 401.9 L236.8 403.0 L237.3 403.1 L237.8 402.0 L238.3 400.4 L238.8 399.1 L239.3 398.6 L239.8 398.8 L240.3 399.7 L240.8 400.9 L241.3 402.5 L241.8 404.1 L242.3 405.8 L242.8 407.2 L243.3 408.3 L243.8 408.8 L244.3 408.8 L244.8 408.2 L245.3 407.4 L245.8 406.5 L246.3 406.0 L246.8 405.7 L247.3 405.6 L247.8 405.6 L248.3 405.6 L248.8 405.9 L249.3 406.6 L249.8 407.7 L250.3 409.0 L250.8 410.5 L251.3 411.9 L251.8 412.9 L252.3 413.3 L252.8 412.9 L253.3 411.8 L253.8 410.1 L254.3 408.1 L254.8 406.1 L255.3 404.6 L255.8 404.0 L256.3 404.4 L256.8 405.2 L257.3 405.6 L257.8 405.1 L258.3 404.1 L258.8 402.8 L259.3 401.9 L259.8 401.4 L260.3 401.0 L260.8 400.5 L261.3 399.9 L261.8 399.7 L262.3 400.0 L262.8 401.2 L263.3 403.0 L263.8 404.8 L264.3 406.4 L264.8 407.4 L265.3 407.5 L265.8 406.3 L266.3 404.1 L266.8 401.5 L267.3 398.9 L267.8 396.9 L268.3 395.6 L268.8 394.9 L269.3 395.1 L269.8 395.9 L270.3 397.2 L270.8 398.9 L271.3 400.6 L271.8 401.6 L272.3 401.9 L272.8 401.5 L273.3 400.7 L273.8 399.8 L274.3 398.7 L274.8 397.1 L275.3 394.9 L275.8 392.2 L276.3 389.2 L276.8 386.3 L277.3 383.7 L277.8 381.3 L278.3 379.3 L278.8 377.4 L279.3 375.7 L279.8 373.9 L280.3 372.0 L280.8 369.8 L281.3 367.4 L281.8 364.7 L282.3 361.8 L282.8 359.0 L283.3 356.2 L283.8 353.5 L284.3 351.1 L284.8 349.0 L285.3 347.3 L285.8 345.8 L286.3 344.4 L286.8 343.1 L287.3 341.9 L287.8 341.2 L288.3 341.5 L288.8 342.9 L289.3 345.5 L289.8 346.4 L290.3 340.5 L290.8 334.2 L291.3 330.1 L291.8 328.0 L292.3 329.0 L292.8 331.1 L293.3 331.6 L293.8 329.9 L294.3 328.2 L294.8 328.5 L295.3 330.5 L295.8 333.0 L296.3 335.5 L296.8 337.5 L297.3 339.0 L297.8 340.2 L298.3 341.4 L298.8 342.9 L299.3 344.9 L299.8 347.7 L300.3 351.0 L300.8 354.2 L301.3 357.1 L301.8 360.0 L302.3 363.1 L302.8 366.7 L303.3 370.7 L303.8 374.8 L304.3 378.9 L304.8 382.7 L305.3 386.2 L305.8 389.2 L306.3 391.8 L306.8 394.2 L307.3 396.3 L307.8 397.5 L308.3 397.9 L308.8 398.3 L309.3 399.2 L309.8 400.4 L310.3 401.7 L310.8 402.7 L311.3 403.2 L311.8 403.0 L312.3 402.6 L312.8 402.4 L313.3 402.9 L313.8 403.9 L314.3 405.2 L314.8 406.1 L315.3 406.7 L315.8 406.9 L316.3 406.8 L316.8 406.6 L317.3 406.1 L317.8 405.6 L318.3 405.1 L318.8 404.7 L319.3 404.5 L319.8 404.5 L320.3 404.7 L320.8 404.9 L321.3 404.8 L321.8 404.5 L322.3 403.6 L322.8 402.2 L323.3 400.2 L323.8 398.0 L324.3 396.5 L324.8 396.5 L325.3 398.2 L325.8 400.7 L326.3 403.2 L326.8 405.0 L327.3 406.2 L327.8 406.8 L328.3 407.2 L328.8 407.3 L329.3 407.4 L329.8 407.5 L330.3 407.6 L330.8 407.8 L331.3 408.2 L331.8 408.7 L332.3 409.1 L332.8 409.4 L333.3 409.4 L333.8 408.9 L334.3 407.8 L334.8 406.3 L335.3 404.6 L335.8 402.9 L336.3 401.3 L336.8 400.2 L337.3 399.6 L337.8 399.7 L338.3 400.6 L338.8 401.9 L339.3 403.2 L339.8 404.0 L340.3 404.1 L340.8 403.6 L341.3 402.6 L341.8 401.5 L342.3 400.7 L342.8 400.8 L343.3 402.1 L343.8 404.2 L344.3 406.4 L344.8 408.4 L345.3 409.7 L345.8 410.0 L346.3 409.2 L346.8 407.5 L347.3 405.3 L347.8 403.0 L348.3 400.8 L348.8 399.1 L349.3 397.9 L349.8 397.4 L350.3 397.8 L350.8 398.9 L351.3 400.7 L351.8 402.9 L352.3 405.0 L352.8 406.3 L353.3 406.1 L353.8 404.3 L354.3 402.2 L354.8 401.2 L355.3 402.1 L355.8 404.5 L356.3 407.3 L356.8 409.8 L357.3 411.2 L357.8 411.6 L358.3 411.1 L358.8 410.0 L359.3 408.9 L359.8 408.1 L360.3 407.6 L360.8 407.3 L361.3 407.1 L361.8 406.8 L362.3 406.4" fill="none" stroke="#5cb85c" stroke-width="0.75" stroke-opacity="0.85" stroke-linejoin="round"/>
<path d="M234.2 405.0 L234.7 405.0 L235.2 405.0 L235.7 405.0 L236.2 405.0 L236.7 405.0 L237.2 405.0 L237.7 405.0 L238.2 405.0 L238.7 405.0 L239.2 405.0 L239.7 405.0 L240.2 405.0 L240.7 405.0 L241.2 405.0 L241.7 405.0 L242.2 405.0 L242.7 405.0 L243.2 405.0 L243.7 405.0 L244.2 405.0 L244.7 404.9 L245.2 404.9 L245.7 404.9 L246.2 404.9 L246.7 404.9 L247.2 404.9 L247.7 404.9 L248.2 404.9 L248.7 404.9 L249.2 404.9 L249.7 404.9 L250.2 404.9 L250.7 404.9 L251.2 404.9 L251.7 404.9 L252.2 404.9 L252.7 404.9 L253.2 404.9 L253.7 404.9 L254.2 404.9 L254.7 404.8 L255.2 404.8 L255.7 404.8 L256.2 404.8 L256.7 404.8 L257.2 404.8 L257.7 404.8 L258.2 404.8 L258.7 404.8 L259.2 404.8 L259.7 404.8 L260.2 404.7 L260.7 404.7 L261.2 404.7 L261.7 404.7 L262.2 404.7 L262.7 404.7 L263.2 404.7 L263.7 404.6 L264.2 404.6 L264.7 404.6 L265.2 404.6 L265.7 404.5 L266.2 404.5 L266.7 404.4 L267.2 404.4 L267.7 404.3 L268.2 404.2 L268.7 404.1 L269.2 403.9 L269.7 403.6 L270.2 403.3 L270.7 403.0 L271.2 402.5 L271.7 401.9 L272.2 401.2 L272.7 400.4 L273.2 399.5 L273.7 398.4 L274.2 397.2 L274.7 395.8 L275.2 394.4 L275.7 392.9 L276.2 391.3 L276.7 389.6 L277.2 387.9 L277.7 386.1 L278.2 384.3 L278.7 382.4 L279.2 380.3 L279.7 378.2 L280.2 375.9 L280.7 373.5 L281.2 370.9 L281.7 368.3 L282.2 365.5 L282.7 362.7 L283.2 359.8 L283.7 357.1 L284.2 354.4 L284.7 351.8 L285.2 349.5 L285.7 347.3 L286.2 345.3 L286.7 343.6 L287.2 342.2 L287.7 341.0 L288.2 340.1 L288.7 339.4 L289.2 338.9 L289.7 338.6 L290.2 338.4 L290.7 338.2 L291.2 338.1 L291.7 338.0 L292.2 337.9 L292.7 337.6 L293.2 337.3 L293.7 337.0 L294.2 336.6 L294.7 336.3 L295.2 336.0 L295.7 335.8 L296.2 335.8 L296.7 336.1 L297.2 336.8 L297.7 337.7 L298.2 339.1 L298.7 341.0 L299.2 343.2 L299.7 345.8 L300.2 348.8 L300.7 352.1 L301.2 355.6 L301.7 359.3 L302.2 363.2 L302.7 367.1 L303.2 371.0 L303.7 374.9 L304.2 378.6 L304.7 382.2 L305.2 385.5 L305.7 388.6 L306.2 391.5 L306.7 394.0 L307.2 396.3 L307.7 398.4 L308.2 400.1 L308.7 401.6 L309.2 402.9 L309.7 404.0 L310.2 404.9 L310.7 405.6 L311.2 406.2 L311.7 406.7 L312.2 407.0 L312.7 407.3 L313.2 407.6 L313.7 407.8 L314.2 407.9 L314.7 408.0 L315.2 408.1 L315.7 408.2 L316.2 408.3 L316.7 408.3 L317.2 408.4 L317.7 408.4 L318.2 408.4 L318.7 408.5 L319.2 408.5 L319.7 408.5 L320.2 408.5 L320.7 408.6 L321.2 408.6 L321.7 408.6 L322.2 408.6 L322.7 408.6 L323.2 408.6 L323.7 408.7 L324.2 408.7 L324.7 408.7 L325.2 408.7 L325.7 408.7 L326.2 408.7 L326.7 408.7 L327.2 408.7 L327.7 408.8 L328.2 408.8 L328.7 408.8 L329.2 408.8 L329.7 408.8 L330.2 408.8 L330.7 408.8 L331.2 408.8 L331.7 408.8 L332.2 408.8 L332.7 408.8 L333.2 408.8 L333.7 408.9 L334.2 408.9 L334.7 408.9 L335.2 408.9 L335.7 408.9 L336.2 408.9 L336.7 408.9 L337.2 408.9 L337.7 408.9 L338.2 408.9 L338.7 408.9 L339.2 408.9 L339.7 408.9 L340.2 408.9 L340.7 408.9 L341.2 408.9 L341.7 408.9 L342.2 408.9 L342.7 408.9 L343.2 408.9 L343.7 408.9 L344.2 408.9" fill="none" stroke="#ff3838" stroke-width="0.7" stroke-opacity="0.75" stroke-linejoin="round"/>
<path d="M234.2 405.1 L234.7 405.1 L235.2 405.1 L235.7 405.1 L236.2 405.1 L236.7 405.1 L237.2 405.1 L237.7 405.1 L238.2 405.1 L238.7 405.1 L239.2 405.1 L239.7 405.1 L240.2 405.1 L240.7 405.1 L241.2 405.1 L241.7 405.1 L242.2 405.1 L242.7 405.1 L243.2 405.1 L243.7 405.1 L244.2 405.1 L244.7 405.1 L245.2 405.1 L245.7 405.1 L246.2 405.1 L246.7 405.1 L247.2 405.1 L247.7 405.1 L248.2 405.1 L248.7 405.1 L249.2 405.1 L249.7 405.1 L250.2 405.1 L250.7 405.1 L251.2 405.1 L251.7 405.1 L252.2 405.1 L252.7 405.1 L253.2 405.1 L253.7 405.1 L254.2 405.1 L254.7 405.1 L255.2 405.1 L255.7 405.1 L256.2 405.1 L256.7 405.1 L257.2 405.1 L257.7 405.1 L258.2 405.1 L258.7 405.1 L259.2 405.1 L259.7 405.1 L260.2 405.1 L260.7 405.1 L261.2 405.1 L261.7 405.1 L262.2 405.1 L262.7 405.1 L263.2 405.1 L263.7 405.1 L264.2 405.1 L264.7 405.1 L265.2 405.1 L265.7 405.1 L266.2 405.1 L266.7 405.1 L267.2 405.1 L267.7 405.1 L268.2 405.1 L268.7 405.1 L269.2 405.1 L269.7 405.1 L270.2 405.1 L270.7 405.1 L271.2 405.1 L271.7 405.2 L272.2 405.2 L272.7 405.2 L273.2 405.2 L273.7 405.2 L274.2 405.2 L274.7 405.2 L275.2 405.2 L275.7 405.2 L276.2 405.2 L276.7 405.3 L277.2 405.3 L277.7 405.3 L278.2 405.3 L278.7 405.4 L279.2 405.4 L279.7 405.4 L280.2 405.4 L280.7 405.5 L281.2 405.5 L281.7 405.5 L282.2 405.6 L282.7 405.6 L283.2 405.7 L283.7 405.7 L284.2 405.8 L284.7 405.8 L285.2 405.9 L285.7 405.9 L286.2 406.0 L286.7 406.1 L287.2 406.1 L287.7 406.2 L288.2 406.3 L288.7 406.4 L289.2 406.5 L289.7 406.6 L290.2 406.7 L290.7 406.7 L291.2 406.8 L291.7 406.9 L292.2 407.0 L292.7 407.1 L293.2 407.2 L293.7 407.3 L294.2 407.4 L294.7 407.5 L295.2 407.6 L295.7 407.7 L296.2 407.8 L296.7 407.9 L297.2 407.9" fill="none" stroke="#15151c" stroke-width="0.6" stroke-opacity="0.7" stroke-linejoin="round"/>
<path d="M305.7 408.9 L306.2 409.0 L306.7 409.0 L307.2 409.0 L307.7 409.0 L308.2 409.0 L308.7 409.0 L309.2 409.0 L309.7 409.0 L310.2 409.0 L310.7 409.0 L311.2 409.0 L311.7 409.0 L312.2 409.1 L312.7 409.1 L313.2 409.1 L313.7 409.1 L314.2 409.1 L314.7 409.1 L315.2 409.1 L315.7 409.1 L316.2 409.1 L316.7 409.1 L317.2 409.1 L317.7 409.1 L318.2 409.1 L318.7 409.1 L319.2 409.1 L319.7 409.1 L320.2 409.1 L320.7 409.1 L321.2 409.1 L321.7 409.1 L322.2 409.1 L322.7 409.1 L323.2 409.1 L323.7 409.1 L324.2 409.1 L324.7 409.1 L325.2 409.1 L325.7 409.1 L326.2 409.1 L326.7 409.1 L327.2 409.1 L327.7 409.1 L328.2 409.1 L328.7 409.1 L329.2 409.1 L329.7 409.1 L330.2 409.1 L330.7 409.1 L331.2 409.1 L331.7 409.1 L332.2 409.1 L332.7 409.1 L333.2 409.1 L333.7 409.1 L334.2 409.1 L334.7 409.1 L335.2 409.1 L335.7 409.1 L336.2 409.1 L336.7 409.1 L337.2 409.1 L337.7 409.1 L338.2 409.1 L338.7 409.1 L339.2 409.1 L339.7 409.1 L340.2 409.1 L340.7 409.1 L341.2 409.1 L341.7 409.1 L342.2 409.1 L342.7 409.1 L343.2 409.1 L343.7 409.1 L344.2 409.1" fill="none" stroke="#15151c" stroke-width="0.6" stroke-opacity="0.45" stroke-linejoin="round"/>
<path d="M260.2 405.1 L260.7 405.1 L261.2 405.1 L261.7 405.1 L262.2 405.1 L262.7 405.0 L263.2 405.0 L263.7 405.0 L264.2 405.0 L264.7 405.0 L265.2 405.0 L265.7 405.0 L266.2 405.0 L266.7 404.9 L267.2 404.9 L267.7 404.8 L268.2 404.8 L268.7 404.7 L269.2 404.5 L269.7 404.3 L270.2 404.1 L270.7 403.7 L271.2 403.3 L271.7 402.8 L272.2 402.2 L272.7 401.5 L273.2 400.7 L273.7 399.8 L274.2 398.9 L274.7 397.9 L275.2 396.9 L275.7 396.0 L276.2 395.2 L276.7 394.6 L277.2 394.1 L277.7 393.9 L278.2 393.8 L278.7 394.1 L279.2 394.6 L279.7 395.2 L280.2 396.1 L280.7 397.0 L281.2 398.0 L281.7 399.0 L282.2 400.0 L282.7 400.9 L283.2 401.8 L283.7 402.6 L284.2 403.3 L284.7 403.9 L285.2 404.4 L285.7 404.8 L286.2 405.1 L286.7 405.4 L287.2 405.6 L287.7 405.8 L288.2 406.0 L288.7 406.2 L289.2 406.3 L289.7 406.4 L290.2 406.5 L290.7 406.6 L291.2 406.7 L291.7 406.8 L292.2 406.9 L292.7 407.0 L293.2 407.1 L293.7 407.2 L294.2 407.3 L294.7 407.4 L295.2 407.5 L295.7 407.6" fill="none" stroke="#40d0d0" stroke-width="0.7" stroke-opacity="0.9" stroke-linejoin="round"/>
<path d="M270.7 404.9 L271.2 404.9 L271.7 404.9 L272.2 404.8 L272.7 404.8 L273.2 404.8 L273.7 404.7 L274.2 404.6 L274.7 404.5 L275.2 404.3 L275.7 404.1 L276.2 403.9 L276.7 403.6 L277.2 403.2 L277.7 402.7 L278.2 402.2 L278.7 401.5 L279.2 400.7 L279.7 399.8 L280.2 398.8 L280.7 397.7 L281.2 396.4 L281.7 395.0 L282.2 393.6 L282.7 392.1 L283.2 390.7 L283.7 389.2 L284.2 387.8 L284.7 386.5 L285.2 385.4 L285.7 384.4 L286.2 383.7 L286.7 383.3 L287.2 383.2 L287.7 383.3 L288.2 383.8 L288.7 384.5 L289.2 385.5 L289.7 386.8 L290.2 388.1 L290.7 389.6 L291.2 391.2 L291.7 392.9 L292.2 394.5 L292.7 396.0 L293.2 397.6 L293.7 399.0 L294.2 400.3 L294.7 401.5 L295.2 402.6 L295.7 403.5 L296.2 404.3 L296.7 405.1 L297.2 405.7 L297.7 406.2 L298.2 406.6 L298.7 407.0 L299.2 407.3 L299.7 407.6 L300.2 407.8 L300.7 408.0 L301.2 408.1 L301.7 408.3 L302.2 408.4 L302.7 408.4 L303.2 408.5 L303.7 408.6" fill="none" stroke="#ffb070" stroke-width="0.7" stroke-opacity="0.9" stroke-linejoin="round"/>
<path d="M267.7 405.0 L268.2 405.0 L268.7 405.0 L269.2 404.9 L269.7 404.9 L270.2 404.9 L270.7 404.9 L271.2 404.9 L271.7 404.9 L272.2 404.9 L272.7 404.8 L273.2 404.8 L273.7 404.8 L274.2 404.7 L274.7 404.7 L275.2 404.6 L275.7 404.5 L276.2 404.3 L276.7 404.1 L277.2 403.9 L277.7 403.6 L278.2 403.2 L278.7 402.7 L279.2 402.1 L279.7 401.5 L280.2 400.6 L280.7 399.7 L281.2 398.6 L281.7 397.4 L282.2 396.0 L282.7 394.5 L283.2 392.9 L283.7 391.2 L284.2 389.4 L284.7 387.6 L285.2 385.9 L285.7 384.2 L286.2 382.6 L286.7 381.3 L287.2 380.1 L287.7 379.2 L288.2 378.7 L288.7 378.4 L289.2 378.5 L289.7 379.0 L290.2 379.8 L290.7 380.9 L291.2 382.3 L291.7 383.9 L292.2 385.6 L292.7 387.5 L293.2 389.4 L293.7 391.3 L294.2 393.2 L294.7 395.0 L295.2 396.8 L295.7 398.4 L296.2 399.8 L296.7 401.2 L297.2 402.4 L297.7 403.4 L298.2 404.3 L298.7 405.1 L299.2 405.8 L299.7 406.3 L300.2 406.8 L300.7 407.2 L301.2 407.5 L301.7 407.7 L302.2 408.0 L302.7 408.1 L303.2 408.3 L303.7 408.4 L304.2 408.5 L304.7 408.5 L305.2 408.6 L305.7 408.7 L306.2 408.7 L306.7 408.7 L307.2 408.8 L307.7 408.8 L308.2 408.8 L308.7 408.8 L309.2 408.8 L309.7 408.9 L310.2 408.9" fill="none" stroke="#3f9f43" stroke-width="0.7" stroke-opacity="0.85" stroke-linejoin="round"/>
<path d="M278.7 404.8 L279.2 404.7 L279.7 404.7 L280.2 404.7 L280.7 404.6 L281.2 404.5 L281.7 404.4 L282.2 404.3 L282.7 404.1 L283.2 403.8 L283.7 403.5 L284.2 403.1 L284.7 402.7 L285.2 402.1 L285.7 401.3 L286.2 400.4 L286.7 399.3 L287.2 398.1 L287.7 396.6 L288.2 394.8 L288.7 392.9 L289.2 390.6 L289.7 388.2 L290.2 385.4 L290.7 382.5 L291.2 379.3 L291.7 376.0 L292.2 372.5 L292.7 369.1 L293.2 365.6 L293.7 362.2 L294.2 358.9 L294.7 356.0 L295.2 353.3 L295.7 351.1 L296.2 349.3 L296.7 348.2 L297.2 347.6 L297.7 347.6 L298.2 348.2 L298.7 349.5 L299.2 351.3 L299.7 353.6 L300.2 356.3 L300.7 359.4 L301.2 362.8 L301.7 366.3 L302.2 369.9 L302.7 373.6 L303.2 377.1 L303.7 380.6 L304.2 383.9 L304.7 387.1 L305.2 390.0 L305.7 392.6 L306.2 395.0 L306.7 397.1 L307.2 399.0 L307.7 400.6 L308.2 402.0 L308.7 403.2 L309.2 404.2 L309.7 405.1 L310.2 405.8 L310.7 406.3 L311.2 406.8 L311.7 407.2 L312.2 407.5 L312.7 407.7 L313.2 407.9 L313.7 408.1 L314.2 408.2 L314.7 408.3 L315.2 408.4 L315.7 408.4 L316.2 408.5 L316.7 408.5 L317.2 408.5 L317.7 408.6 L318.2 408.6 L318.7 408.6 L319.2 408.6 L319.7 408.7 L320.2 408.7 L320.7 408.7 L321.2 408.7 L321.7 408.7 L322.2 408.7 L322.7 408.8 L323.2 408.8 L323.7 408.8 L324.2 408.8 L324.7 408.8 L325.2 408.8 L325.7 408.8 L326.2 408.8 L326.7 408.8 L327.2 408.8 L327.7 408.9 L328.2 408.9 L328.7 408.9 L329.2 408.9 L329.7 408.9 L330.2 408.9 L330.7 408.9 L331.2 408.9 L331.7 408.9 L332.2 408.9 L332.7 408.9 L333.2 408.9 L333.7 408.9 L334.2 408.9 L334.7 408.9 L335.2 408.9 L335.7 408.9 L336.2 408.9 L336.7 409.0 L337.2 409.0 L337.7 409.0 L338.2 409.0 L338.7 409.0 L339.2 409.0 L339.7 409.0 L340.2 409.0 L340.7 409.0 L341.2 409.0 L341.7 409.0 L342.2 409.0 L342.7 409.0 L343.2 409.0 L343.7 409.0 L344.2 409.0" fill="none" stroke="#5a5aff" stroke-width="0.7" stroke-opacity="0.75" stroke-linejoin="round"/>
<path d="M202.1 494.1 L202.6 494.4 L203.1 493.3 L203.6 491.3 L204.1 488.9 L204.6 486.7 L205.1 485.3 L205.6 485.2 L206.1 486.3 L206.6 487.9 L207.1 489.5 L207.6 490.5 L208.1 491.2 L208.6 491.8 L209.1 492.4 L209.6 493.2 L210.1 494.3 L210.6 495.5 L211.1 496.8 L211.6 498.0 L212.1 498.7 L212.6 498.4 L213.1 496.5 L213.6 493.6 L214.1 490.4 L214.6 487.7 L215.1 486.1 L215.6 485.9 L216.1 487.2 L216.6 489.5 L217.1 492.0 L217.6 493.9 L218.1 495.0 L218.6 495.1 L219.1 494.3 L219.6 492.7 L220.1 491.0 L220.6 489.8 L221.1 489.6 L221.6 490.2 L222.1 491.6 L222.6 493.6 L223.1 495.7 L223.6 497.4 L224.1 498.1 L224.6 497.5 L225.1 496.0 L225.6 494.0 L226.1 492.0 L226.6 490.6 L227.1 489.5 L227.6 488.8 L228.1 488.4 L228.6 488.2 L229.1 488.2 L229.6 488.5 L230.1 489.2 L230.6 490.3 L231.1 491.7 L231.6 493.6 L232.1 495.8 L232.6 498.0 L233.1 499.2 L233.6 498.6 L234.1 495.7 L234.6 491.9 L235.1 488.7 L235.6 486.9 L236.1 487.0 L236.6 488.8 L237.1 491.8 L237.6 494.9 L238.1 497.3 L238.6 498.0 L239.1 496.9 L239.6 494.1 L240.1 490.7 L240.6 487.9 L241.1 486.7 L241.6 487.1 L242.1 488.8 L242.6 491.3 L243.1 494.0 L243.6 496.5 L244.1 498.3 L244.6 499.1 L245.1 498.5 L245.6 496.5 L246.1 494.1 L246.6 492.1 L247.1 490.9 L247.6 490.5 L248.1 490.7 L248.6 491.3 L249.1 492.0 L249.6 492.4 L250.1 492.2 L250.6 491.4 L251.1 490.9 L251.6 491.0 L252.1 492.0 L252.6 493.5 L253.1 495.2 L253.6 496.8 L254.1 497.9 L254.6 498.2 L255.1 497.4 L255.6 495.7 L256.1 493.4 L256.6 490.8 L257.1 488.1 L257.6 485.6 L258.1 483.5 L258.6 482.2 L259.1 482.1 L259.6 483.5 L260.1 486.7 L260.6 490.7 L261.1 494.3 L261.6 496.5 L262.1 496.4 L262.6 493.9 L263.1 489.7 L263.6 485.9 L264.1 483.9 L264.6 483.9 L265.1 485.3 L265.6 487.5 L266.1 489.4 L266.6 490.0 L267.1 489.1 L267.6 487.4 L268.1 485.6 L268.6 484.2 L269.1 482.9 L269.6 481.4 L270.1 479.3 L270.6 477.3 L271.1 476.1 L271.6 476.6 L272.1 478.2 L272.6 479.4 L273.1 479.1 L273.6 477.3 L274.1 474.5 L274.6 471.1 L275.1 467.4 L275.6 463.9 L276.1 461.1 L276.6 458.8 L277.1 457.1 L277.6 455.7 L278.1 454.6 L278.6 453.7 L279.1 453.1 L279.6 453.0 L280.1 453.5 L280.6 453.8 L281.1 453.2 L281.6 451.2 L282.1 448.5 L282.6 445.7 L283.1 442.9 L283.6 440.3 L284.1 437.8 L284.6 435.4 L285.1 433.1 L285.6 430.8 L286.1 428.8 L286.6 426.9 L287.1 425.3 L287.6 423.9 L288.1 422.7 L288.6 421.6 L289.1 420.7 L289.6 419.9 L290.1 419.4 L290.6 419.2 L291.1 419.6 L291.6 420.4 L292.1 421.5 L292.6 422.9 L293.1 424.4 L293.6 425.9 L294.1 427.4 L294.6 428.8 L295.1 430.4 L295.6 432.1 L296.1 434.0 L296.6 436.1 L297.1 438.4 L297.6 440.9 L298.1 443.6 L298.6 446.5 L299.1 449.6 L299.6 452.8 L300.1 456.1 L300.6 459.6 L301.1 463.0 L301.6 466.4 L302.1 469.6 L302.6 472.7 L303.1 475.5 L303.6 477.8 L304.1 479.7 L304.6 481.1 L305.1 482.3 L305.6 483.8 L306.1 486.0 L306.6 488.5 L307.1 490.8 L307.6 492.6 L308.1 493.9 L308.6 494.8 L309.1 495.3 L309.6 495.2 L310.1 493.9 L310.6 491.0 L311.1 487.1 L311.6 483.8 L312.1 482.4 L312.6 482.9 L313.1 484.8 L313.6 487.6 L314.1 490.7 L314.6 493.4 L315.1 495.2 L315.6 495.8 L316.1 494.8 L316.6 492.8 L317.1 490.8 L317.6 489.7 L318.1 489.9 L318.6 490.9 L319.1 492.5 L319.6 494.2 L320.1 495.6 L320.6 496.4 L321.1 496.3 L321.6 495.3 L322.1 493.9 L322.6 492.4 L323.1 491.3 L323.6 490.8 L324.1 490.7 L324.6 491.2 L325.1 492.0 L325.6 492.4 L326.1 492.1 L326.6 491.1 L327.1 489.7 L327.6 488.1 L328.1 486.7 L328.6 485.5 L329.1 484.7 L329.6 484.3 L330.1 484.4 L330.6 484.7 L331.1 484.5 L331.6 483.1 L332.1 480.4 L332.6 477.5 L333.1 475.5 L333.6 475.4 L334.1 477.2 L334.6 480.3 L335.1 484.1 L335.6 487.6 L336.1 489.9 L336.6 490.6 L337.1 490.6 L337.6 490.8 L338.1 491.9 L338.6 493.0 L339.1 493.0 L339.6 491.7 L340.1 490.0 L340.6 489.1 L341.1 489.5 L341.6 490.4 L342.1 490.8 L342.6 490.1 L343.1 488.7 L343.6 487.6 L344.1 487.4 L344.6 487.9 L345.1 488.4 L345.6 488.2 L346.1 487.0 L346.6 485.2 L347.1 483.1 L347.6 481.2 L348.1 480.2 L348.6 480.8 L349.1 482.9 L349.6 485.9 L350.1 489.2 L350.6 491.9 L351.1 493.2 L351.6 492.4 L352.1 490.0 L352.6 486.6 L353.1 483.0 L353.6 480.2 L354.1 479.5 L354.6 481.3 L355.1 484.3 L355.6 487.2 L356.1 489.6 L356.6 491.7 L357.1 493.3 L357.6 494.5 L358.1 494.9 L358.6 494.5 L359.1 493.6 L359.6 492.6 L360.1 491.8 L360.6 491.4 L361.1 491.7 L361.6 492.8 L362.1 494.3 L362.6 496.0 L363.1 497.6 L363.6 498.7" fill="none" stroke="#ff5050" stroke-width="0.75" stroke-opacity="0.85" stroke-linejoin="round"/>
<path d="M236.3 490.7 L236.8 490.7 L237.3 490.7 L237.8 490.6 L238.3 490.6 L238.8 490.6 L239.3 490.6 L239.8 490.6 L240.3 490.6 L240.8 490.6 L241.3 490.5 L241.8 490.5 L242.3 490.5 L242.8 490.5 L243.3 490.5 L243.8 490.5 L244.3 490.5 L244.8 490.4 L245.3 490.4 L245.8 490.4 L246.3 490.4 L246.8 490.4 L247.3 490.4 L247.8 490.4 L248.3 490.3 L248.8 490.3 L249.3 490.3 L249.8 490.3 L250.3 490.3 L250.8 490.3 L251.3 490.2 L251.8 490.2 L252.3 490.2 L252.8 490.2 L253.3 490.2 L253.8 490.1 L254.3 490.1 L254.8 490.1 L255.3 490.1 L255.8 490.1 L256.3 490.1 L256.8 490.0 L257.3 490.0 L257.8 490.0 L258.3 490.0 L258.8 489.9 L259.3 489.9 L259.8 489.9 L260.3 489.9 L260.8 489.8 L261.3 489.8 L261.8 489.8 L262.3 489.8 L262.8 489.7 L263.3 489.7 L263.8 489.6 L264.3 489.6 L264.8 489.5 L265.3 489.4 L265.8 489.3 L266.3 489.1 L266.8 488.9 L267.3 488.7 L267.8 488.3 L268.3 487.9 L268.8 487.4 L269.3 486.8 L269.8 486.0 L270.3 485.1 L270.8 484.1 L271.3 482.9 L271.8 481.7 L272.3 480.3 L272.8 478.8 L273.3 477.3 L273.8 475.7 L274.3 474.2 L274.8 472.6 L275.3 471.1 L275.8 469.6 L276.3 468.2 L276.8 466.7 L277.3 465.3 L277.8 463.8 L278.3 462.3 L278.8 460.7 L279.3 459.0 L279.8 457.1 L280.3 455.1 L280.8 453.0 L281.3 450.7 L281.8 448.4 L282.3 446.0 L282.8 443.7 L283.3 441.4 L283.8 439.2 L284.3 437.2 L284.8 435.3 L285.3 433.5 L285.8 431.9 L286.3 430.5 L286.8 429.2 L287.3 428.1 L287.8 427.0 L288.3 426.1 L288.8 425.3 L289.3 424.6 L289.8 424.0 L290.3 423.6 L290.8 423.3 L291.3 423.3 L291.8 423.5 L292.3 423.9 L292.8 424.7 L293.3 425.7 L293.8 427.1 L294.3 428.8 L294.8 430.8 L295.3 433.3 L295.8 436.0 L296.3 439.1 L296.8 442.5 L297.3 446.0 L297.8 449.6 L298.3 453.3 L298.8 456.9 L299.3 460.4 L299.8 463.7 L300.3 466.8 L300.8 469.6 L301.3 472.2 L301.8 474.5 L302.3 476.5 L302.8 478.3 L303.3 479.9 L303.8 481.3 L304.3 482.5 L304.8 483.5 L305.3 484.4 L305.8 485.1 L306.3 485.8 L306.8 486.3 L307.3 486.7 L307.8 487.1 L308.3 487.3 L308.8 487.6 L309.3 487.8 L309.8 487.9 L310.3 488.0 L310.8 488.1 L311.3 488.2 L311.8 488.3 L312.3 488.3 L312.8 488.4 L313.3 488.4 L313.8 488.4 L314.3 488.4 L314.8 488.4 L315.3 488.5 L315.8 488.5 L316.3 488.5 L316.8 488.5 L317.3 488.5 L317.8 488.5 L318.3 488.5 L318.8 488.5 L319.3 488.5 L319.8 488.5 L320.3 488.5 L320.8 488.5 L321.3 488.5 L321.8 488.5 L322.3 488.5 L322.8 488.5 L323.3 488.5 L323.8 488.5 L324.3 488.5 L324.8 488.5 L325.3 488.5 L325.8 488.5 L326.3 488.5 L326.8 488.5 L327.3 488.5 L327.8 488.5 L328.3 488.5 L328.8 488.5 L329.3 488.5 L329.8 488.4 L330.3 488.4 L330.8 488.4 L331.3 488.4 L331.8 488.4 L332.3 488.4 L332.8 488.4 L333.3 488.4 L333.8 488.4 L334.3 488.4 L334.8 488.4 L335.3 488.4 L335.8 488.4 L336.3 488.4 L336.8 488.3 L337.3 488.3 L337.8 488.3 L338.3 488.3 L338.8 488.3 L339.3 488.3 L339.8 488.3 L340.3 488.3 L340.8 488.3 L341.3 488.3 L341.8 488.3 L342.3 488.2 L342.8 488.2 L343.3 488.2 L343.8 488.2 L344.3 488.2 L344.8 488.2 L345.3 488.2" fill="none" stroke="#ff3838" stroke-width="0.7" stroke-opacity="0.75" stroke-linejoin="round"/>
<path d="M236.3 490.8 L236.8 490.8 L237.3 490.8 L237.8 490.8 L238.3 490.8 L238.8 490.7 L239.3 490.7 L239.8 490.7 L240.3 490.7 L240.8 490.7 L241.3 490.7 L241.8 490.7 L242.3 490.7 L242.8 490.7 L243.3 490.6 L243.8 490.6 L244.3 490.6 L244.8 490.6 L245.3 490.6 L245.8 490.6 L246.3 490.6 L246.8 490.6 L247.3 490.5 L247.8 490.5 L248.3 490.5 L248.8 490.5 L249.3 490.5 L249.8 490.5 L250.3 490.5 L250.8 490.5 L251.3 490.5 L251.8 490.4 L252.3 490.4 L252.8 490.4 L253.3 490.4 L253.8 490.4 L254.3 490.4 L254.8 490.4 L255.3 490.4 L255.8 490.4 L256.3 490.3 L256.8 490.3 L257.3 490.3 L257.8 490.3 L258.3 490.3 L258.8 490.3 L259.3 490.3 L259.8 490.3 L260.3 490.3 L260.8 490.2 L261.3 490.2 L261.8 490.2 L262.3 490.2 L262.8 490.2 L263.3 490.2 L263.8 490.2 L264.3 490.2 L264.8 490.1 L265.3 490.1 L265.8 490.1 L266.3 490.1 L266.8 490.1 L267.3 490.1 L267.8 490.1 L268.3 490.1 L268.8 490.1 L269.3 490.0 L269.8 490.0 L270.3 490.0 L270.8 490.0 L271.3 490.0 L271.8 490.0 L272.3 490.0 L272.8 490.0 L273.3 490.0 L273.8 489.9 L274.3 489.9 L274.8 489.9 L275.3 489.9 L275.8 489.9 L276.3 489.9 L276.8 489.9 L277.3 489.9 L277.8 489.8 L278.3 489.8 L278.8 489.8 L279.3 489.8 L279.8 489.8 L280.3 489.8 L280.8 489.8 L281.3 489.8 L281.8 489.8 L282.3 489.7 L282.8 489.7 L283.3 489.7 L283.8 489.7 L284.3 489.7 L284.8 489.7 L285.3 489.7 L285.8 489.7 L286.3 489.7 L286.8 489.6 L287.3 489.6 L287.8 489.6 L288.3 489.6 L288.8 489.6 L289.3 489.6 L289.8 489.6 L290.3 489.6 L290.8 489.6 L291.3 489.5 L291.8 489.5 L292.3 489.5" fill="none" stroke="#15151c" stroke-width="0.6" stroke-opacity="0.7" stroke-linejoin="round"/>
<path d="M300.8 489.3 L301.3 489.3 L301.8 489.3 L302.3 489.3 L302.8 489.3 L303.3 489.3 L303.8 489.3 L304.3 489.2 L304.8 489.2 L305.3 489.2 L305.8 489.2 L306.3 489.2 L306.8 489.2 L307.3 489.2 L307.8 489.2 L308.3 489.2 L308.8 489.1 L309.3 489.1 L309.8 489.1 L310.3 489.1 L310.8 489.1 L311.3 489.1 L311.8 489.1 L312.3 489.1 L312.8 489.0 L313.3 489.0 L313.8 489.0 L314.3 489.0 L314.8 489.0 L315.3 489.0 L315.8 489.0 L316.3 489.0 L316.8 489.0 L317.3 488.9 L317.8 488.9 L318.3 488.9 L318.8 488.9 L319.3 488.9 L319.8 488.9 L320.3 488.9 L320.8 488.9 L321.3 488.9 L321.8 488.8 L322.3 488.8 L322.8 488.8 L323.3 488.8 L323.8 488.8 L324.3 488.8 L324.8 488.8 L325.3 488.8 L325.8 488.7 L326.3 488.7 L326.8 488.7 L327.3 488.7 L327.8 488.7 L328.3 488.7 L328.8 488.7 L329.3 488.7 L329.8 488.7 L330.3 488.6 L330.8 488.6 L331.3 488.6 L331.8 488.6 L332.3 488.6 L332.8 488.6 L333.3 488.6 L333.8 488.6 L334.3 488.6 L334.8 488.5 L335.3 488.5 L335.8 488.5 L336.3 488.5 L336.8 488.5 L337.3 488.5 L337.8 488.5 L338.3 488.5 L338.8 488.5 L339.3 488.4 L339.8 488.4 L340.3 488.4 L340.8 488.4 L341.3 488.4 L341.8 488.4 L342.3 488.4 L342.8 488.4 L343.3 488.3 L343.8 488.3 L344.3 488.3 L344.8 488.3 L345.3 488.3" fill="none" stroke="#15151c" stroke-width="0.6" stroke-opacity="0.45" stroke-linejoin="round"/>
<path d="M259.8 490.3 L260.3 490.2 L260.8 490.2 L261.3 490.2 L261.8 490.2 L262.3 490.2 L262.8 490.2 L263.3 490.2 L263.8 490.2 L264.3 490.2 L264.8 490.1 L265.3 490.1 L265.8 490.1 L266.3 490.1 L266.8 490.1 L267.3 490.1 L267.8 490.1 L268.3 490.1 L268.8 490.0 L269.3 490.0 L269.8 490.0 L270.3 490.0 L270.8 490.0 L271.3 489.9 L271.8 489.9 L272.3 489.9 L272.8 489.9 L273.3 489.8 L273.8 489.8 L274.3 489.8 L274.8 489.7 L275.3 489.7 L275.8 489.6 L276.3 489.6 L276.8 489.6 L277.3 489.6 L277.8 489.5 L278.3 489.5 L278.8 489.5 L279.3 489.5 L279.8 489.5 L280.3 489.5 L280.8 489.6 L281.3 489.6 L281.8 489.6 L282.3 489.6 L282.8 489.6 L283.3 489.6 L283.8 489.6 L284.3 489.6 L284.8 489.6 L285.3 489.6 L285.8 489.6 L286.3 489.6 L286.8 489.6 L287.3 489.6 L287.8 489.6 L288.3 489.6 L288.8 489.6 L289.3 489.6 L289.8 489.6 L290.3 489.6 L290.8 489.5 L291.3 489.5 L291.8 489.5 L292.3 489.5 L292.8 489.5 L293.3 489.5 L293.8 489.5 L294.3 489.5 L294.8 489.5 L295.3 489.4 L295.8 489.4 L296.3 489.4" fill="none" stroke="#40d0d0" stroke-width="0.7" stroke-opacity="0.9" stroke-linejoin="round"/>
<path d="M269.3 490.0 L269.8 490.0 L270.3 490.0 L270.8 490.0 L271.3 490.0 L271.8 489.9 L272.3 489.9 L272.8 489.9 L273.3 489.9 L273.8 489.9 L274.3 489.8 L274.8 489.8 L275.3 489.7 L275.8 489.7 L276.3 489.6 L276.8 489.5 L277.3 489.5 L277.8 489.4 L278.3 489.2 L278.8 489.1 L279.3 489.0 L279.8 488.9 L280.3 488.7 L280.8 488.6 L281.3 488.4 L281.8 488.3 L282.3 488.1 L282.8 488.0 L283.3 487.9 L283.8 487.8 L284.3 487.7 L284.8 487.7 L285.3 487.7 L285.8 487.7 L286.3 487.7 L286.8 487.8 L287.3 487.9 L287.8 488.0 L288.3 488.1 L288.8 488.3 L289.3 488.4 L289.8 488.5 L290.3 488.6 L290.8 488.8 L291.3 488.9 L291.8 489.0 L292.3 489.0 L292.8 489.1 L293.3 489.2 L293.8 489.2 L294.3 489.3 L294.8 489.3 L295.3 489.3 L295.8 489.3 L296.3 489.3 L296.8 489.3 L297.3 489.3 L297.8 489.3 L298.3 489.3 L298.8 489.3 L299.3 489.3 L299.8 489.3 L300.3 489.3 L300.8 489.3" fill="none" stroke="#ffb070" stroke-width="0.7" stroke-opacity="0.9" stroke-linejoin="round"/>
<path d="M263.3 490.0 L263.8 490.0 L264.3 490.0 L264.8 489.9 L265.3 489.9 L265.8 489.9 L266.3 489.9 L266.8 489.8 L267.3 489.8 L267.8 489.8 L268.3 489.7 L268.8 489.7 L269.3 489.6 L269.8 489.5 L270.3 489.4 L270.8 489.3 L271.3 489.2 L271.8 489.0 L272.3 488.7 L272.8 488.4 L273.3 488.0 L273.8 487.5 L274.3 486.9 L274.8 486.2 L275.3 485.3 L275.8 484.3 L276.3 483.1 L276.8 481.8 L277.3 480.3 L277.8 478.7 L278.3 476.9 L278.8 475.0 L279.3 473.0 L279.8 471.0 L280.3 469.0 L280.8 467.1 L281.3 465.3 L281.8 463.7 L282.3 462.4 L282.8 461.4 L283.3 460.7 L283.8 460.4 L284.3 460.5 L284.8 461.0 L285.3 461.9 L285.8 463.1 L286.3 464.6 L286.8 466.3 L287.3 468.1 L287.8 470.0 L288.3 472.0 L288.8 474.0 L289.3 475.9 L289.8 477.7 L290.3 479.4 L290.8 480.9 L291.3 482.3 L291.8 483.5 L292.3 484.5 L292.8 485.4 L293.3 486.2 L293.8 486.8 L294.3 487.3 L294.8 487.7 L295.3 488.1 L295.8 488.3 L296.3 488.5 L296.8 488.7 L297.3 488.8 L297.8 488.9 L298.3 488.9 L298.8 489.0 L299.3 489.0 L299.8 489.0 L300.3 489.0 L300.8 489.1 L301.3 489.1 L301.8 489.1 L302.3 489.1 L302.8 489.1 L303.3 489.1 L303.8 489.1 L304.3 489.1" fill="none" stroke="#3f9f43" stroke-width="0.7" stroke-opacity="0.85" stroke-linejoin="round"/>
<path d="M271.8 489.4 L272.3 489.3 L272.8 489.3 L273.3 489.2 L273.8 489.1 L274.3 489.0 L274.8 488.9 L275.3 488.7 L275.8 488.5 L276.3 488.3 L276.8 488.0 L277.3 487.7 L277.8 487.3 L278.3 486.8 L278.8 486.2 L279.3 485.5 L279.8 484.7 L280.3 483.7 L280.8 482.6 L281.3 481.3 L281.8 479.8 L282.3 478.1 L282.8 476.2 L283.3 474.1 L283.8 471.8 L284.3 469.4 L284.8 466.7 L285.3 463.9 L285.8 460.9 L286.3 457.8 L286.8 454.6 L287.3 451.5 L287.8 448.3 L288.3 445.2 L288.8 442.3 L289.3 439.6 L289.8 437.1 L290.3 435.0 L290.8 433.3 L291.3 431.9 L291.8 431.1 L292.3 430.7 L292.8 430.9 L293.3 431.5 L293.8 432.6 L294.3 434.2 L294.8 436.1 L295.3 438.4 L295.8 441.0 L296.3 443.9 L296.8 446.9 L297.3 450.0 L297.8 453.1 L298.3 456.3 L298.8 459.4 L299.3 462.4 L299.8 465.2 L300.3 468.0 L300.8 470.5 L301.3 472.8 L301.8 475.0 L302.3 476.9 L302.8 478.7 L303.3 480.2 L303.8 481.5 L304.3 482.7 L304.8 483.7 L305.3 484.6 L305.8 485.3 L306.3 485.9 L306.8 486.4 L307.3 486.8 L307.8 487.2 L308.3 487.5 L308.8 487.7 L309.3 487.9 L309.8 488.0 L310.3 488.1 L310.8 488.2 L311.3 488.3 L311.8 488.4 L312.3 488.4 L312.8 488.4 L313.3 488.5 L313.8 488.5 L314.3 488.5 L314.8 488.5 L315.3 488.5 L315.8 488.6 L316.3 488.6 L316.8 488.6 L317.3 488.6 L317.8 488.6 L318.3 488.6 L318.8 488.6 L319.3 488.6 L319.8 488.6 L320.3 488.6 L320.8 488.6 L321.3 488.6 L321.8 488.6 L322.3 488.6 L322.8 488.6 L323.3 488.6 L323.8 488.6 L324.3 488.5 L324.8 488.5 L325.3 488.5 L325.8 488.5 L326.3 488.5 L326.8 488.5 L327.3 488.5 L327.8 488.5 L328.3 488.5 L328.8 488.5 L329.3 488.5 L329.8 488.5 L330.3 488.5 L330.8 488.5 L331.3 488.5 L331.8 488.5 L332.3 488.4 L332.8 488.4 L333.3 488.4 L333.8 488.4 L334.3 488.4 L334.8 488.4 L335.3 488.4 L335.8 488.4 L336.3 488.4 L336.8 488.4 L337.3 488.4 L337.8 488.4 L338.3 488.3 L338.8 488.3 L339.3 488.3 L339.8 488.3 L340.3 488.3 L340.8 488.3 L341.3 488.3 L341.8 488.3 L342.3 488.3 L342.8 488.3 L343.3 488.3 L343.8 488.2 L344.3 488.2 L344.8 488.2 L345.3 488.2" fill="none" stroke="#5a5aff" stroke-width="0.7" stroke-opacity="0.75" stroke-linejoin="round"/>
</g>
<g id="axes">
<path d="M9.6 509.4 H173.5 M9.6 508.8 V516.4 M27.8 508.8 V516.4 M46.0 508.8 V516.4 M64.2 508.8 V516.4 M82.4 508.8 V516.4 M100.7 508.8 V516.4 M118.9 508.8 V516.4 M137.1 508.8 V516.4 M155.3 508.8 V516.4 M173.5 508.8 V516.4" stroke="#111" stroke-width="1.3" fill="none"/>
<text x="9.8" y="525.7" font-size="7.5" text-anchor="middle" textLength="11" lengthAdjust="spacingAndGlyphs" fill="#282828">542</text>
<text x="28.0" y="525.7" font-size="7.5" text-anchor="middle" textLength="11" lengthAdjust="spacingAndGlyphs" fill="#282828">540</text>
<text x="46.2" y="525.7" font-size="7.5" text-anchor="middle" textLength="11" lengthAdjust="spacingAndGlyphs" fill="#282828">538</text>
<text x="64.4" y="525.7" font-size="7.5" text-anchor="middle" textLength="11" lengthAdjust="spacingAndGlyphs" fill="#282828">536</text>
<text x="82.6" y="525.7" font-size="7.5" text-anchor="middle" textLength="11" lengthAdjust="spacingAndGlyphs" fill="#282828">534</text>
<text x="100.9" y="525.7" font-size="7.5" text-anchor="middle" textLength="11" lengthAdjust="spacingAndGlyphs" fill="#282828">532</text>
<text x="119.1" y="525.7" font-size="7.5" text-anchor="middle" textLength="11" lengthAdjust="spacingAndGlyphs" fill="#282828">530</text>
<text x="137.3" y="525.7" font-size="7.5" text-anchor="middle" textLength="11" lengthAdjust="spacingAndGlyphs" fill="#282828">528</text>
<text x="155.5" y="525.7" font-size="7.5" text-anchor="middle" textLength="11" lengthAdjust="spacingAndGlyphs" fill="#282828">526</text>
<text x="173.7" y="525.7" font-size="7.5" text-anchor="middle" textLength="11" lengthAdjust="spacingAndGlyphs" fill="#282828">524</text>
<path d="M199.8 509.4 H365.1 M199.8 508.8 V516.4 M220.5 508.8 V516.4 M241.1 508.8 V516.4 M261.8 508.8 V516.4 M282.5 508.8 V516.4 M303.1 508.8 V516.4 M323.8 508.8 V516.4 M344.4 508.8 V516.4 M365.1 508.8 V516.4" stroke="#111" stroke-width="1.3" fill="none"/>
<text x="200.0" y="525.7" font-size="7.5" text-anchor="middle" textLength="11" lengthAdjust="spacingAndGlyphs" fill="#282828">142</text>
<text x="220.7" y="525.7" font-size="7.5" text-anchor="middle" textLength="11" lengthAdjust="spacingAndGlyphs" fill="#282828">140</text>
<text x="241.3" y="525.7" font-size="7.5" text-anchor="middle" textLength="11" lengthAdjust="spacingAndGlyphs" fill="#282828">138</text>
<text x="262.0" y="525.7" font-size="7.5" text-anchor="middle" textLength="11" lengthAdjust="spacingAndGlyphs" fill="#282828">136</text>
<text x="282.7" y="525.7" font-size="7.5" text-anchor="middle" textLength="11" lengthAdjust="spacingAndGlyphs" fill="#282828">134</text>
<text x="303.3" y="525.7" font-size="7.5" text-anchor="middle" textLength="11" lengthAdjust="spacingAndGlyphs" fill="#282828">132</text>
<text x="324.0" y="525.7" font-size="7.5" text-anchor="middle" textLength="11" lengthAdjust="spacingAndGlyphs" fill="#282828">130</text>
<text x="344.6" y="525.7" font-size="7.5" text-anchor="middle" textLength="11" lengthAdjust="spacingAndGlyphs" fill="#282828">128</text>
<text x="365.3" y="525.7" font-size="7.5" text-anchor="middle" textLength="11" lengthAdjust="spacingAndGlyphs" fill="#282828">126</text>
</g>
<g id="arrows">
<path d="M148.4 51.4 L127.7 63.8" stroke="#111" stroke-width="1.0" fill="none"/><path d="M121.3 67.7 L126.9 60.6 L130.2 66.1 Z" fill="#111"/>
<path d="M58.0 66.0 L95.5 107.5" stroke="#111" stroke-width="1.0" fill="none"/><path d="M100.5 113.1 L92.4 108.9 L97.2 104.6 Z" fill="#111"/>
<path d="M29.5 109.2 L79.2 121.9" stroke="#111" stroke-width="1.0" fill="none"/><path d="M86.5 123.8 L77.5 124.8 L79.1 118.6 Z" fill="#111"/>
<path d="M247.3 88.7 L277.5 99.7" stroke="#111" stroke-width="1.0" fill="none"/><path d="M284.5 102.3 L275.4 102.4 L277.6 96.4 Z" fill="#111"/>
<path d="M326.0 59.5 L306.9 70.9" stroke="#111" stroke-width="1.0" fill="none"/><path d="M300.5 74.8 L306.1 67.7 L309.4 73.2 Z" fill="#111"/>
</g>

<g font-weight="bold" fill="#111">
<text x="100.5" y="20" font-size="17.8" textLength="37.7" lengthAdjust="spacingAndGlyphs">O 1s</text>
<text x="278.1" y="19.9" font-size="17.8" textLength="36.1" lengthAdjust="spacingAndGlyphs">P 2p</text>
<text x="141.3" y="47.5" font-size="10" textLength="22.4" lengthAdjust="spacingAndGlyphs">ZrO<tspan font-size="7" dy="1.9">2</tspan></text>
<text x="18.3" y="61" font-size="10" textLength="66.2" lengthAdjust="spacingAndGlyphs">suboxide/PO<tspan font-size="6.4" dy="-3.2">-</tspan></text>
<text x="7.7" y="103.5" font-size="10.4" textLength="41.2" lengthAdjust="spacingAndGlyphs">P=O/OH</text>
<text x="219.8" y="81.9" font-size="10.6" textLength="44.4" lengthAdjust="spacingAndGlyphs">PO<tspan font-size="7.2" dy="2">2</tspan><tspan dy="-2">(OH)</tspan><tspan font-size="6.6" dy="-3.6">-</tspan></text>
<text x="317.3" y="54.9" font-size="10" textLength="25" lengthAdjust="spacingAndGlyphs">PO<tspan font-size="7" dy="2">3</tspan><tspan font-size="7" dy="-5.8">2-</tspan></text>
<text x="96.1" y="541.9" font-size="7" text-anchor="middle" textLength="57.6" lengthAdjust="spacingAndGlyphs">Binding Energy (eV)</text>
<text x="286.9" y="541.9" font-size="7" text-anchor="middle" textLength="57.6" lengthAdjust="spacingAndGlyphs">Binding Energy (eV)</text>
</g>
<g font-weight="bold" font-size="12.6">
<text x="403.6" y="119.6" fill="#ff0000" textLength="77" lengthAdjust="spacingAndGlyphs">(ZrO<tspan font-size="8.6" dy="2.4">2</tspan><tspan dy="-2.4">)</tspan><tspan font-size="8.6" dy="2.4">25</tspan><tspan dy="-2.4">(PPA)</tspan></text>
<text x="399.1" y="223.0" fill="#ffc000" textLength="76.4" lengthAdjust="spacingAndGlyphs">(ZrO<tspan font-size="8.6" dy="2.4">2</tspan><tspan dy="-2.4">)</tspan><tspan font-size="8.6" dy="2.4">50</tspan><tspan dy="-2.4">(PPA)</tspan></text>
<text x="399.1" y="312.6" fill="#00b050" textLength="76.4" lengthAdjust="spacingAndGlyphs">(ZrO<tspan font-size="8.6" dy="2.4">2</tspan><tspan dy="-2.4">)</tspan><tspan font-size="8.6" dy="2.4">75</tspan><tspan dy="-2.4">(PPA)</tspan></text>
<text x="398.7" y="409.4" fill="#0070c0" textLength="82.5" lengthAdjust="spacingAndGlyphs">(ZrO<tspan font-size="8.6" dy="2.4">2</tspan><tspan dy="-2.4">)</tspan><tspan font-size="8.6" dy="2.4">100</tspan><tspan dy="-2.4">(PPA)</tspan></text>
<text x="404.2" y="492.4" fill="#00b0f0" textLength="81.5" lengthAdjust="spacingAndGlyphs">(ZrO<tspan font-size="8.6" dy="2.4">2</tspan><tspan dy="-2.4">)</tspan><tspan font-size="8.6" dy="2.4">200</tspan><tspan dy="-2.4">(PPA)</tspan></text>
</g>

</svg>
</body></html>
